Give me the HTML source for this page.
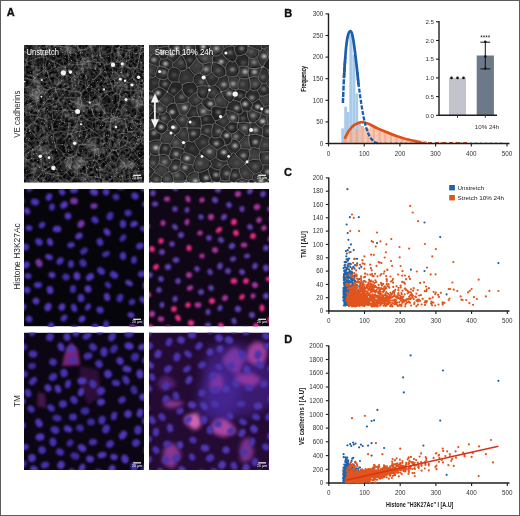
<!DOCTYPE html><html><head><meta charset="utf-8"><style>html,body{margin:0;padding:0;background:#fff;width:520px;height:516px;overflow:hidden}svg{display:block}text{font-family:"Liberation Sans",sans-serif}</style></head><body><svg width="520" height="516" viewBox="0 0 520 516"><defs><filter id="bl1" color-interpolation-filters="sRGB" x="-20%" y="-20%" width="140%" height="140%"><feGaussianBlur stdDeviation="0.6"/></filter><filter id="bl05" color-interpolation-filters="sRGB" x="-50%" y="-50%" width="200%" height="200%"><feGaussianBlur stdDeviation="0.45"/></filter><filter id="bl07" color-interpolation-filters="sRGB" x="-20%" y="-20%" width="140%" height="140%"><feGaussianBlur stdDeviation="0.7"/></filter><filter id="bl08" color-interpolation-filters="sRGB" x="-50%" y="-50%" width="200%" height="200%"><feGaussianBlur stdDeviation="0.8"/></filter><filter id="bl10" color-interpolation-filters="sRGB" x="-50%" y="-50%" width="200%" height="200%"><feGaussianBlur stdDeviation="1.0"/></filter><filter id="bl12" color-interpolation-filters="sRGB" x="-50%" y="-50%" width="200%" height="200%"><feGaussianBlur stdDeviation="1.2"/></filter><filter id="bl15" color-interpolation-filters="sRGB" x="-50%" y="-50%" width="200%" height="200%"><feGaussianBlur stdDeviation="2"/></filter><filter id="nzA" color-interpolation-filters="sRGB" x="0" y="0" width="100%" height="100%"><feTurbulence type="fractalNoise" baseFrequency="0.35" numOctaves="2" seed="4"/><feColorMatrix type="matrix" values="0.6 0 0 0 -0.16  0.6 0 0 0 -0.16  0.6 0 0 0 -0.16  0 0 0 0 1"/></filter><filter id="mW" color-interpolation-filters="sRGB" x="0" y="0" width="100%" height="100%"><feTurbulence type="fractalNoise" baseFrequency="0.07" numOctaves="2" seed="21"/><feColorMatrix type="matrix" values="0 0 0 0 1  0 0 0 0 1  0 0 0 0 1  2.2 0 0 0 -1.12"/></filter><filter id="mK" color-interpolation-filters="sRGB" x="0" y="0" width="100%" height="100%"><feTurbulence type="fractalNoise" baseFrequency="0.06" numOctaves="2" seed="33"/><feColorMatrix type="matrix" values="0 0 0 0 0  0 0 0 0 0  0 0 0 0 0  2.6 0 0 0 -1.25"/></filter><filter id="nzB" color-interpolation-filters="sRGB" x="0" y="0" width="100%" height="100%"><feTurbulence type="fractalNoise" baseFrequency="0.2" numOctaves="2" seed="9"/><feColorMatrix type="matrix" values="1 0 0 0 -0.35  1 0 0 0 -0.35  1 0 0 0 -0.35  0 0 0 0 1"/></filter><filter id="bl2" color-interpolation-filters="sRGB" x="-50%" y="-50%" width="200%" height="200%"><feGaussianBlur stdDeviation="1.8"/></filter><filter id="bl3" color-interpolation-filters="sRGB" x="-50%" y="-50%" width="200%" height="200%"><feGaussianBlur stdDeviation="5"/></filter><clipPath id="c0"><rect x="24" y="45" width="120" height="137.4"/></clipPath><clipPath id="c1"><rect x="149" y="45" width="120" height="137.4"/></clipPath><clipPath id="c2"><rect x="24" y="189" width="120" height="137.4"/></clipPath><clipPath id="c3"><rect x="149" y="189" width="120" height="137.4"/></clipPath><clipPath id="c4"><rect x="24" y="332.6" width="120" height="137.4"/></clipPath><clipPath id="c5"><rect x="149" y="332.6" width="120" height="137.4"/></clipPath></defs><rect x="0" y="0" width="520" height="516" fill="#fff"/><g clip-path="url(#c0)"><rect x="24" y="45" width="120" height="137.4" fill="#303030" filter="url(#nzA)"/><rect x="24" y="45" width="120" height="137.4" filter="url(#mW)" opacity="0.45"/><rect x="24" y="45" width="120" height="137.4" filter="url(#mK)" opacity="0.7"/><path d="M-6557 -5Q-3284 28 -6 62M-6557 -5Q-3272 35 12 81M-6 62Q2 68 13 69M12 81Q10 78 13 80M13 69Q15 75 13 80M157 37Q154 41 152 45M156 48Q155 46 152 45M147 201Q145 195 147 186M147 201Q156 194 163 187M163 187Q158 186 149 184M147 186Q150 183 149 184M142 221Q145 211 147 201M163 187Q187 182 212 177M-2997 141Q-2834 142 -2668 140M12 81Q16 81 15 86M6 96Q-1331 117 -2668 140M6 96Q6 97 10 94M15 86Q12 88 10 94M13 69Q15 67 16 69M13 80Q19 77 22 76M22 76Q17 71 16 69M-2997 141Q-1561 159 -123 176M-2 280Q8 236 14 191M14 191Q11 187 11 188M11 188Q-58 184 -123 176M18 152Q13 154 8 154M18 152Q17 151 21 154M21 157Q23 156 21 154M21 157Q18 159 16 164M16 164Q10 158 8 154M15 86Q17 88 23 88M10 94Q15 94 20 97M23 88Q23 91 21 97M20 97Q18 97 21 97M22 182Q26 176 26 175M22 182Q21 180 16 180M16 180Q14 177 15 178M15 178Q15 174 17 168M26 175Q23 174 20 169M17 168Q17 168 20 169M11 188Q12 187 16 180M-123 176Q-82 174 -46 174M-46 174Q-16 175 15 178M16 167Q-14 168 -46 174M16 167Q14 167 17 168M18 144Q2 148 -10 149M18 144Q19 144 18 143M18 143Q18 141 17 136M17 136Q-4 144 -27 147M-27 147Q-21 149 -10 149M18 152Q16 148 18 144M8 154Q0 154 -10 149M-225 140Q-125 141 -27 147M-225 140Q-107 133 12 130M12 130Q17 131 17 135M17 135Q16 135 17 136M-225 140Q-393 139 -556 135M16 167Q16 164 16 164M-2668 140Q-1612 135 -556 135M194 66Q174 64 153 65M194 66Q172 59 154 57M153 65Q152 63 151 59M154 57Q152 58 151 59M156 48Q154 50 154 57M194 66Q197 66 201 66M201 66Q1647 86 3088 109M153 65Q150 68 150 71M151 59Q153 61 150 59M141 63Q147 58 150 59M141 63Q146 68 147 71M147 71Q147 71 150 71M201 66Q175 72 153 74M150 71Q153 74 153 74M160 84Q158 80 153 78M160 84Q603 98 1043 115M3088 109Q2064 111 1043 115M153 74Q153 75 153 78M149 85Q152 87 154 88M149 85Q146 88 145 90M145 90Q146 93 150 95M150 95Q151 95 155 92M154 88Q154 90 155 92M160 84Q158 86 154 88M149 83Q150 83 153 78M149 83Q147 83 149 85M149 99Q150 95 150 95M149 99Q150 103 154 103M172 103Q165 104 154 103M172 103Q165 99 155 92M444 120Q743 118 1043 115M444 120Q318 115 193 108M193 108Q182 104 172 103M141 101Q143 102 142 101M141 101Q142 96 141 91M142 101Q147 100 149 99M145 90Q143 88 141 90M141 91Q141 92 141 90M71 1982Q87 1139 101 292M142 221Q138 212 134 200M101 292Q107 246 117 197M117 197Q120 192 124 192M124 192Q130 196 134 200M147 186Q144 187 142 184M142 184Q137 187 135 188M134 200Q134 194 135 188M146 149Q148 150 150 154M146 149Q142 152 138 151M138 157Q137 151 138 151M138 157Q139 159 145 161M145 161Q150 155 150 154M32 106Q37 104 37 103M32 106Q29 104 29 104M31 96Q28 99 28 100M31 96Q34 95 37 96M29 104Q27 104 28 100M37 103Q39 99 37 96M46 110Q49 112 53 111M46 110Q48 112 45 118M52 121Q47 120 47 120M52 121Q53 118 53 119M53 111Q51 114 53 119M45 118Q45 120 47 120M6 96Q10 98 14 104M20 97Q17 100 18 103M14 104Q18 106 18 103M106 122Q103 122 102 117M106 122Q113 121 116 120M102 117Q105 114 105 113M105 113Q106 113 111 113M116 120Q111 117 111 113M147 133Q153 139 156 141M147 133Q146 132 144 134M144 134Q145 138 142 138M142 138Q147 143 147 146M147 146Q152 143 156 141M175 141Q164 140 156 141M175 141Q165 147 153 155M146 149Q148 148 147 146M153 155Q151 157 150 154M138 151Q134 149 134 148M142 138Q139 141 139 139M139 139Q136 142 134 148M83 165Q82 161 85 156M83 165Q85 165 88 168M96 161Q89 158 87 155M96 161Q96 164 94 166M85 156Q88 157 87 155M94 166Q93 168 88 168M21 154Q25 151 29 148M18 143Q22 143 28 144M29 148Q26 148 28 144M17 135Q19 132 22 133M22 133Q26 138 30 141M28 144Q28 142 30 141M83 165Q82 164 79 166M85 156Q79 154 78 152M78 152Q76 156 73 156M79 166Q76 163 73 156M21 157Q21 156 26 160M20 169Q24 166 26 165M26 165Q24 161 26 160M14 191Q17 190 21 190M22 182Q22 184 22 183M22 183Q21 185 21 190M-2 280Q11 233 22 192M22 192Q21 190 21 190M106 122Q105 123 105 128M105 128Q105 130 103 130M103 130Q101 131 96 128M102 117Q98 118 96 118M96 128Q95 122 96 118M104 136Q106 134 103 130M104 136Q105 139 101 138M101 138Q98 136 91 138M91 138Q90 133 92 131M96 128Q94 130 92 131M76 144Q77 145 78 146M76 144Q77 138 76 136M78 146Q83 143 86 144M76 136Q76 136 79 134M79 134Q85 136 90 139M86 144Q87 143 90 139M89 152Q87 151 87 155M89 152Q86 145 86 144M78 152Q79 147 78 146M98 149Q96 149 89 152M98 149Q93 144 90 139M90 139Q89 138 90 139M152 45Q148 45 148 45M150 59Q145 54 145 51M145 51Q149 47 148 45M157 37Q152 36 149 33M149 33Q148 35 144 40M148 45Q145 44 144 40M149 33Q144 -12 137 -58M193 -12244Q163 -6170 136 -94M137 -58Q138 -75 136 -94M13 36Q17 39 16 40M13 36Q17 25 22 18M16 40Q22 39 24 36M24 36Q23 28 22 18M-445 7Q-217 21 13 36M22 18Q24 5 25 -8M-6 62Q3 62 10 57M10 57Q16 59 17 61M16 69Q16 69 18 66M17 61Q17 65 18 66M21 53Q20 51 23 50M21 53Q17 55 14 53M14 53Q15 48 13 46M23 48Q20 46 16 44M23 48Q22 51 23 50M13 46Q15 47 16 44M10 57Q10 55 14 53M21 58Q19 60 17 61M21 58Q22 56 21 53M-445 7Q-217 27 13 46M16 40Q15 44 16 44M30 41Q27 39 24 36M30 41Q25 43 23 48M126 168Q132 164 133 162M126 168Q126 165 121 160M121 160Q124 157 122 158M122 158Q128 159 129 157M129 157Q131 160 133 161M133 162Q134 161 133 161M126 169Q127 167 126 168M126 169Q126 171 130 172M137 166Q135 166 133 162M137 166Q135 170 136 171M136 171Q135 174 130 172M120 173Q125 169 126 169M120 173Q116 171 117 172M117 172Q115 166 116 163M116 163Q117 159 121 160M138 157Q138 158 133 161M134 148Q133 147 132 148M132 148Q132 154 129 157M137 166Q140 166 145 165M145 165Q143 162 145 161M128 77Q123 77 121 79M128 77Q127 73 128 69M121 79Q118 76 117 73M128 69Q128 64 125 65M117 73Q118 67 125 65M143 79Q146 77 144 73M143 79Q142 83 139 81M139 81Q135 82 134 79M137 72Q134 75 134 79M137 72Q142 74 144 73M134 79Q133 79 134 79M149 83Q144 80 143 79M147 71Q148 74 144 73M141 90Q141 87 139 81M141 91Q138 90 131 91M131 91Q133 90 130 90M130 90Q130 85 134 79M128 77Q131 79 134 79M136 69Q133 66 128 69M136 69Q137 72 137 72M121 79Q122 82 121 80M121 80Q124 86 127 89M127 89Q127 92 130 90M444 120Q317 131 191 138M191 138Q170 133 151 128M193 108Q176 113 155 116M155 116Q154 124 151 128M191 138Q181 137 175 141M147 133Q149 133 150 128M151 128Q151 127 150 128M142 101Q142 105 146 109M154 103Q151 106 149 109M146 109Q148 108 149 109M155 116Q155 115 151 115M149 109Q148 111 151 115M141 63Q143 61 141 63M145 51Q141 54 139 53M141 63Q139 59 139 53M136 69Q135 68 138 64M141 63Q138 62 138 64M131 97Q129 102 125 102M131 97Q136 101 137 102M137 102Q138 107 135 107M125 105Q129 105 132 108M125 105Q127 103 125 102M135 107Q132 108 132 108M141 101Q137 99 137 102M131 91Q130 94 131 97M146 109Q144 113 140 113M140 113Q139 112 135 107M114 86Q118 84 121 80M114 86Q116 87 117 93M127 89Q121 93 119 94M117 93Q117 95 119 94M125 102Q123 98 121 100M119 94Q120 96 121 100M121 111Q116 108 114 107M121 111Q122 107 125 105M114 107Q115 104 114 105M121 100Q117 103 114 105M102 99Q106 95 106 95M102 99Q100 100 103 105M103 105Q106 103 113 104M106 95Q106 94 111 97M111 97Q110 100 113 104M105 113Q105 109 103 106M103 106Q101 104 103 105M111 113Q111 108 114 107M114 105Q113 106 113 104M117 93Q115 93 111 97M132 186Q126 185 125 188M132 186Q132 182 131 180M130 178Q131 177 131 180M130 178Q125 180 123 180M123 180Q123 182 122 184M122 184Q125 184 125 188M124 192Q123 190 125 188M135 188Q134 189 132 186M142 184Q143 181 139 177M139 177Q136 179 131 180M139 175Q137 177 139 177M139 175Q137 172 136 171M130 172Q128 173 130 178M120 173Q123 177 123 180M165 170Q163 167 158 166M165 170Q157 172 150 177M158 166Q153 168 146 166M150 177Q149 177 145 172M145 172Q145 170 146 166M212 177Q187 174 165 170M153 155Q154 161 158 166M149 184Q150 180 150 177M145 165Q145 166 146 166M139 175Q142 173 145 172M46 110Q43 108 45 108M45 108Q43 113 37 112M45 118Q41 119 39 117M39 117Q40 113 37 112M45 108Q43 108 44 105M32 106Q32 110 34 111M44 105Q40 105 37 103M37 112Q37 110 34 111M50 145Q48 145 41 147M50 145Q46 138 46 136M41 147Q40 145 39 141M39 141Q41 140 46 136M30 128Q29 129 30 126M30 128Q30 131 35 135M30 126Q30 124 34 123M35 135Q38 132 42 129M34 123Q36 123 34 123M34 123Q39 125 42 128M42 128Q44 128 42 129M22 133Q24 135 22 133M22 133Q27 130 30 128M30 141Q31 142 34 139M34 139Q36 138 35 135M39 141Q35 140 34 139M46 136Q48 133 47 133M47 133Q46 131 42 129M39 117Q35 120 34 123M30 115Q30 120 34 123M30 115Q33 111 34 111M47 120Q43 125 42 128M30 115Q27 115 27 115M30 126Q27 123 21 120M21 120Q22 120 27 115M29 104Q28 107 23 108M27 115Q24 112 23 108M21 97Q24 96 28 100M18 103Q19 103 22 108M23 108Q21 107 22 108M104 136Q108 138 111 139M105 128Q111 131 115 130M111 139Q110 138 113 138M113 138Q112 133 115 130M116 120Q114 118 116 120M116 120Q114 124 116 129M115 130Q117 128 116 129M116 120Q120 118 120 118M121 111Q121 113 122 115M120 118Q119 116 122 115M132 108Q131 113 129 115M122 115Q124 117 129 115M132 148Q132 148 131 147M122 158Q119 156 120 150M131 147Q124 149 120 150M100 159Q99 156 98 149M100 159Q101 161 101 159M101 159Q104 158 110 155M101 147Q100 148 98 149M101 147Q106 148 110 148M110 155Q110 153 112 150M110 148Q109 149 112 150M96 161Q98 159 100 159M98 149Q98 150 98 149M113 162Q108 162 107 165M113 162Q110 159 110 155M107 165Q102 161 101 159M101 138Q101 143 101 147M90 139Q89 140 91 138M111 139Q109 144 110 148M116 163Q113 163 113 162M120 150Q119 149 119 150M119 150Q115 150 112 150M113 138Q118 140 121 140M119 150Q119 143 121 140M40 150Q35 149 32 151M40 150Q42 152 42 155M42 155Q41 154 41 158M41 158Q38 157 33 159M32 151Q32 155 32 158M32 158Q33 157 33 159M41 147Q40 151 40 150M29 148Q28 150 32 151M50 145Q51 146 53 146M53 146Q51 148 49 154M49 154Q46 152 42 155M26 160Q31 160 32 158M59 155Q63 154 67 153M59 155Q58 153 55 146M67 153Q65 149 66 146M55 146Q55 147 56 145M56 145Q62 144 65 145M66 146Q63 146 65 145M67 163Q69 158 72 157M67 163Q65 162 61 162M72 157Q69 154 67 153M61 162Q60 158 59 157M59 157Q59 158 59 155M53 146Q54 145 55 146M59 157Q56 160 52 159M49 154Q53 158 52 159M73 156Q74 158 72 157M76 144Q72 145 66 146M68 134Q66 135 68 134M68 134Q72 137 76 136M68 134Q65 141 65 145M67 163Q67 167 69 167M79 166Q81 165 77 169M77 169Q72 170 69 167M52 159Q54 161 51 162M41 158Q41 159 44 165M51 162Q46 166 44 165M61 162Q61 165 57 169M51 162Q55 167 57 169M69 223Q66 209 65 192M69 223Q72 206 77 191M77 191Q71 188 69 188M65 192Q67 188 69 188M88 168Q88 171 87 178M78 178Q83 177 86 179M78 178Q76 177 77 177M77 177Q78 174 77 169M87 178Q88 180 86 179M57 139Q61 136 63 133M57 139Q53 134 50 132M63 133Q62 131 58 129M58 129Q57 127 53 129M53 129Q51 129 50 132M68 134Q64 135 63 133M56 145Q56 143 57 139M47 133Q47 132 50 132M68 134Q68 129 69 123M62 121Q59 126 58 129M62 121Q67 124 69 123M52 121Q50 125 53 129M62 121Q61 121 62 120M62 120Q56 121 53 119M103 106Q97 110 92 109M96 118Q92 117 94 117M94 117Q93 115 92 109M90 103Q96 99 99 98M90 103Q89 107 90 108M99 98Q100 97 102 99M92 109Q93 110 90 108M109 34Q107 33 106 31M109 34Q112 38 111 45M106 31Q105 38 99 42M111 45Q108 46 102 46M99 42Q102 44 102 46M193 -12244Q139 -6382 83 -518M83 -518Q88 -314 93 -113M121 35Q121 36 121 35M121 35Q115 36 109 34M121 35Q130 -31 136 -94M106 31Q105 23 102 18M93 -113Q95 -50 102 18M121 35Q124 37 129 39M137 -58Q135 -18 135 26M129 39Q133 32 135 26M144 40Q144 39 140 40M140 40Q139 32 135 26M113 183Q110 183 104 181M113 183Q115 182 115 186M115 186Q115 187 113 189M113 189Q111 192 106 191M106 191Q102 187 102 187M102 187Q104 187 104 181M117 172Q118 173 114 174M114 174Q115 176 113 183M122 184Q116 185 115 186M117 197Q115 194 113 189M106 169Q106 171 108 172M106 169Q104 169 98 170M108 172Q105 177 103 180M103 180Q103 177 97 177M98 170Q98 173 97 177M107 165Q106 166 106 169M114 174Q111 173 108 172M94 166Q96 168 98 170M104 181Q104 182 103 180M94 179Q95 183 95 189M94 179Q98 176 97 177M95 189Q97 190 102 187M87 178Q89 177 94 179M22 76Q22 75 23 76M23 88Q23 89 25 87M23 76Q23 80 25 87M31 96Q29 94 29 88M29 88Q28 87 28 87M25 87Q28 89 28 87M21 58Q24 61 26 61M23 50Q26 52 30 55M26 61Q29 56 30 55M53 111Q52 109 54 111M62 120Q61 118 63 112M54 111Q60 109 63 112M90 103Q88 104 89 102M99 98Q98 95 94 91M94 91Q93 90 89 92M89 92Q91 98 89 102M125 65Q124 63 124 63M138 64Q133 63 132 60M132 60Q130 58 126 62M126 62Q125 65 124 63M140 115Q140 115 144 119M140 115Q134 117 133 120M136 127Q134 126 133 122M136 127Q138 123 145 123M145 123Q147 118 144 119M133 120Q132 120 133 122M151 115Q145 116 144 119M140 113Q141 115 140 115M129 115Q132 118 133 120M136 127Q141 128 144 134M136 127Q137 127 136 127M150 128Q146 125 145 123M120 118Q122 123 126 124M126 124Q129 122 133 122M132 60Q135 58 134 54M139 53Q141 54 139 53M134 54Q136 53 139 53M140 40Q138 42 135 43M139 53Q139 47 135 43M16 114Q19 115 19 121M16 114Q12 115 11 111M-12 116Q-2 114 11 111M-12 116Q4 120 15 123M15 123Q17 123 18 122M18 122Q21 123 19 121M21 120Q19 119 19 121M22 108Q18 109 16 114M14 104Q14 109 11 111M-556 135Q-286 123 -12 116M12 130Q13 127 15 123M22 133Q22 127 18 122M128 141Q126 142 123 139M128 141Q132 136 133 135M123 139Q124 136 123 131M132 132Q134 133 133 135M132 132Q126 131 124 131M124 131Q123 130 123 131M131 147Q131 145 128 141M121 140Q123 141 123 139M139 139Q134 135 133 135M116 129Q119 132 123 131M136 127Q135 131 132 132M126 124Q126 129 124 131M62 1104Q65 1092 62 1078M62 1104Q49 652 31 195M62 1078Q56 646 48 211M48 211Q42 199 39 191M39 191Q37 192 31 195M22 183Q25 181 31 184M22 192Q26 190 29 193M31 184Q33 183 32 185M32 185Q32 191 29 193M71 1982Q68 1542 62 1104M31 195Q31 196 29 193M57 169Q58 169 57 172M57 172Q50 175 48 173M44 165Q44 163 43 167M48 173Q46 170 43 167M33 159Q33 166 34 169M43 167Q37 166 34 169M26 165Q29 167 34 170M34 169Q36 170 34 170M26 175Q28 173 33 173M34 170Q32 172 33 173M31 184Q34 177 34 174M33 173Q34 172 34 174M58 174Q57 177 59 178M58 174Q64 172 66 172M66 172Q69 174 72 178M59 178Q57 179 60 180M60 180Q63 182 69 182M72 178Q72 178 69 182M69 167Q68 168 66 172M57 172Q59 172 58 174M77 177Q76 178 72 178M65 192Q63 189 60 190M69 188Q71 184 69 182M60 190Q62 185 60 180M77 191Q77 191 78 190M78 178Q77 185 78 190M94 190Q90 190 87 188M94 190Q97 213 98 231M98 235Q97 232 98 231M98 235Q93 213 83 191M83 191Q84 190 87 188M86 179Q85 186 87 188M95 189Q96 190 94 190M106 191Q101 213 98 231M101 292Q101 265 98 235M62 1078Q68 648 69 223M78 190Q81 192 83 191M92 131Q88 126 85 126M94 117Q90 117 87 120M87 120Q83 125 85 126M79 134Q81 131 81 127M81 127Q84 127 85 126M69 123Q71 120 74 121M81 127Q76 124 74 121M91 47Q89 46 86 48M91 47Q90 43 94 42M86 48Q83 46 82 40M94 42Q92 39 92 38M92 38Q88 36 83 36M82 40Q83 38 83 36M83 36Q81 38 83 36M88 59Q92 56 96 56M88 59Q90 57 87 58M97 56Q98 56 96 56M97 56Q93 51 91 47M87 58Q85 54 84 51M84 51Q84 49 86 48M100 55Q101 51 102 46M100 55Q97 53 97 56M99 42Q98 40 94 42M75 46Q79 43 82 40M75 46Q79 47 78 51M78 51Q83 49 84 51M102 18Q95 29 92 38M93 -113Q86 -38 83 36M18 66Q23 64 26 66M26 61Q28 62 27 65M26 66Q29 63 27 65M23 76Q22 76 25 75M26 66Q24 70 25 75M28 87Q33 82 35 78M35 78Q32 76 34 76M34 76Q34 77 34 76M25 75Q31 75 34 76M47 82Q42 81 40 83M47 82Q47 83 50 88M50 88Q49 90 44 94M40 83Q37 87 38 89M38 89Q39 89 40 93M40 93Q44 96 44 94M29 88Q32 90 38 89M35 78Q37 82 40 83M37 96Q39 96 40 93M44 105Q45 101 47 100M47 100Q47 97 44 94M80 80Q82 82 85 81M80 80Q78 87 74 88M85 81Q85 86 87 90M74 88Q75 89 80 93M80 93Q82 91 87 90M76 103Q74 101 73 102M76 103Q80 101 80 100M73 102Q71 103 70 99M80 100Q82 98 80 93M70 99Q73 95 72 89M72 89Q72 91 74 88M89 92Q86 93 87 90M89 102Q84 100 80 100M117 73Q115 72 113 72M124 63Q122 63 115 59M115 59Q114 60 111 63M113 72Q112 65 111 63M88 59Q89 61 88 68M96 56Q96 60 97 67M97 67Q94 69 88 68M100 55Q99 57 100 55M100 55Q102 60 107 63M107 63Q102 66 100 70M97 67Q99 67 100 70M80 80Q77 79 78 78M85 81Q89 82 90 78M78 78Q79 72 81 69M81 69Q82 67 88 69M88 69Q87 72 90 78M94 91Q97 87 97 86M97 86Q96 81 94 79M90 78Q91 78 94 79M114 86Q113 85 113 85M106 95Q104 93 105 91M113 85Q111 86 105 91M97 86Q97 87 100 87M105 91Q102 88 100 87M78 51Q80 50 77 52M87 58Q84 61 77 63M77 52Q75 56 77 63M77 64Q77 67 81 69M77 64Q79 61 77 63M88 68Q86 66 88 69M77 63Q76 61 77 63M46 34Q47 40 43 42M46 34Q43 34 35 34M43 42Q41 44 35 44M35 34Q33 38 32 41M35 44Q33 42 32 41M30 41Q33 40 32 41M25 -8Q29 14 35 34M30 55Q31 53 31 55M36 48Q33 50 31 55M36 48Q38 46 35 44M83 -518Q75 -280 62 -43M46 34Q49 36 46 34M46 34Q54 -3 62 -43M70 41Q66 39 63 41M70 41Q72 36 72 36M63 41Q62 37 61 31M72 36Q70 29 64 19M64 19Q61 27 61 31M75 46Q73 45 71 43M71 43Q71 44 70 41M83 36Q77 33 72 36M62 -43Q65 -11 64 19M46 34Q51 34 53 38M53 38Q55 35 61 31M71 43Q69 49 65 52M63 41Q61 44 58 46M65 52Q60 49 58 46M53 38Q53 43 55 46M55 46Q57 47 58 46M126 62Q127 60 126 53M134 54Q134 51 130 51M126 53Q129 52 130 51M135 43Q131 43 131 43M130 51Q132 49 131 43M129 39Q128 39 130 42M130 42Q132 45 131 43M112 46Q111 47 113 52M112 46Q116 45 118 44M118 44Q122 43 123 46M113 52Q114 55 114 54M114 54Q118 52 123 51M123 46Q121 50 123 51M111 45Q112 45 112 46M100 55Q107 55 113 52M121 35Q121 39 118 44M130 42Q127 44 123 46M115 59Q116 58 114 54M107 63Q110 64 111 63M126 53Q124 53 123 51M51 183Q50 188 52 192M51 183Q47 182 44 179M52 192Q44 189 40 187M52 192Q53 192 52 192M44 179Q44 179 43 180M43 180Q42 184 40 187M40 187Q41 186 40 187M60 190Q54 191 52 192M59 178Q53 182 51 183M48 173Q45 175 44 179M48 211Q50 199 52 192M39 191Q42 191 40 187M34 174Q40 177 43 180M32 185Q38 185 40 187M73 114Q75 109 77 107M73 114Q73 118 74 118M74 118Q79 117 82 115M82 115Q82 114 83 111M77 107Q80 108 83 111M65 110Q69 104 73 102M65 110Q69 113 73 114M76 103Q75 104 77 107M65 110Q66 109 64 111M63 112Q62 113 64 111M74 121Q72 119 74 118M87 120Q86 117 82 115M90 108Q88 110 83 111M35 59Q37 57 44 57M35 59Q36 61 33 66M34 66Q33 68 33 66M34 66Q36 68 43 66M43 66Q44 62 44 57M27 65Q28 66 33 66M31 55Q35 56 35 59M34 76Q32 69 34 66M46 71Q38 73 34 76M46 71Q46 66 43 66M61 103Q58 102 56 102M61 103Q62 101 65 99M65 99Q64 94 62 93M56 102Q56 101 53 99M53 99Q54 98 56 92M56 92Q60 91 62 93M54 111Q57 107 56 102M64 111Q62 105 61 103M70 99Q66 98 65 99M72 89Q69 87 68 87M68 87Q68 90 62 93M47 100Q49 99 53 99M55 89Q55 89 56 92M55 89Q52 89 50 88M113 72Q109 72 101 72M113 72Q112 77 108 81M108 81Q106 81 106 81M106 81Q103 75 100 74M100 74Q98 75 101 72M113 72Q111 74 113 72M100 70Q100 69 101 72M113 85Q113 84 108 81M100 87Q103 85 106 81M94 79Q98 76 100 74M72 62Q71 59 68 55M72 62Q67 65 65 66M65 66Q67 67 64 66M64 66Q64 64 62 58M62 58Q65 55 65 54M68 55Q67 55 65 54M77 52Q73 51 68 55M77 63Q72 61 72 62M65 52Q67 51 65 54M77 64Q74 69 72 71M65 66Q64 67 67 70M67 70Q68 68 72 71M78 78Q78 76 75 77M75 77Q73 73 72 71M46 71Q44 73 47 71M47 82Q46 79 49 77M47 71Q49 74 49 77M54 62Q56 59 57 58M54 62Q49 58 44 57M57 58Q54 51 51 49M44 57Q42 56 45 55M45 55Q49 54 50 49M50 49Q52 49 51 49M64 66Q61 68 57 68M62 58Q61 60 57 58M54 67Q55 67 57 68M54 67Q55 63 54 62M44 57Q42 59 44 57M54 67Q48 71 47 71M55 46Q55 46 51 49M36 48Q42 51 45 55M43 42Q46 48 50 49M65 75Q68 78 68 79M65 75Q62 77 59 75M59 83Q63 86 66 84M59 83Q59 78 57 78M66 84Q68 83 68 79M57 78Q60 77 59 75M67 70Q64 74 65 75M75 77Q71 76 68 79M57 68Q57 70 59 75M55 89Q59 84 59 83M68 87Q69 83 66 84M49 77Q54 76 57 78" stroke="#a8a8a8" stroke-width="0.6" fill="none" opacity="0.45"/><path d="M152 177Q147 179 141 184M152 177Q158 170 160 167M160 167Q148 170 136 172M136 172Q137 175 139 181M141 184Q139 185 139 181M175 274Q156 226 141 184M44965 494Q22584 324 199 150M199 150Q188 152 176 154M176 154Q171 160 160 167M44965 494Q22738 288 517 83M145 47Q331 65 517 83M19 109Q23 98 22 93M19 109Q10 113 -3 116M-24 113Q-0 101 21 91M-24 113Q-15 113 -3 116M21 91Q20 92 22 93M1 154Q10 150 18 143M8 123Q11 133 18 143M8 123Q3 121 -3 116M38 117Q39 117 37 116M38 117Q34 122 28 127M37 116Q32 115 23 111M23 111Q21 116 19 125M28 127Q27 126 27 128M19 125Q21 125 27 128M8 123Q15 123 19 125M19 109Q21 109 23 111M18 143Q18 143 23 142M23 142Q24 138 27 128M1 154Q13 158 24 157M17 200Q23 178 24 157M23 142Q25 144 33 149M24 157Q26 154 33 149M78 188Q78 187 82 185M78 188Q85 194 94 201M82 185Q91 188 97 193M94 201Q94 195 97 193M63 213Q71 202 75 189M75 189Q75 187 78 188M152 129Q145 127 143 128M152 129Q155 119 156 109M143 128Q143 127 140 120M156 109Q148 114 140 120M199 150Q177 137 152 129M517 83Q412 87 304 86M156 109Q159 104 159 104M159 104Q232 97 304 86M98 120Q103 121 109 118M98 120Q92 114 91 107M109 118Q104 113 99 104M91 107Q94 104 99 104M-3188 -368Q-1585 -162 15 48M44 -14Q42 6 41 26M41 26Q30 37 15 48M17 200Q24 195 30 187M63 213Q63 203 61 187M30 187Q45 187 61 187M54 133Q52 138 56 147M54 133Q46 136 41 142M56 147Q49 152 41 160M41 142Q39 148 35 150M35 150Q35 153 41 160M38 117Q45 118 52 125M28 127Q33 135 41 142M52 125Q53 131 55 132M55 132Q55 134 54 133M43 171Q41 165 41 160M43 171Q55 164 64 156M64 156Q62 150 56 147M33 149Q31 150 35 150M43 171Q41 169 43 171M30 187Q36 180 43 171M98 120Q95 123 93 122M91 107Q86 105 81 106M79 116Q87 120 93 122M79 116Q77 114 78 111M78 111Q77 111 81 106M71 183Q67 180 64 179M71 183Q71 177 78 174M78 174Q73 171 70 168M70 168Q67 173 62 176M62 176Q62 179 64 179M75 189Q73 185 71 183M61 187Q61 183 64 179M86 175Q88 173 87 176M86 175Q83 172 78 174M87 176Q82 181 82 185M72 157Q76 158 76 155M72 157Q72 161 70 168M86 175Q88 169 85 162M76 155Q83 161 85 162M72 157Q66 159 64 156M43 171Q50 175 62 176M150 153Q144 145 141 142M150 153Q145 154 139 159M141 142Q138 145 132 149M139 159Q134 151 132 149M176 154Q164 154 150 153M143 128Q144 129 141 131M141 131Q143 132 140 138M140 138Q143 142 141 142M132 168Q132 173 136 172M132 168Q133 165 139 159M142 97Q141 95 143 90M142 97Q141 96 137 100M137 100Q127 100 120 96M143 89Q143 87 143 90M143 89Q132 83 127 82M127 82Q121 87 119 95M119 95Q121 95 120 96M159 104Q148 100 142 97M304 86Q265 82 227 79M227 79Q196 82 164 83M164 83Q155 87 143 90M140 120Q135 120 136 117M136 117Q138 110 137 100M127 82Q127 84 127 82M127 82Q127 81 133 77M143 89Q143 88 143 85M133 77Q135 84 143 85M164 83Q152 78 146 78M143 85Q144 82 146 78M77 46Q73 44 74 45M77 46Q92 35 102 26M74 45Q73 38 73 36M73 36Q88 31 103 24M102 26Q104 23 103 24M44 -14Q57 12 73 36M67 48Q73 48 74 45M67 48Q55 44 47 46M41 26Q43 36 47 46M109 9Q106 17 105 21M105 21Q102 20 103 24M67 48Q69 58 69 65M80 50Q80 55 84 62M80 50Q77 45 77 46M84 62Q85 60 83 64M83 64Q77 65 69 65M46 68Q40 72 33 80M46 68Q44 64 47 59M47 59Q46 54 45 55M45 55Q33 60 27 62M27 62Q22 70 20 76M33 80Q25 78 22 79M22 79Q23 76 20 76M47 46Q46 50 45 55M65 68Q68 66 69 65M65 68Q57 62 47 59M15 48Q22 52 27 62M-3188 -368Q-1586 -148 20 76M21 91Q19 86 22 79M46 68Q49 79 53 87M33 80Q41 83 44 89M53 87Q50 91 44 89M22 93Q28 94 36 100M44 89Q40 94 36 100M37 116Q39 114 38 111M36 100Q36 103 38 111M86 130Q81 123 79 118M86 130Q77 131 71 134M79 118Q77 125 71 134M71 134Q69 135 71 134M79 116Q78 117 79 118M93 122Q92 124 92 130M91 130Q93 130 92 130M91 130Q91 127 86 130M79 145Q81 145 82 145M79 145Q75 141 71 134M82 145Q85 137 91 130M52 125Q55 118 63 110M55 132Q62 130 71 134M78 111Q69 110 63 110M79 145Q77 148 76 155M175 274Q151 233 126 188M116 194Q120 189 126 188M139 181Q131 185 127 186M126 188Q127 185 127 186M101 178Q99 174 100 165M101 178Q103 181 104 182M104 182Q103 185 107 182M100 165Q102 162 106 160M106 160Q110 169 118 173M107 182Q112 179 115 176M118 173Q116 176 115 176M87 176Q93 177 101 178M97 193Q98 189 104 182M116 194Q109 190 107 182M127 186Q124 181 115 176M132 168Q127 165 125 166M125 166Q119 171 118 173M125 166Q120 161 116 150M106 160Q108 154 113 149M116 150Q116 152 113 149M132 149Q128 145 124 146M116 150Q118 150 124 146M140 138Q135 143 127 142M124 146Q126 146 127 142M91 47Q93 54 93 61M91 47Q97 40 100 36M100 36Q98 48 101 62M93 61Q96 64 101 62M80 50Q87 50 91 47M84 62Q91 61 93 61M102 26Q104 33 100 36M105 68Q106 74 110 81M105 68Q104 65 105 65M110 81Q118 78 120 76M105 65Q110 65 109 64M109 64Q112 70 120 76M127 82Q127 78 123 76M135 68Q133 70 133 77M135 68Q129 69 123 65M123 65Q120 73 123 76M113 91Q112 84 110 81M113 91Q118 95 119 95M120 76Q125 76 123 76M105 21Q108 35 113 46M105 65Q105 63 101 62M109 64Q110 63 112 63M113 46Q109 56 112 63M145 71Q141 69 137 68M145 71Q151 71 155 66M137 68Q140 56 141 47M155 66Q148 56 144 47M141 47Q142 49 143 47M143 47Q140 48 144 47M135 68Q138 68 137 68M146 78Q145 75 145 71M227 79Q191 74 155 66M145 47Q142 49 144 47M99 104Q100 97 101 94M80 98Q83 101 81 106M80 98Q83 94 81 94M101 94Q95 88 88 87M88 87Q83 89 81 94M59 98Q57 101 59 101M59 98Q57 94 56 91M56 91Q48 99 38 111M59 101Q48 106 38 111M80 98Q70 97 59 98M63 110Q62 108 59 101M38 111Q41 111 38 111M104 143Q102 147 95 146M104 143Q101 151 97 162M95 146Q95 153 94 160M97 162Q97 160 94 160M82 145Q92 144 95 146M92 130Q101 135 105 143M105 143Q104 144 104 143M105 143Q105 142 107 143M100 165Q100 165 97 162M107 143Q113 146 113 149M85 162Q92 160 94 160M111 131Q120 134 127 134M111 131Q109 127 111 119M111 119Q115 118 114 117M114 117Q122 119 125 119M125 119Q126 128 128 132M128 132Q127 134 127 134M107 143Q112 138 111 131M127 142Q128 140 127 134M109 118Q108 116 111 119M113 91Q104 92 101 94M120 96Q120 106 114 117M136 117Q133 117 125 119M141 131Q132 131 128 132M113 46Q118 50 119 48M112 63Q115 62 117 62M119 48Q120 55 117 62M123 65Q120 65 119 62M119 62Q116 64 117 62M83 72Q80 73 72 78M83 72Q87 76 88 86M72 78Q78 81 88 87M88 86Q91 84 88 87M105 68Q96 77 88 86M83 64Q81 71 83 72M88 87Q86 89 88 87M119 48Q124 50 129 50M119 48Q124 41 125 32M129 50Q134 50 136 45M125 32Q128 36 136 45M119 48Q119 45 119 48M119 62Q125 59 129 50M109 9Q117 18 125 32M141 47Q136 46 136 45M71 78Q73 83 72 84M71 78Q69 76 65 75M72 84Q69 87 62 89M65 75Q61 78 55 88M55 88Q55 86 56 90M56 90Q57 88 62 89M81 94Q80 90 78 92M72 78Q73 78 71 78M78 92Q73 91 72 84M65 68Q66 71 65 75M78 92Q68 91 62 89M53 87Q55 87 55 88M56 91Q55 88 56 90" stroke="#c0c0c0" stroke-width="0.7" fill="none" opacity="0.45"/><path d="M51 154h1v1h-1zM43 180h1v1h-1zM112 100h1v1h-1zM47 109h1v1h-1zM138 61h1v1h-1zM53 56h1v1h-1zM111 176h1v1h-1zM91 86h1v1h-1zM140 126h1v1h-1zM139 96h1v1h-1zM41 55h1v1h-1zM56 105h1v1h-1zM116 109h1v1h-1zM56 169h1v1h-1zM93 128h1v1h-1zM122 137h1v1h-1zM53 176h1v1h-1zM43 67h1v1h-1zM102 125h1v1h-1zM52 142h1v1h-1zM36 110h1v1h-1zM138 168h1v1h-1zM96 154h1v1h-1zM104 77h1v1h-1zM127 129h1v1h-1zM95 176h1v1h-1zM91 90h1v1h-1zM75 121h1v1h-1zM129 161h1v1h-1zM72 112h1v1h-1zM30 133h1v1h-1zM120 72h1v1h-1zM100 64h1v1h-1zM125 145h1v1h-1zM136 84h1v1h-1zM44 123h1v1h-1zM31 158h1v1h-1zM49 63h1v1h-1zM42 142h1v1h-1zM30 103h1v1h-1zM46 152h1v1h-1zM30 72h1v1h-1zM117 116h1v1h-1zM38 181h1v1h-1zM69 103h1v1h-1zM113 113h1v1h-1zM124 119h1v1h-1zM53 119h1v1h-1zM125 84h1v1h-1zM100 125h1v1h-1zM107 94h1v1h-1zM51 136h1v1h-1zM126 110h1v1h-1zM40 155h1v1h-1zM87 139h1v1h-1zM36 153h1v1h-1zM69 167h1v1h-1zM54 46h1v1h-1zM62 144h1v1h-1zM110 161h1v1h-1zM49 127h1v1h-1zM33 76h1v1h-1zM29 131h1v1h-1zM131 128h1v1h-1zM96 169h1v1h-1zM64 122h1v1h-1zM121 72h1v1h-1zM108 56h1v1h-1zM68 70h1v1h-1zM76 73h1v1h-1zM31 106h1v1h-1zM71 146h1v1h-1zM26 132h1v1h-1zM29 112h1v1h-1zM26 170h1v1h-1zM83 111h1v1h-1zM33 153h1v1h-1zM56 110h1v1h-1zM111 154h1v1h-1zM70 53h1v1h-1zM142 80h1v1h-1zM29 130h1v1h-1zM129 57h1v1h-1zM29 138h1v1h-1zM93 81h1v1h-1zM56 150h1v1h-1zM27 78h1v1h-1zM68 151h1v1h-1zM62 52h1v1h-1zM113 140h1v1h-1zM39 145h1v1h-1zM99 96h1v1h-1zM93 114h1v1h-1zM119 176h1v1h-1zM65 57h1v1h-1zM68 127h1v1h-1zM55 66h1v1h-1zM49 162h1v1h-1zM110 62h1v1h-1zM60 82h1v1h-1zM37 160h1v1h-1zM59 123h1v1h-1zM70 55h1v1h-1zM28 140h1v1h-1zM99 113h1v1h-1zM45 92h1v1h-1zM85 75h1v1h-1zM93 160h1v1h-1zM45 173h1v1h-1zM85 179h1v1h-1zM140 54h1v1h-1zM106 78h1v1h-1zM99 167h1v1h-1zM79 135h1v1h-1zM104 71h1v1h-1zM75 85h1v1h-1zM82 150h1v1h-1zM41 121h1v1h-1zM84 98h1v1h-1zM125 93h1v1h-1zM120 55h1v1h-1zM77 60h1v1h-1zM126 136h1v1h-1zM49 96h1v1h-1zM39 167h1v1h-1zM131 168h1v1h-1zM97 81h1v1h-1zM79 136h1v1h-1zM75 53h1v1h-1zM87 57h1v1h-1zM52 157h1v1h-1zM98 155h1v1h-1zM106 135h1v1h-1zM54 142h1v1h-1zM39 47h1v1h-1zM65 67h1v1h-1zM107 84h1v1h-1zM28 152h1v1h-1zM136 143h1v1h-1zM139 153h1v1h-1zM136 137h1v1h-1zM118 154h1v1h-1zM38 89h1v1h-1zM98 89h1v1h-1zM129 52h1v1h-1zM39 90h1v1h-1zM65 159h1v1h-1zM26 159h1v1h-1zM141 52h1v1h-1zM138 136h1v1h-1zM40 159h1v1h-1zM38 98h1v1h-1zM53 98h1v1h-1zM41 97h1v1h-1zM92 109h1v1h-1zM87 168h1v1h-1zM126 61h1v1h-1zM112 154h1v1h-1zM133 99h1v1h-1zM135 122h1v1h-1zM80 115h1v1h-1zM73 140h1v1h-1zM88 166h1v1h-1zM80 52h1v1h-1zM43 102h1v1h-1zM81 157h1v1h-1zM95 68h1v1h-1zM60 119h1v1h-1zM119 142h1v1h-1zM101 80h1v1h-1zM92 79h1v1h-1zM32 149h1v1h-1zM102 181h1v1h-1zM114 80h1v1h-1zM27 104h1v1h-1zM65 116h1v1h-1zM69 52h1v1h-1zM32 94h1v1h-1zM95 69h1v1h-1zM46 77h1v1h-1zM113 150h1v1h-1zM82 52h1v1h-1zM137 164h1v1h-1zM60 46h1v1h-1zM83 68h1v1h-1zM70 100h1v1h-1zM61 170h1v1h-1zM71 60h1v1h-1zM93 167h1v1h-1zM52 115h1v1h-1zM69 138h1v1h-1zM61 80h1v1h-1zM139 158h1v1h-1zM108 135h1v1h-1zM136 53h1v1h-1zM77 131h1v1h-1zM39 182h1v1h-1zM106 149h1v1h-1zM140 124h1v1h-1zM134 96h1v1h-1zM135 115h1v1h-1zM117 82h1v1h-1zM81 121h1v1h-1zM86 172h1v1h-1zM79 165h1v1h-1zM37 74h1v1h-1zM45 70h1v1h-1zM94 59h1v1h-1zM105 165h1v1h-1zM135 53h1v1h-1zM54 106h1v1h-1zM26 138h1v1h-1zM79 104h1v1h-1zM43 54h1v1h-1zM130 127h1v1h-1zM66 166h1v1h-1zM38 100h1v1h-1zM33 154h1v1h-1zM130 84h1v1h-1zM122 176h1v1h-1z" fill="#9a9a9a" opacity="0.7"/><g fill="#f2f2f2" filter="url(#bl05)"><circle cx="63.3" cy="72.8" r="2.6"/><circle cx="70.4" cy="72.1" r="1.8"/><circle cx="41.9" cy="80" r="1.0"/><circle cx="77.6" cy="111.5" r="2.5"/><circle cx="41.4" cy="96.6" r="0.9"/><circle cx="24.8" cy="81.6" r="0.8"/><circle cx="113" cy="64.7" r="2.2"/><circle cx="122.3" cy="63.8" r="1.6"/><circle cx="138.6" cy="77.2" r="1.8"/><circle cx="132" cy="85" r="1.6"/><circle cx="120.3" cy="79.2" r="1.4"/><circle cx="125" cy="80.7" r="1.2"/><circle cx="104" cy="89.4" r="1.1"/><circle cx="126" cy="99.6" r="1.6"/><circle cx="116" cy="127" r="1.2"/><circle cx="74.7" cy="143.2" r="1.8"/><circle cx="40.3" cy="156.3" r="1.8"/><circle cx="49" cy="157.7" r="1.4"/><circle cx="53.4" cy="168" r="2.3"/><circle cx="81" cy="124.3" r="1.1"/><circle cx="89.8" cy="102.5" r="1.0"/></g></g><g clip-path="url(#c1)"><rect x="149" y="45" width="120" height="137.4" fill="#1e1e1e"/><g filter="url(#bl1)"><path d="M249 162L259 161L262 165L259 171L254 173L247 164L247 164Z" fill="rgb(55,55,55)"/><path d="M210 85L209 84L206 76L212 73L218 78L215 84Z" fill="rgb(45,45,45)"/><path d="M144 87L148 91L143 101L142 101L136 94L143 87Z" fill="rgb(52,52,52)"/><path d="M201 40L195 44L190 40L192 28L201 37Z" fill="rgb(39,39,39)"/><path d="M236 75L238 67L234 62L231 62L226 68L226 75L228 76Z" fill="rgb(46,46,46)"/><path d="M201 252L191 201L196 188L201 186L201 186L207 198Z" fill="rgb(46,46,46)"/><path d="M275 169L271 165L264 166L262 172L269 179L269 179L275 172Z" fill="rgb(47,47,47)"/><path d="M191 106L187 114L190 117L198 116L197 107Z" fill="rgb(41,41,41)"/><path d="M240 37L232 33L230 36L232 45L234 46L240 42Z" fill="rgb(50,50,50)"/><path d="M263 47L261 38L261 37L269 35L271 44L264 48Z" fill="rgb(52,52,52)"/><path d="M234 183L230 179L233 170L239 170L241 178Z" fill="rgb(42,42,42)"/><path d="M173 181L170 174L169 173L163 177L163 186L169 188Z" fill="rgb(58,58,58)"/><path d="M240 35L232 32L222 -93L199 -1830L211 -9433L250 12L246 32Z" fill="rgb(44,44,44)"/><path d="M211 109L203 103L204 100L207 98L213 100L215 106Z" fill="rgb(45,45,45)"/><path d="M168 79L171 82L166 91L160 87L160 80Z" fill="rgb(37,37,37)"/><path d="M250 79L249 79L251 88L256 89L261 83L257 78Z" fill="rgb(57,57,57)"/><path d="M148 148L150 143L159 141L162 143L159 154L158 154L152 153Z" fill="rgb(57,57,57)"/><path d="M197 158L200 155L209 161L209 166L207 168L198 171L196 170L194 164Z" fill="rgb(59,59,59)"/><path d="M260 113L260 114L255 121L251 121L248 112L252 109Z" fill="rgb(56,56,56)"/><path d="M146 165L153 170L153 172L148 178L144 178L142 168L143 166Z" fill="rgb(43,43,43)"/><path d="M186 182L195 187L190 201L183 191Z" fill="rgb(53,53,53)"/><path d="M213 64L213 72L219 77L224 75L223 68L214 63Z" fill="rgb(50,50,50)"/><path d="M248 136L245 137L240 142L241 147L249 148L250 147L249 137Z" fill="rgb(60,60,60)"/><path d="M239 103L234 101L230 103L228 107L229 109L238 113L242 110Z" fill="rgb(43,43,43)"/><path d="M169 143L174 136L174 136L167 131L162 134L161 139L163 142Z" fill="rgb(60,60,60)"/><path d="M235 91L229 88L222 93L229 101L232 99Z" fill="rgb(49,49,49)"/><path d="M250 67L249 66L250 59L256 58L261 66L261 66Z" fill="rgb(55,55,55)"/><path d="M193 143L189 142L186 144L184 149L185 151L195 156L199 153L199 151Z" fill="rgb(41,41,41)"/><path d="M234 189L225 192L219 188L219 184L222 181L229 181L233 185Z" fill="rgb(50,50,50)"/><path d="M1009 118L288 159L276 153L275 150L276 148L298 138L449 130L746 121Z" fill="rgb(42,42,42)"/><path d="M198 118L199 118L200 125L199 127L188 127L188 127L190 119Z" fill="rgb(42,42,42)"/><path d="M187 101L188 98L182 90L175 97L176 102L177 103Z" fill="rgb(45,45,45)"/><path d="M267 83L271 79L275 80L278 85L275 90L271 91Z" fill="rgb(55,55,55)"/><path d="M149 118L149 118L155 124L159 121L159 115L154 112Z" fill="rgb(34,34,34)"/><path d="M179 114L174 119L172 119L167 112L168 108L174 105L176 105Z" fill="rgb(38,38,38)"/><path d="M211 51L211 46L217 40L223 49L221 52L214 55Z" fill="rgb(60,60,60)"/><path d="M258 77L262 82L266 82L269 78L267 71L263 68L263 68L262 69Z" fill="rgb(49,49,49)"/><path d="M137 57L142 65L141 67L131 73L-664 68L-359 62Z" fill="rgb(36,36,36)"/><path d="M262 112L262 113L267 115L273 112L274 107L272 105L264 106Z" fill="rgb(40,40,40)"/><path d="M208 144L201 150L195 142L201 135L209 139Z" fill="rgb(48,48,48)"/><path d="M258 99L259 96L256 91L251 90L248 93L247 97L252 102Z" fill="rgb(43,43,43)"/><path d="M231 154L227 160L217 157L218 150L225 146L225 146Z" fill="rgb(41,41,41)"/><path d="M172 63L167 59L162 60L160 66L169 69L172 66Z" fill="rgb(42,42,42)"/><path d="M247 189L253 195L259 189L259 188L252 180L250 181Z" fill="rgb(34,34,34)"/><path d="M192 165L193 170L186 175L181 170L182 163Z" fill="rgb(47,47,47)"/><path d="M209 145L216 150L215 156L210 159L202 153L202 151Z" fill="rgb(59,59,59)"/><path d="M210 45L203 40L203 37L211 31L216 39L216 39Z" fill="rgb(49,49,49)"/><path d="M140 113L129 122L141 124L147 119L147 118Z" fill="rgb(37,37,37)"/><path d="M209 137L211 136L213 125L202 126L201 128L202 134Z" fill="rgb(44,44,44)"/><path d="M247 112L249 122L249 122L239 122L239 114L243 112Z" fill="rgb(35,35,35)"/><path d="M212 111L212 113L216 119L225 113L226 110L226 108L216 107Z" fill="rgb(35,35,35)"/><path d="M211 144L217 149L224 145L219 138L213 138L211 139Z" fill="rgb(42,42,42)"/><path d="M168 190L162 188L158 189L158 267L160 284L169 192Z" fill="rgb(38,38,38)"/><path d="M168 38L177 26L179 40L170 44Z" fill="rgb(54,54,54)"/><path d="M262 50L260 51L258 57L262 66L263 66L268 58L264 50Z" fill="rgb(56,56,56)"/><path d="M278 67L268 69L265 67L270 59L276 59Z" fill="rgb(34,34,34)"/><path d="M248 77L248 77L240 77L238 75L240 68L248 67L248 68Z" fill="rgb(58,58,58)"/><path d="M144 180L148 180L155 188L147 192L143 190L143 181Z" fill="rgb(41,41,41)"/><path d="M187 67L183 56L184 55L194 54L195 55L196 58L189 67Z" fill="rgb(37,37,37)"/><path d="M173 103L167 106L160 101L167 93L173 98Z" fill="rgb(53,53,53)"/><path d="M187 129L186 129L181 129L176 135L176 135L185 142L188 140Z" fill="rgb(55,55,55)"/><path d="M264 105L272 104L269 95L261 96L260 100Z" fill="rgb(58,58,58)"/><path d="M196 92L189 97L183 89L184 86L192 83L196 88Z" fill="rgb(38,38,38)"/><path d="M144 84L149 77L142 69L132 75L143 84Z" fill="rgb(47,47,47)"/><path d="M278 54L274 47L272 46L265 49L270 57L276 57Z" fill="rgb(59,59,59)"/><path d="M145 102L152 105L157 100L152 92L150 92Z" fill="rgb(36,36,36)"/><path d="M259 37L252 38L248 32L252 13L260 36Z" fill="rgb(41,41,41)"/><path d="M269 195L275 189L275 188L269 182L269 182L261 188L261 189Z" fill="rgb(43,43,43)"/><path d="M244 163L244 164L239 168L233 168L229 164L229 161L233 155L236 155Z" fill="rgb(59,59,59)"/><path d="M216 124L223 129L223 130L220 136L213 136L214 126Z" fill="rgb(49,49,49)"/><path d="M211 166L212 161L216 158L226 162L227 164L220 169Z" fill="rgb(48,48,48)"/><path d="M202 184L202 184L211 180L208 171L199 173Z" fill="rgb(38,38,38)"/><path d="M139 57L143 64L148 62L150 55L143 50Z" fill="rgb(43,43,43)"/><path d="M160 165L167 168L168 172L162 176L155 172L155 170Z" fill="rgb(61,61,61)"/><path d="M175 121L180 128L175 134L168 130L168 125L172 121Z" fill="rgb(45,45,45)"/><path d="M238 192L246 337L252 196L245 191Z" fill="rgb(60,60,60)"/><path d="M250 136L261 136L262 137L259 148L252 147Z" fill="rgb(43,43,43)"/><path d="M215 57L215 62L224 67L229 61L222 54Z" fill="rgb(45,45,45)"/><path d="M1435 82L279 84L277 80L284 72Z" fill="rgb(46,46,46)"/><path d="M179 55L170 49L168 58L173 62Z" fill="rgb(42,42,42)"/><path d="M214 98L219 92L215 87L210 87L208 96Z" fill="rgb(53,53,53)"/><path d="M249 150L247 160L245 162L237 154L241 149Z" fill="rgb(47,47,47)"/><path d="M237 124L230 123L225 128L226 129L231 133L237 129Z" fill="rgb(38,38,38)"/><path d="M190 68L197 59L203 64L200 72L195 74Z" fill="rgb(59,59,59)"/><path d="M209 51L197 54L196 52L196 46L202 42L209 46Z" fill="rgb(34,34,34)"/><path d="M146 148L147 142L144 137L122 140L142 149Z" fill="rgb(49,49,49)"/><path d="M179 159L173 159L170 155L173 149L182 149L182 152Z" fill="rgb(47,47,47)"/><path d="M217 122L224 127L229 122L226 114L217 121Z" fill="rgb(51,51,51)"/><path d="M204 252L210 199L218 189L224 194L207 323Z" fill="rgb(54,54,54)"/><path d="M298 137L278 132L271 138L275 146Z" fill="rgb(48,48,48)"/><path d="M142 45L150 40L144 30L139 36L141 44Z" fill="rgb(45,45,45)"/><path d="M262 84L258 90L261 95L268 93L270 91L266 84Z" fill="rgb(42,42,42)"/><path d="M271 93L276 92L286 101L275 105L273 103L270 94Z" fill="rgb(37,37,37)"/><path d="M184 182L181 191L172 190L171 189L175 181L184 181Z" fill="rgb(38,38,38)"/><path d="M186 67L181 56L180 56L174 63L174 66L181 69Z" fill="rgb(52,52,52)"/><path d="M179 161L173 161L169 168L170 171L172 172L179 170L180 163Z" fill="rgb(47,47,47)"/><path d="M189 42L183 43L184 53L194 52L194 46Z" fill="rgb(50,50,50)"/><path d="M142 86L131 76L-664 71L-1698 77L135 92Z" fill="rgb(40,40,40)"/><path d="M449 126L279 119L276 125L278 130L298 134Z" fill="rgb(58,58,58)"/><path d="M146 163L150 155L146 150L143 151L139 158L143 164Z" fill="rgb(61,61,61)"/><path d="M190 28L183 7L179 26L180 40L183 42L189 40Z" fill="rgb(61,61,61)"/><path d="M153 39L152 39L146 29L155 -58L158 35Z" fill="rgb(42,42,42)"/><path d="M209 198L203 186L212 182L216 184L217 188Z" fill="rgb(34,34,34)"/><path d="M161 177L154 173L150 179L156 187L158 187L161 185Z" fill="rgb(47,47,47)"/><path d="M154 129L160 134L159 139L150 141L147 136L147 133Z" fill="rgb(37,37,37)"/><path d="M263 128L263 135L264 135L270 137L276 131L274 126L268 125Z" fill="rgb(48,48,48)"/><path d="M156 67L149 64L144 66L143 68L150 76L155 75Z" fill="rgb(57,57,57)"/><path d="M214 122L214 121L210 115L201 118L202 125L212 124Z" fill="rgb(37,37,37)"/><path d="M248 134L249 123L239 124L239 124L239 129L244 134Z" fill="rgb(59,59,59)"/><path d="M261 114L266 117L267 123L262 127L256 122Z" fill="rgb(48,48,48)"/><path d="M178 81L172 81L169 77L170 71L173 68L180 71Z" fill="rgb(40,40,40)"/><path d="M153 42L151 41L143 47L144 48L151 54L155 52L157 48Z" fill="rgb(60,60,60)"/><path d="M218 38L228 34L230 32L220 -93L213 30Z" fill="rgb(39,39,39)"/><path d="M208 85L205 76L200 75L196 76L194 82L198 86Z" fill="rgb(48,48,48)"/><path d="M288 160L276 167L273 164L275 154Z" fill="rgb(44,44,44)"/><path d="M192 104L189 101L190 98L196 93L202 99L201 103L197 105Z" fill="rgb(52,52,52)"/><path d="M223 53L230 60L234 59L236 55L233 48L231 47L225 49Z" fill="rgb(41,41,41)"/><path d="M289 180L276 186L271 180L277 173Z" fill="rgb(51,51,51)"/><path d="M155 41L158 47L168 46L168 45L166 38L160 36Z" fill="rgb(37,37,37)"/><path d="M209 53L198 55L198 58L204 63L212 62L212 62L213 57Z" fill="rgb(59,59,59)"/><path d="M258 51L249 47L249 47L246 54L249 58L256 56Z" fill="rgb(58,58,58)"/><path d="M198 107L202 104L210 111L210 113L200 116L200 116Z" fill="rgb(60,60,60)"/><path d="M248 59L248 66L240 66L236 61L238 57L245 56Z" fill="rgb(40,40,40)"/><path d="M160 164L168 167L171 160L169 156L160 156L160 156Z" fill="rgb(58,58,58)"/><path d="M746 115L449 124L279 117L275 112L276 107L286 103Z" fill="rgb(52,52,52)"/><path d="M273 147L269 139L263 138L260 149L262 151L273 149Z" fill="rgb(56,56,56)"/><path d="M168 71L159 67L158 68L157 76L160 78L167 77Z" fill="rgb(47,47,47)"/><path d="M220 179L220 171L211 167L209 170L213 180L217 182Z" fill="rgb(36,36,36)"/><path d="M186 116L180 115L176 120L181 126L186 127L188 118Z" fill="rgb(54,54,54)"/><path d="M200 134L199 129L188 129L190 140L194 140Z" fill="rgb(41,41,41)"/><path d="M249 179L251 178L253 174L245 165L240 170L242 177Z" fill="rgb(56,56,56)"/><path d="M231 139L231 134L225 130L221 137L225 144L226 144Z" fill="rgb(37,37,37)"/><path d="M216 105L226 106L227 102L221 94L221 93L215 99Z" fill="rgb(60,60,60)"/><path d="M240 101L234 100L236 91L238 90L246 93L245 97Z" fill="rgb(34,34,34)"/><path d="M187 181L196 186L200 184L197 173L195 172L188 177L187 181Z" fill="rgb(61,61,61)"/><path d="M275 45L273 44L271 35L273 32L284 39Z" fill="rgb(53,53,53)"/><path d="M239 88L240 79L248 79L249 89L246 91Z" fill="rgb(53,53,53)"/><path d="M260 187L268 180L260 173L255 175L253 179Z" fill="rgb(53,53,53)"/><path d="M154 125L148 120L143 125L146 132L153 128Z" fill="rgb(53,53,53)"/><path d="M146 85L151 78L155 77L159 80L158 86L152 90L150 89Z" fill="rgb(44,44,44)"/><path d="M217 85L220 79L225 77L227 78L229 87L222 91L221 91Z" fill="rgb(50,50,50)"/><path d="M190 105L188 103L177 105L180 113L186 114Z" fill="rgb(59,59,59)"/><path d="M171 148L169 155L160 154L163 144L169 145Z" fill="rgb(40,40,40)"/><path d="M274 154L271 163L264 164L261 159L262 152L273 151Z" fill="rgb(55,55,55)"/><path d="M248 337L254 196L260 190L268 197L249 1295Z" fill="rgb(47,47,47)"/><path d="M187 69L182 71L180 81L183 84L192 81L193 75L188 70Z" fill="rgb(52,52,52)"/><path d="M222 179L221 171L228 165L231 169L229 179Z" fill="rgb(47,47,47)"/><path d="M174 96L181 89L181 86L178 83L172 83L168 91L168 92Z" fill="rgb(36,36,36)"/><path d="M224 48L230 45L229 36L218 39L218 39Z" fill="rgb(49,49,49)"/><path d="M166 107L165 111L160 113L155 111L154 106L159 102L159 102Z" fill="rgb(56,56,56)"/><path d="M158 65L160 59L156 53L151 55L149 62L157 66Z" fill="rgb(46,46,46)"/><path d="M238 142L232 140L227 145L232 153L235 152L240 148Z" fill="rgb(46,46,46)"/><path d="M237 190L245 189L248 181L242 179L235 184L236 189Z" fill="rgb(61,61,61)"/><path d="M145 133L144 135L122 138L83 133L129 124L141 126Z" fill="rgb(43,43,43)"/><path d="M244 54L238 55L235 48L241 43L247 46Z" fill="rgb(37,37,37)"/><path d="M143 104L141 106L141 112L147 116L152 111L152 107L144 104Z" fill="rgb(48,48,48)"/><path d="M96 176L141 180L143 178L140 169Z" fill="rgb(54,54,54)"/><path d="M141 47L141 49L137 56L-359 60L139 46Z" fill="rgb(51,51,51)"/><path d="M235 192L243 337L244 1295L233 3640L208 323L225 194L234 191Z" fill="rgb(43,43,43)"/><path d="M173 147L182 148L184 143L175 137L171 144Z" fill="rgb(61,61,61)"/><path d="M166 125L160 122L155 125L155 128L161 133L166 130Z" fill="rgb(34,34,34)"/><path d="M237 88L239 79L236 77L229 78L230 87L236 89Z" fill="rgb(60,60,60)"/><path d="M250 150L249 160L259 159L260 152L258 150L251 149Z" fill="rgb(60,60,60)"/><path d="M250 134L251 124L251 124L255 123L261 128L261 135L250 134Z" fill="rgb(47,47,47)"/><path d="M147 164L154 169L159 164L158 157L152 155Z" fill="rgb(50,50,50)"/><path d="M160 35L157 -58L173 -397L180 6L176 25L166 37Z" fill="rgb(38,38,38)"/><path d="M1653 -1L285 40L276 46L280 53Z" fill="rgb(60,60,60)"/><path d="M195 157L184 153L181 160L182 162L192 164Z" fill="rgb(53,53,53)"/><path d="M204 65L201 73L205 75L211 72L212 64Z" fill="rgb(55,55,55)"/><path d="M278 68L269 70L271 78L276 78L283 71Z" fill="rgb(50,50,50)"/><path d="M261 48L259 49L249 46L252 39L259 38Z" fill="rgb(47,47,47)"/><path d="M137 157L-12416 354L-6777 254L82 136L121 141L142 150Z" fill="rgb(55,55,55)"/><path d="M2118 87L1009 109L746 112L287 100L277 90L279 86L1435 84Z" fill="rgb(34,34,34)"/><path d="M251 108L247 110L244 110L241 103L246 98L251 103Z" fill="rgb(41,41,41)"/><path d="M268 123L274 125L277 118L274 113L267 117Z" fill="rgb(49,49,49)"/><path d="M184 180L185 176L180 171L172 173L175 180Z" fill="rgb(54,54,54)"/><path d="M250 77L257 77L261 68L250 68Z" fill="rgb(51,51,51)"/><path d="M148 194L157 267L157 189L156 189Z" fill="rgb(51,51,51)"/><path d="M260 112L252 108L253 104L259 100L263 106Z" fill="rgb(35,35,35)"/><path d="M228 111L227 114L230 121L237 122L237 122L238 114Z" fill="rgb(53,53,53)"/><path d="M248 45L251 39L247 33L241 37L242 42L248 45Z" fill="rgb(61,61,61)"/><path d="M171 46L179 42L182 44L182 53L181 54L180 54L171 48L170 47Z" fill="rgb(39,39,39)"/><path d="M206 96L208 87L208 86L198 88L198 92L203 98Z" fill="rgb(49,49,49)"/><path d="M202 36L193 27L186 6L178 -397L193 -1830L217 -93L210 29Z" fill="rgb(39,39,39)"/><path d="M243 136L238 130L232 134L233 139L239 141Z" fill="rgb(49,49,49)"/><path d="M159 49L157 53L162 59L166 57L168 49L168 48Z" fill="rgb(38,38,38)"/><path d="M139 106L-6777 247L82 130L129 121L140 112Z" fill="rgb(60,60,60)"/><path d="M166 92L166 92L159 88L153 91L158 100L159 100Z" fill="rgb(38,38,38)"/><path d="M171 120L166 112L160 115L161 121L167 124Z" fill="rgb(45,45,45)"/></g><g filter="url(#bl08)"><ellipse cx="255.1" cy="166.4" rx="2.5" ry="2.0" fill="rgb(100,100,100)"/><ellipse cx="211.7" cy="77.1" rx="2.5" ry="2.0" fill="rgb(75,75,75)"/><ellipse cx="142.6" cy="93.5" rx="2.5" ry="2.0" fill="rgb(138,138,138)"/><ellipse cx="195.1" cy="38.0" rx="2.5" ry="2.0" fill="rgb(150,150,150)"/><ellipse cx="232.5" cy="69.5" rx="2.5" ry="2.0" fill="rgb(143,143,143)"/><ellipse cx="198.5" cy="193.6" rx="2.5" ry="2.0" fill="rgb(79,79,79)"/><ellipse cx="267.9" cy="171.7" rx="2.5" ry="2.0" fill="rgb(154,154,154)"/><ellipse cx="193.9" cy="113.0" rx="2.5" ry="2.0" fill="rgb(70,70,70)"/><ellipse cx="235.8" cy="39.0" rx="2.5" ry="2.0" fill="rgb(193,193,193)"/><ellipse cx="264.9" cy="41.0" rx="2.5" ry="2.0" fill="rgb(118,118,118)"/><ellipse cx="234.9" cy="175.3" rx="2.5" ry="2.0" fill="rgb(115,115,115)"/><ellipse cx="167.0" cy="179.1" rx="2.5" ry="2.0" fill="rgb(98,98,98)"/><ellipse cx="239.6" cy="29.4" rx="2.5" ry="2.0" fill="rgb(101,101,101)"/><ellipse cx="210.4" cy="103.8" rx="2.5" ry="2.0" fill="rgb(188,188,188)"/><ellipse cx="165.0" cy="84.0" rx="2.5" ry="2.0" fill="rgb(121,121,121)"/><ellipse cx="255.2" cy="84.0" rx="2.5" ry="2.0" fill="rgb(104,104,104)"/><ellipse cx="155.9" cy="147.8" rx="2.5" ry="2.0" fill="rgb(208,208,208)"/><ellipse cx="200.1" cy="163.2" rx="2.5" ry="2.0" fill="rgb(108,108,108)"/><ellipse cx="253.1" cy="115.5" rx="2.5" ry="2.0" fill="rgb(145,145,145)"/><ellipse cx="147.0" cy="171.4" rx="2.5" ry="2.0" fill="rgb(135,135,135)"/><ellipse cx="189.8" cy="188.0" rx="2.5" ry="2.0" fill="rgb(87,87,87)"/><ellipse cx="218.1" cy="70.5" rx="2.5" ry="2.0" fill="rgb(99,99,99)"/><ellipse cx="246.3" cy="143.3" rx="2.5" ry="2.0" fill="rgb(79,79,79)"/><ellipse cx="236.7" cy="108.1" rx="2.5" ry="2.0" fill="rgb(160,160,160)"/><ellipse cx="167.0" cy="136.7" rx="2.5" ry="2.0" fill="rgb(70,70,70)"/><ellipse cx="229.3" cy="93.4" rx="2.5" ry="2.0" fill="rgb(192,192,192)"/><ellipse cx="254.0" cy="62.2" rx="2.5" ry="2.0" fill="rgb(137,137,137)"/><ellipse cx="192.1" cy="148.3" rx="2.5" ry="2.0" fill="rgb(71,71,71)"/><ellipse cx="225.2" cy="188.7" rx="2.5" ry="2.0" fill="rgb(80,80,80)"/><ellipse cx="282.3" cy="150.1" rx="2.5" ry="2.0" fill="rgb(143,143,143)"/><ellipse cx="193.0" cy="123.5" rx="2.5" ry="2.0" fill="rgb(90,90,90)"/><ellipse cx="181.7" cy="97.0" rx="2.5" ry="2.0" fill="rgb(115,115,115)"/><ellipse cx="271.7" cy="84.6" rx="2.5" ry="2.0" fill="rgb(87,87,87)"/><ellipse cx="155.5" cy="119.4" rx="2.5" ry="2.0" fill="rgb(89,89,89)"/><ellipse cx="172.1" cy="112.1" rx="2.5" ry="2.0" fill="rgb(195,195,195)"/><ellipse cx="216.5" cy="48.5" rx="2.5" ry="2.0" fill="rgb(180,180,180)"/><ellipse cx="262.9" cy="76.9" rx="2.5" ry="2.0" fill="rgb(109,109,109)"/><ellipse cx="133.9" cy="62.1" rx="2.5" ry="2.0" fill="rgb(87,87,87)"/><ellipse cx="267.5" cy="111.6" rx="2.5" ry="2.0" fill="rgb(188,188,188)"/><ellipse cx="203.2" cy="142.2" rx="2.5" ry="2.0" fill="rgb(83,83,83)"/><ellipse cx="251.9" cy="97.7" rx="2.5" ry="2.0" fill="rgb(148,148,148)"/><ellipse cx="223.8" cy="152.3" rx="2.5" ry="2.0" fill="rgb(195,195,195)"/><ellipse cx="165.5" cy="63.7" rx="2.5" ry="2.0" fill="rgb(187,187,187)"/><ellipse cx="252.3" cy="186.8" rx="2.5" ry="2.0" fill="rgb(125,125,125)"/><ellipse cx="184.9" cy="167.4" rx="2.5" ry="2.0" fill="rgb(166,166,166)"/><ellipse cx="209.5" cy="151.5" rx="2.5" ry="2.0" fill="rgb(162,162,162)"/><ellipse cx="209.2" cy="38.8" rx="2.5" ry="2.0" fill="rgb(117,117,117)"/><ellipse cx="140.6" cy="118.1" rx="2.5" ry="2.0" fill="rgb(97,97,97)"/><ellipse cx="207.2" cy="130.7" rx="2.5" ry="2.0" fill="rgb(106,106,106)"/><ellipse cx="243.0" cy="118.3" rx="2.5" ry="2.0" fill="rgb(90,90,90)"/><ellipse cx="218.5" cy="112.2" rx="2.5" ry="2.0" fill="rgb(116,116,116)"/><ellipse cx="216.4" cy="143.4" rx="2.5" ry="2.0" fill="rgb(166,166,166)"/><ellipse cx="162.5" cy="196.7" rx="2.5" ry="2.0" fill="rgb(190,190,190)"/><ellipse cx="173.2" cy="38.1" rx="2.5" ry="2.0" fill="rgb(173,173,173)"/><ellipse cx="264.2" cy="56.3" rx="2.5" ry="2.0" fill="rgb(200,200,200)"/><ellipse cx="272.5" cy="63.0" rx="2.5" ry="2.0" fill="rgb(120,120,120)"/><ellipse cx="245.0" cy="71.7" rx="2.5" ry="2.0" fill="rgb(189,189,189)"/><ellipse cx="148.8" cy="187.0" rx="2.5" ry="2.0" fill="rgb(86,86,86)"/><ellipse cx="189.8" cy="59.9" rx="2.5" ry="2.0" fill="rgb(88,88,88)"/><ellipse cx="165.6" cy="99.5" rx="2.5" ry="2.0" fill="rgb(82,82,82)"/><ellipse cx="183.1" cy="133.9" rx="2.5" ry="2.0" fill="rgb(82,82,82)"/><ellipse cx="266.3" cy="99.7" rx="2.5" ry="2.0" fill="rgb(72,72,72)"/><ellipse cx="191.0" cy="91.1" rx="2.5" ry="2.0" fill="rgb(77,77,77)"/><ellipse cx="142.8" cy="77.2" rx="2.5" ry="2.0" fill="rgb(102,102,102)"/><ellipse cx="271.3" cy="52.0" rx="2.5" ry="2.0" fill="rgb(148,148,148)"/><ellipse cx="151.4" cy="97.6" rx="2.5" ry="2.0" fill="rgb(129,129,129)"/><ellipse cx="253.5" cy="34.0" rx="2.5" ry="2.0" fill="rgb(130,130,130)"/><ellipse cx="266.9" cy="188.7" rx="2.5" ry="2.0" fill="rgb(193,193,193)"/><ellipse cx="236.8" cy="163.0" rx="2.5" ry="2.0" fill="rgb(83,83,83)"/><ellipse cx="218.6" cy="131.3" rx="2.5" ry="2.0" fill="rgb(125,125,125)"/><ellipse cx="219.5" cy="164.7" rx="2.5" ry="2.0" fill="rgb(96,96,96)"/><ellipse cx="206.2" cy="177.7" rx="2.5" ry="2.0" fill="rgb(177,177,177)"/><ellipse cx="144.7" cy="56.8" rx="2.5" ry="2.0" fill="rgb(101,101,101)"/><ellipse cx="161.1" cy="169.2" rx="2.5" ry="2.0" fill="rgb(71,71,71)"/><ellipse cx="174.4" cy="127.6" rx="2.5" ry="2.0" fill="rgb(153,153,153)"/><ellipse cx="244.1" cy="196.7" rx="2.5" ry="2.0" fill="rgb(82,82,82)"/><ellipse cx="255.4" cy="141.9" rx="2.5" ry="2.0" fill="rgb(170,170,170)"/><ellipse cx="221.2" cy="61.7" rx="2.5" ry="2.0" fill="rgb(188,188,188)"/><ellipse cx="282.1" cy="80.4" rx="2.5" ry="2.0" fill="rgb(164,164,164)"/><ellipse cx="171.5" cy="54.7" rx="2.5" ry="2.0" fill="rgb(166,166,166)"/><ellipse cx="213.5" cy="92.7" rx="2.5" ry="2.0" fill="rgb(77,77,77)"/><ellipse cx="243.4" cy="155.5" rx="2.5" ry="2.0" fill="rgb(151,151,151)"/><ellipse cx="231.2" cy="127.5" rx="2.5" ry="2.0" fill="rgb(112,112,112)"/><ellipse cx="196.5" cy="65.6" rx="2.5" ry="2.0" fill="rgb(70,70,70)"/><ellipse cx="203.2" cy="46.7" rx="2.5" ry="2.0" fill="rgb(206,206,206)"/><ellipse cx="139.1" cy="142.6" rx="2.5" ry="2.0" fill="rgb(87,87,87)"/><ellipse cx="176.1" cy="154.0" rx="2.5" ry="2.0" fill="rgb(164,164,164)"/><ellipse cx="223.4" cy="121.2" rx="2.5" ry="2.0" fill="rgb(76,76,76)"/><ellipse cx="220.5" cy="196.5" rx="2.5" ry="2.0" fill="rgb(191,191,191)"/><ellipse cx="277.8" cy="138.6" rx="2.5" ry="2.0" fill="rgb(85,85,85)"/><ellipse cx="142.5" cy="38.3" rx="2.5" ry="2.0" fill="rgb(75,75,75)"/><ellipse cx="263.7" cy="88.9" rx="2.5" ry="2.0" fill="rgb(117,117,117)"/><ellipse cx="275.7" cy="96.4" rx="2.5" ry="2.0" fill="rgb(169,169,169)"/><ellipse cx="178.2" cy="184.9" rx="2.5" ry="2.0" fill="rgb(77,77,77)"/><ellipse cx="180.9" cy="62.4" rx="2.5" ry="2.0" fill="rgb(94,94,94)"/><ellipse cx="175.1" cy="167.5" rx="2.5" ry="2.0" fill="rgb(151,151,151)"/><ellipse cx="188.0" cy="47.9" rx="2.5" ry="2.0" fill="rgb(151,151,151)"/><ellipse cx="135.2" cy="85.6" rx="2.5" ry="2.0" fill="rgb(192,192,192)"/><ellipse cx="280.4" cy="123.4" rx="2.5" ry="2.0" fill="rgb(93,93,93)"/><ellipse cx="143.0" cy="156.9" rx="2.5" ry="2.0" fill="rgb(89,89,89)"/><ellipse cx="184.9" cy="37.0" rx="2.5" ry="2.0" fill="rgb(114,114,114)"/><ellipse cx="153.2" cy="32.7" rx="2.5" ry="2.0" fill="rgb(72,72,72)"/><ellipse cx="209.6" cy="187.0" rx="2.5" ry="2.0" fill="rgb(105,105,105)"/><ellipse cx="156.3" cy="179.6" rx="2.5" ry="2.0" fill="rgb(108,108,108)"/><ellipse cx="154.0" cy="133.0" rx="2.5" ry="2.0" fill="rgb(146,146,146)"/><ellipse cx="268.1" cy="130.9" rx="2.5" ry="2.0" fill="rgb(106,106,106)"/><ellipse cx="149.7" cy="70.8" rx="2.5" ry="2.0" fill="rgb(86,86,86)"/><ellipse cx="206.0" cy="119.1" rx="2.5" ry="2.0" fill="rgb(87,87,87)"/><ellipse cx="244.6" cy="127.8" rx="2.5" ry="2.0" fill="rgb(143,143,143)"/><ellipse cx="262.6" cy="121.2" rx="2.5" ry="2.0" fill="rgb(207,207,207)"/><ellipse cx="174.2" cy="75.1" rx="2.5" ry="2.0" fill="rgb(81,81,81)"/><ellipse cx="151.7" cy="49.3" rx="2.5" ry="2.0" fill="rgb(75,75,75)"/><ellipse cx="220.6" cy="32.2" rx="2.5" ry="2.0" fill="rgb(99,99,99)"/><ellipse cx="201.2" cy="81.9" rx="2.5" ry="2.0" fill="rgb(103,103,103)"/><ellipse cx="277.5" cy="160.5" rx="2.5" ry="2.0" fill="rgb(189,189,189)"/><ellipse cx="196.5" cy="99.8" rx="2.5" ry="2.0" fill="rgb(86,86,86)"/><ellipse cx="230.0" cy="52.6" rx="2.5" ry="2.0" fill="rgb(106,106,106)"/><ellipse cx="278.4" cy="179.3" rx="2.5" ry="2.0" fill="rgb(83,83,83)"/><ellipse cx="162.4" cy="42.7" rx="2.5" ry="2.0" fill="rgb(89,89,89)"/><ellipse cx="204.9" cy="58.2" rx="2.5" ry="2.0" fill="rgb(96,96,96)"/><ellipse cx="251.1" cy="51.5" rx="2.5" ry="2.0" fill="rgb(97,97,97)"/><ellipse cx="203.4" cy="111.2" rx="2.5" ry="2.0" fill="rgb(164,164,164)"/><ellipse cx="243.5" cy="62.5" rx="2.5" ry="2.0" fill="rgb(82,82,82)"/><ellipse cx="164.6" cy="162.0" rx="2.5" ry="2.0" fill="rgb(138,138,138)"/><ellipse cx="282.7" cy="111.7" rx="2.5" ry="2.0" fill="rgb(85,85,85)"/><ellipse cx="265.4" cy="144.7" rx="2.5" ry="2.0" fill="rgb(92,92,92)"/><ellipse cx="163.6" cy="72.3" rx="2.5" ry="2.0" fill="rgb(132,132,132)"/><ellipse cx="215.9" cy="174.8" rx="2.5" ry="2.0" fill="rgb(159,159,159)"/><ellipse cx="182.2" cy="119.5" rx="2.5" ry="2.0" fill="rgb(106,106,106)"/><ellipse cx="193.4" cy="133.6" rx="2.5" ry="2.0" fill="rgb(141,141,141)"/><ellipse cx="245.2" cy="173.3" rx="2.5" ry="2.0" fill="rgb(84,84,84)"/><ellipse cx="226.7" cy="135.5" rx="2.5" ry="2.0" fill="rgb(202,202,202)"/><ellipse cx="219.2" cy="99.9" rx="2.5" ry="2.0" fill="rgb(87,87,87)"/><ellipse cx="240.3" cy="95.7" rx="2.5" ry="2.0" fill="rgb(97,97,97)"/><ellipse cx="195.4" cy="181.0" rx="2.5" ry="2.0" fill="rgb(187,187,187)"/><ellipse cx="275.0" cy="37.7" rx="2.5" ry="2.0" fill="rgb(72,72,72)"/><ellipse cx="242.7" cy="84.0" rx="2.5" ry="2.0" fill="rgb(89,89,89)"/><ellipse cx="261.0" cy="180.7" rx="2.5" ry="2.0" fill="rgb(198,198,198)"/><ellipse cx="148.8" cy="124.7" rx="2.5" ry="2.0" fill="rgb(82,82,82)"/><ellipse cx="154.3" cy="82.7" rx="2.5" ry="2.0" fill="rgb(70,70,70)"/><ellipse cx="223.8" cy="84.6" rx="2.5" ry="2.0" fill="rgb(166,166,166)"/><ellipse cx="184.7" cy="107.8" rx="2.5" ry="2.0" fill="rgb(191,191,191)"/><ellipse cx="165.3" cy="148.6" rx="2.5" ry="2.0" fill="rgb(108,108,108)"/><ellipse cx="266.9" cy="157.8" rx="2.5" ry="2.0" fill="rgb(105,105,105)"/><ellipse cx="261.5" cy="196.9" rx="2.5" ry="2.0" fill="rgb(99,99,99)"/><ellipse cx="185.6" cy="77.4" rx="2.5" ry="2.0" fill="rgb(71,71,71)"/><ellipse cx="226.8" cy="173.6" rx="2.5" ry="2.0" fill="rgb(137,137,137)"/><ellipse cx="173.6" cy="90.5" rx="2.5" ry="2.0" fill="rgb(93,93,93)"/><ellipse cx="225.2" cy="42.8" rx="2.5" ry="2.0" fill="rgb(92,92,92)"/><ellipse cx="159.9" cy="108.9" rx="2.5" ry="2.0" fill="rgb(126,126,126)"/><ellipse cx="153.9" cy="59.8" rx="2.5" ry="2.0" fill="rgb(159,159,159)"/><ellipse cx="235.0" cy="145.8" rx="2.5" ry="2.0" fill="rgb(186,186,186)"/><ellipse cx="241.5" cy="184.1" rx="2.5" ry="2.0" fill="rgb(185,185,185)"/><ellipse cx="137.9" cy="131.4" rx="2.5" ry="2.0" fill="rgb(138,138,138)"/><ellipse cx="241.6" cy="48.4" rx="2.5" ry="2.0" fill="rgb(132,132,132)"/><ellipse cx="147.4" cy="111.0" rx="2.5" ry="2.0" fill="rgb(83,83,83)"/><ellipse cx="138.1" cy="173.7" rx="2.5" ry="2.0" fill="rgb(196,196,196)"/><ellipse cx="134.5" cy="50.4" rx="2.5" ry="2.0" fill="rgb(76,76,76)"/><ellipse cx="230.2" cy="196.9" rx="2.5" ry="2.0" fill="rgb(184,184,184)"/><ellipse cx="175.9" cy="142.8" rx="2.5" ry="2.0" fill="rgb(102,102,102)"/><ellipse cx="161.1" cy="126.9" rx="2.5" ry="2.0" fill="rgb(193,193,193)"/><ellipse cx="233.1" cy="83.7" rx="2.5" ry="2.0" fill="rgb(167,167,167)"/><ellipse cx="253.9" cy="155.9" rx="2.5" ry="2.0" fill="rgb(74,74,74)"/><ellipse cx="255.5" cy="130.1" rx="2.5" ry="2.0" fill="rgb(176,176,176)"/><ellipse cx="153.0" cy="163.1" rx="2.5" ry="2.0" fill="rgb(100,100,100)"/><ellipse cx="164.8" cy="31.0" rx="2.5" ry="2.0" fill="rgb(112,112,112)"/><ellipse cx="282.9" cy="46.4" rx="2.5" ry="2.0" fill="rgb(182,182,182)"/><ellipse cx="187.1" cy="158.3" rx="2.5" ry="2.0" fill="rgb(205,205,205)"/><ellipse cx="206.2" cy="69.3" rx="2.5" ry="2.0" fill="rgb(162,162,162)"/><ellipse cx="273.9" cy="72.2" rx="2.5" ry="2.0" fill="rgb(202,202,202)"/><ellipse cx="255.9" cy="42.3" rx="2.5" ry="2.0" fill="rgb(88,88,88)"/><ellipse cx="135.2" cy="152.0" rx="2.5" ry="2.0" fill="rgb(104,104,104)"/><ellipse cx="282.7" cy="89.1" rx="2.5" ry="2.0" fill="rgb(204,204,204)"/><ellipse cx="245.1" cy="104.0" rx="2.5" ry="2.0" fill="rgb(200,200,200)"/><ellipse cx="272.9" cy="119.1" rx="2.5" ry="2.0" fill="rgb(199,199,199)"/><ellipse cx="177.1" cy="175.2" rx="2.5" ry="2.0" fill="rgb(110,110,110)"/><ellipse cx="254.5" cy="72.1" rx="2.5" ry="2.0" fill="rgb(184,184,184)"/><ellipse cx="152.9" cy="194.9" rx="2.5" ry="2.0" fill="rgb(103,103,103)"/><ellipse cx="257.7" cy="106.7" rx="2.5" ry="2.0" fill="rgb(194,194,194)"/><ellipse cx="232.9" cy="117.5" rx="2.5" ry="2.0" fill="rgb(181,181,181)"/><ellipse cx="245.6" cy="39.8" rx="2.5" ry="2.0" fill="rgb(206,206,206)"/><ellipse cx="176.9" cy="48.3" rx="2.5" ry="2.0" fill="rgb(198,198,198)"/><ellipse cx="202.7" cy="92.1" rx="2.5" ry="2.0" fill="rgb(85,85,85)"/><ellipse cx="201.8" cy="30.9" rx="2.5" ry="2.0" fill="rgb(86,86,86)"/><ellipse cx="236.0" cy="136.4" rx="2.5" ry="2.0" fill="rgb(139,139,139)"/><ellipse cx="162.5" cy="52.5" rx="2.5" ry="2.0" fill="rgb(193,193,193)"/><ellipse cx="135.1" cy="112.1" rx="2.5" ry="2.0" fill="rgb(86,86,86)"/><ellipse cx="158.0" cy="92.9" rx="2.5" ry="2.0" fill="rgb(206,206,206)"/><ellipse cx="163.9" cy="118.3" rx="2.5" ry="2.0" fill="rgb(114,114,114)"/></g><path d="M231 46Q234 45 234 47M231 46Q232 42 229 35M234 47Q236 46 241 42M229 35Q232 35 231 32M231 32Q233 32 240 36M241 42Q239 38 240 36M191 -2158Q205 -1134 219 -115M191 -2158Q200 -6628 206 -11103M219 -115Q226 -40 231 32M252 9Q227 -5548 206 -11103M252 9Q252 19 247 32M247 32Q246 36 240 36M155 -74Q151 -21 144 29M155 -74Q165 -273 174 -472M174 -472Q183 -1314 191 -2158M138 36Q140 32 144 29M228 164Q223 165 220 170M228 164Q228 163 227 161M210 161Q213 165 210 166M210 161Q214 158 216 157M216 157Q219 162 227 161M220 170Q214 170 210 166M228 164Q229 168 232 169M232 169Q230 173 229 180M220 170Q219 177 221 180M229 180Q226 182 221 180M212 181Q209 175 208 169M212 181Q213 181 218 183M210 166Q211 167 208 169M218 183Q219 181 221 180M158 280Q160 232 158 188M158 280Q152 237 147 193M158 188Q159 190 157 188M157 188Q149 189 147 193M159 300Q159 287 158 280M142 190Q142 194 147 193M158 188Q160 189 162 187M157 188Q154 183 148 179M148 179Q151 178 154 172M154 172Q156 173 162 177M162 187Q160 180 162 177M142 125Q145 119 148 118M142 125Q145 131 146 133M146 133Q150 129 154 128M148 118Q150 121 154 124M154 128Q155 125 154 124M73 133Q103 127 128 123M73 133Q94 134 119 139M119 139Q134 138 145 136M128 123Q133 126 142 125M145 136Q143 137 146 133M145 136Q150 141 149 142M161 134Q157 133 154 128M161 134Q162 135 160 140M149 142Q155 139 160 140M212 181Q205 186 202 185M208 169Q201 173 198 172M202 185Q204 187 201 185M198 172Q198 178 201 185M225 193Q222 192 218 188M225 193Q214 270 204 345M218 188Q211 195 209 199M209 199Q204 231 201 262M204 345Q204 306 201 262M218 183Q219 187 218 188M202 185Q204 190 209 199M190 203Q195 196 196 187M190 203Q197 235 201 262M201 185Q200 187 196 187M230 122Q233 121 238 123M230 122Q225 127 224 128M231 134Q237 133 238 129M231 134Q228 131 225 129M224 128Q223 128 225 129M238 129Q236 127 238 123M216 157Q217 153 217 150M217 150Q221 148 225 145M227 161Q230 157 232 154M225 145Q224 147 226 145M226 145Q227 149 232 154M225 145Q225 139 220 137M231 134Q232 137 232 139M225 129Q222 131 220 137M226 145Q231 145 232 139M269 180Q271 184 276 187M269 180Q272 174 276 172M276 187Q283 185 291 180M276 172Q283 178 291 180M260 172Q266 178 269 180M260 172Q264 169 263 165M263 165Q270 165 271 164M269 180Q267 179 269 180M271 164Q273 168 276 168M276 172Q277 170 276 168M263 136Q265 139 270 138M263 136Q260 144 259 149M259 149Q260 151 261 152M261 152Q270 152 274 150M270 138Q274 143 275 148M274 150Q273 147 275 148M263 165Q260 161 260 160M260 160Q258 154 261 152M271 164Q273 160 275 153M274 150Q274 154 275 153M276 168Q282 166 289 160M275 153Q284 158 289 160M278 131Q274 133 270 138M278 131Q289 134 301 136M275 148Q288 144 301 136M275 126Q276 126 278 131M275 126Q274 122 278 118M278 118Q381 122 479 126M301 136Q389 132 479 126M142 190Q144 185 142 181M148 179Q148 177 144 179M142 181Q142 179 144 179M142 181Q116 179 89 176M144 179Q141 172 141 168M141 168Q117 173 89 176M170 191Q168 191 169 189M170 191Q174 191 182 192M169 189Q170 187 174 181M174 181Q179 181 185 181M182 192Q185 184 186 181M185 181Q188 179 186 181M159 300Q162 245 170 191M162 187Q165 190 169 189M233 4247Q219 2298 204 345M190 203Q185 197 182 192M162 177Q166 173 169 172M169 172Q170 170 171 173M171 173Q173 174 174 181M180 170Q174 174 171 173M180 170Q185 172 187 177M187 177Q187 178 185 181M196 187Q189 183 186 181M187 177Q188 173 195 171M195 171Q194 172 198 172M248 46Q249 47 248 46M248 46Q249 51 245 54M248 46Q255 49 259 50M245 54Q249 57 249 58M249 58Q254 60 257 57M257 57Q259 55 259 50M241 42Q246 42 248 46M247 32Q251 37 252 38M252 38Q250 43 248 46M234 47Q235 54 237 56M237 56Q241 56 245 54M248 67Q249 63 249 58M248 67Q242 65 239 67M239 67Q236 63 235 61M237 56Q237 58 235 61M261 36Q267 35 270 35M261 36Q261 37 260 38M260 38Q260 41 262 49M270 35Q271 39 272 45M272 45Q266 48 264 49M264 49Q261 48 262 49M252 9Q255 24 261 36M273 31Q271 30 270 35M252 38Q256 37 260 38M259 50Q259 52 262 49M262 67Q261 66 263 67M262 67Q257 60 257 57M269 58Q264 63 263 67M269 58Q268 53 264 49M155 76Q158 79 160 79M155 76Q157 69 158 67M160 79Q165 81 168 78M158 67Q161 65 159 66M159 66Q166 67 169 70M168 78Q167 74 169 70M142 68Q147 72 150 77M142 68Q141 65 143 65M143 65Q143 65 148 63M148 63Q154 65 158 67M150 77Q155 78 155 76M167 92Q169 87 172 82M167 92Q163 88 159 87M172 82Q169 81 168 78M159 87Q158 81 160 79M148 63Q149 57 151 55M161 59Q159 61 159 66M161 59Q159 56 156 52M156 52Q152 54 151 55M167 58Q172 60 173 63M167 58Q163 60 161 59M169 70Q172 67 173 67M173 67Q172 63 173 63M167 58Q170 53 169 48M169 48Q177 51 181 55M173 63Q176 61 181 55M142 48Q140 47 142 46M142 48Q140 52 138 57M-447 62Q-153 61 138 57M-447 62Q-152 53 140 45M140 45Q141 44 142 46M143 65Q138 59 138 57M151 55Q148 52 142 48M-804 69Q-337 73 131 75M-804 69Q-624 66 -447 62M131 75Q136 72 142 68M-804 69Q-1415 73 -2022 75M138 36Q138 38 140 45M144 29Q149 36 151 40M151 40Q145 41 142 46M183 43Q183 48 183 54M183 43Q184 41 190 41M183 54Q189 51 195 53M195 53Q196 47 195 45M195 45Q193 44 190 41M183 2Q188 16 191 27M183 2Q183 15 177 24M183 43Q181 43 179 41M177 24Q179 34 179 41M190 41Q191 34 191 27M212 72Q210 69 213 63M212 72Q214 76 219 78M225 68Q227 72 225 76M225 68Q220 62 213 62M219 78Q224 76 225 76M213 62Q211 62 213 63M205 76Q201 74 200 73M205 76Q207 76 212 72M200 73Q204 69 203 64M213 63Q209 62 203 64M219 -115Q216 -41 212 29M229 35Q221 37 217 39M212 29Q212 32 217 39M174 -472Q177 -237 183 2M191 27Q199 33 202 37M212 29Q205 34 202 37M195 45Q201 42 202 41M202 37Q201 40 202 41M167 130Q169 128 167 125M167 130Q170 131 175 135M167 125Q168 121 172 120M175 135Q180 133 181 128M181 128Q175 121 175 120M172 120Q171 119 175 120M161 134Q164 134 167 130M160 121Q157 121 154 124M160 121Q166 123 167 125M160 114Q157 116 160 121M160 114Q165 115 166 111M166 111Q170 113 172 120M160 114Q158 112 154 111M148 118Q150 116 148 118M154 111Q150 114 148 118M128 123Q135 117 140 112M148 118Q144 117 140 112M73 133Q-3963 201 -7996 271M-7996 271Q-3928 188 140 106M140 112Q140 108 140 106M195 75Q193 76 193 82M195 75Q192 73 189 68M193 82Q186 82 182 85M181 71Q185 71 187 68M181 71Q178 78 179 82M179 82Q183 85 182 85M189 68Q190 67 187 68M200 73Q198 73 195 75M203 64Q198 63 197 58M197 58Q192 65 189 68M173 67Q177 67 181 71M181 55Q183 56 182 55M182 55Q187 62 187 68M172 82Q178 82 179 82M183 54Q180 57 182 55M195 53Q194 54 197 55M197 58Q194 55 197 55M205 76Q205 78 209 86M193 82Q197 85 197 87M197 87Q201 85 209 86M189 98Q194 93 197 92M189 98Q183 95 182 89M182 89Q183 87 182 85M197 87Q198 88 197 92M159 101Q164 96 167 92M159 101Q163 105 167 107M167 92Q172 95 174 97M167 107Q169 103 175 103M174 97Q175 101 175 103M158 101Q157 95 152 91M158 101Q160 101 159 101M167 92Q169 91 167 92M159 87Q153 90 152 91M158 101Q154 104 153 106M166 111Q167 112 167 107M153 106Q154 110 154 111M182 89Q175 95 174 97M135 94Q137 96 142 103M135 94Q141 90 143 85M149 90Q147 86 145 85M149 90Q148 97 144 102M144 102Q145 105 142 103M143 85Q143 87 145 85M-2022 75Q-945 87 135 94M-7996 271Q-11312 331 -14631 390M140 106Q140 102 142 103M131 75Q137 82 143 85M150 77Q148 84 145 85M152 91Q149 93 149 90M153 106Q147 103 144 102M169 156Q164 153 159 155M169 156Q170 151 172 148M159 155Q158 147 162 143M162 143Q166 143 170 144M170 144Q169 147 172 148M160 140Q160 140 162 143M175 135Q174 138 170 144M175 135Q174 136 175 135M175 135Q178 139 185 143M185 143Q186 148 183 149M183 149Q175 146 172 148M168 168Q172 163 172 160M168 168Q164 165 159 164M172 160Q168 159 169 156M159 155Q160 154 159 155M159 155Q160 159 159 164M154 172Q155 172 154 170M169 172Q169 169 168 168M154 170Q157 165 159 164M275 126Q273 127 268 124M278 118Q277 113 274 112M274 112Q270 115 267 116M267 116Q266 118 268 124M262 136Q263 129 262 128M262 136Q261 136 263 136M268 124Q263 124 262 128M185 143Q185 142 189 141M181 128Q187 127 187 128M187 128Q187 129 187 128M189 141Q189 135 187 128M184 152Q188 153 196 157M184 152Q180 155 180 160M181 162Q182 163 180 160M181 162Q189 165 193 165M193 165Q194 161 196 157M172 160Q176 157 180 160M183 149Q185 151 184 152M180 170Q179 167 181 162M195 171Q192 167 193 165M210 161Q207 159 200 154M200 154Q199 153 196 157M260 172Q256 174 254 174M254 174Q252 176 252 179M269 180Q264 183 260 188M252 179Q256 181 260 188M232 169Q235 168 239 169M245 164Q243 166 239 169M245 164Q246 161 246 164M232 154Q234 151 235 154M235 154Q240 159 246 164M245 164Q251 171 254 174M260 160Q254 158 248 161M246 164Q246 161 248 161M274 112Q277 107 275 106M479 126Q652 123 828 115M275 106Q282 102 287 101M287 101Q556 109 828 115M289 160Q713 137 1137 113M828 115Q984 113 1137 113M230 61Q227 62 225 68M230 61Q233 63 235 61M239 67Q240 72 237 76M225 76Q226 74 228 77M228 77Q231 77 237 76M230 122Q228 118 226 113M226 113Q225 110 227 110M238 123Q237 121 238 123M238 123Q240 117 238 114M238 114Q233 111 227 110M269 94Q272 94 271 92M269 94Q263 97 260 96M271 92Q270 89 266 83M260 96Q260 95 257 90M257 90Q261 88 262 83M266 83Q264 84 262 83M273 104Q276 104 275 106M273 104Q273 100 269 94M276 91Q281 96 287 101M276 91Q275 89 271 92M276 79Q276 80 279 85M276 79Q273 80 270 78M270 78Q268 81 266 83M279 85Q277 90 276 91M262 67Q261 71 258 77M262 67Q256 70 249 68M258 77Q253 76 249 78M249 68Q247 72 249 78M262 67Q265 67 262 67M270 78Q268 72 268 70M268 70Q265 67 263 67M262 83Q258 81 258 77M248 67Q250 69 249 68M249 78Q251 86 250 89M249 78Q249 78 249 78M250 89Q253 92 257 90M249 78Q246 80 240 78M237 76Q236 75 240 78M273 31Q280 35 285 39M272 45Q275 44 275 46M285 39Q278 40 275 46M169 47Q167 44 169 45M169 47Q166 46 158 48M169 45Q170 42 167 38M167 38Q161 39 159 35M158 48Q157 43 153 40M159 35Q157 38 153 40M169 48Q169 47 169 47M179 41Q174 43 169 45M156 52Q158 49 158 48M177 24Q174 33 167 38M155 -74Q155 -19 159 35M151 40Q152 40 153 40M217 39Q213 40 210 46M217 39Q221 42 224 49M210 46Q212 49 210 52M224 49Q222 51 222 53M222 53Q218 57 214 56M214 56Q210 52 210 52M202 41Q206 45 210 46M217 39Q216 41 217 39M231 46Q225 47 224 49M197 55Q205 55 210 52M230 61Q224 58 222 53M213 62Q211 57 214 56M175 120Q175 119 180 114M175 103Q174 102 176 104M176 104Q178 109 180 114M189 98Q188 98 188 102M176 104Q183 104 188 102M201 126Q202 123 200 117M201 126Q210 123 213 125M200 117Q205 114 211 114M211 114Q212 116 215 121M215 121Q216 121 215 123M213 125Q212 124 215 123M226 113Q223 119 215 121M224 128Q222 127 215 123M212 137Q214 139 220 137M212 137Q211 129 213 125M221 92Q227 91 230 87M221 92Q223 91 221 92M219 78Q218 82 215 85M228 77Q229 84 230 87M221 92Q220 87 215 85M209 86Q211 85 209 86M215 85Q210 87 209 86M202 103Q201 103 203 99M202 103Q204 109 211 111M203 99Q205 100 207 97M207 97Q211 100 214 99M214 99Q216 105 216 106M216 106Q211 106 211 111M197 92Q197 98 203 99M209 86Q210 90 207 97M221 92Q215 95 214 99M221 92Q224 100 229 102M229 102Q228 103 227 107M227 107Q222 108 216 106M227 107Q226 110 227 110M211 114Q213 111 211 111M151 154Q149 158 146 164M151 154Q151 153 147 149M143 150Q143 147 147 149M143 150Q138 152 138 158M138 158Q141 159 142 165M142 165Q142 166 146 164M159 155Q154 157 151 154M154 170Q152 167 146 164M149 142Q147 145 147 149M119 139Q132 142 143 150M-14631 390Q-7245 275 138 158M141 168Q142 168 142 165M267 116Q264 115 261 113M262 128Q257 126 255 122M255 122Q261 119 261 113M200 151Q196 146 194 141M200 151Q207 146 209 144M194 141Q200 138 201 134M201 134Q207 135 210 138M210 138Q208 140 209 144M200 154Q199 154 200 151M189 141Q193 143 194 141M217 150Q213 147 209 144M200 128Q195 128 187 128M200 128Q201 130 201 134M212 137Q212 136 210 138M200 128Q203 129 201 126M260 189Q256 192 253 196M260 189Q263 192 269 196M253 196Q251 279 246 362M269 196Q257 840 247 1489M247 1489Q245 927 246 362M276 189Q275 193 269 196M276 189Q275 187 276 187M260 188Q259 187 260 189M233 4247Q239 2869 247 1489M242 178Q247 180 249 180M242 178Q237 179 234 184M249 180Q248 186 246 190M246 190Q243 189 236 191M234 184Q233 185 235 189M235 189Q234 192 236 191M239 169Q239 172 242 178M252 179Q253 179 249 180M229 180Q229 180 234 184M253 196Q249 195 246 190M246 362Q243 278 236 191M225 193Q229 193 235 189M241 148Q244 149 249 149M241 148Q241 145 239 142M239 142Q242 140 245 135M251 148Q251 151 249 149M251 148Q248 144 249 135M245 135Q248 136 249 135M249 135Q250 137 249 135M235 154Q237 152 241 148M248 161Q251 155 249 149M232 139Q236 138 239 142M238 129Q240 131 245 135M259 149Q255 147 251 148M262 136Q256 133 249 135M250 123Q243 121 238 123M250 123Q251 131 249 135M250 123Q252 120 250 123M250 123Q255 123 255 122M250 89Q248 92 247 92M240 78Q237 85 238 89M247 92Q242 89 238 89M230 87Q231 89 236 90M229 102Q229 104 233 100M233 100Q236 97 236 90M236 90Q236 90 238 89M276 58Q278 60 278 67M276 58Q280 59 279 54M279 54Q1085 24 1895 -10M284 71Q961 75 1639 83M284 71Q282 68 278 67M1639 83Q2041 86 2442 87M269 58Q272 59 276 58M268 70Q272 71 278 67M275 46Q278 48 279 54M285 39Q1091 14 1895 -10M276 79Q278 74 284 71M279 85Q957 85 1639 83M1137 113Q1790 99 2442 87M189 118Q194 115 199 117M189 118Q187 119 186 115M186 115Q191 108 191 105M199 117Q196 110 197 106M197 106Q194 107 191 105M187 128Q186 124 189 118M200 117Q200 115 199 117M180 114Q185 116 186 115M188 102Q191 103 191 105M202 103Q201 103 197 106M238 114Q242 115 243 111M233 100Q234 100 240 102M243 111Q242 109 240 102M250 123Q247 117 247 111M243 111Q247 111 247 111M247 92Q244 96 246 97M246 97Q241 98 240 102M252 103Q254 105 251 108M252 103Q255 102 259 99M251 108Q255 112 261 113M259 99Q262 103 264 106M264 106Q263 107 261 113M247 111Q251 112 251 108M246 97Q247 98 252 103M260 96Q260 99 259 99M261 113Q261 113 261 113M273 104Q266 107 264 106" stroke="#b4b4b4" stroke-width="0.7" fill="none" opacity="0.65"/><g fill="#f6f6f6" filter="url(#bl05)"><circle cx="235.2" cy="94.1" r="2.7"/><circle cx="203.6" cy="77.6" r="2"/><circle cx="209.5" cy="90.1" r="1.3"/><circle cx="251.1" cy="129.9" r="2"/><circle cx="172.9" cy="127.2" r="1.8"/><circle cx="171" cy="133" r="1.5"/><circle cx="183.5" cy="142.6" r="1.6"/><circle cx="220.6" cy="116.6" r="1.7"/><circle cx="190.1" cy="122" r="1.5"/><circle cx="159.6" cy="71.5" r="1.6"/><circle cx="225.9" cy="53" r="1.5"/><circle cx="247.1" cy="161.7" r="1.5"/><circle cx="228.6" cy="156.4" r="1.4"/><circle cx="202" cy="156.4" r="1.4"/><circle cx="261.7" cy="108.7" r="1.5"/></g></g><g clip-path="url(#c2)"><rect x="24" y="189" width="120" height="137.4" fill="#07050c"/><g filter="url(#bl08)"><g fill="#4a34b8"><ellipse cx="135" cy="196" rx="3.9" ry="3.3" transform="rotate(40 135 196)"/><ellipse cx="106" cy="192" rx="3.4" ry="3.2" transform="rotate(26 106 192)"/><ellipse cx="95" cy="327" rx="3.5" ry="3.1" transform="rotate(117 95 327)"/><ellipse cx="23" cy="307" rx="3.5" ry="3.2" transform="rotate(116 23 307)"/><ellipse cx="134" cy="260" rx="3.7" ry="2.8" transform="rotate(99 134 260)"/><ellipse cx="101" cy="271" rx="4.3" ry="3.3" transform="rotate(44 101 271)"/><ellipse cx="62" cy="192" rx="3.6" ry="3.0" transform="rotate(59 62 192)"/><ellipse cx="143" cy="300" rx="4.0" ry="2.8" transform="rotate(44 143 300)"/><ellipse cx="100" cy="310" rx="3.7" ry="3.3" transform="rotate(18 100 310)"/><ellipse cx="100" cy="242" rx="3.9" ry="3.2" transform="rotate(66 100 242)"/><ellipse cx="74" cy="308" rx="4.2" ry="2.9" transform="rotate(70 74 308)"/><ellipse cx="60" cy="261" rx="4.0" ry="3.1" transform="rotate(133 60 261)"/><ellipse cx="28" cy="276" rx="3.5" ry="2.9" transform="rotate(16 28 276)"/><ellipse cx="140" cy="246" rx="4.1" ry="3.2" transform="rotate(162 140 246)"/><ellipse cx="29" cy="319" rx="3.5" ry="3.1" transform="rotate(32 29 319)"/><ellipse cx="95" cy="220" rx="3.9" ry="3.1" transform="rotate(41 95 220)"/><ellipse cx="39" cy="242" rx="4.1" ry="3.2" transform="rotate(42 39 242)"/><ellipse cx="51" cy="326" rx="3.7" ry="3.0" transform="rotate(105 51 326)"/><ellipse cx="49" cy="197" rx="3.9" ry="3.1" transform="rotate(116 49 197)"/><ellipse cx="142" cy="274" rx="4.2" ry="3.1" transform="rotate(164 142 274)"/><ellipse cx="71" cy="245" rx="3.8" ry="2.9" transform="rotate(169 71 245)"/><ellipse cx="71" cy="264" rx="3.8" ry="2.9" transform="rotate(91 71 264)"/><ellipse cx="52" cy="207" rx="3.5" ry="2.8" transform="rotate(99 52 207)"/><ellipse cx="114" cy="275" rx="4.4" ry="3.3" transform="rotate(34 114 275)"/><ellipse cx="27" cy="290" rx="3.6" ry="3.2" transform="rotate(34 27 290)"/><ellipse cx="42" cy="225" rx="3.5" ry="2.8" transform="rotate(135 42 225)"/><ellipse cx="88" cy="307" rx="3.7" ry="2.7" transform="rotate(120 88 307)"/><ellipse cx="81" cy="298" rx="4.1" ry="3.3" transform="rotate(86 81 298)"/><ellipse cx="26" cy="265" rx="4.1" ry="3.3" transform="rotate(141 26 265)"/><ellipse cx="123" cy="224" rx="3.9" ry="3.1" transform="rotate(87 123 224)"/><ellipse cx="144" cy="188" rx="3.8" ry="2.9" transform="rotate(111 144 188)"/><ellipse cx="29" cy="228" rx="3.5" ry="2.9" transform="rotate(8 29 228)"/><ellipse cx="64" cy="318" rx="3.8" ry="2.9" transform="rotate(134 64 318)"/><ellipse cx="38" cy="285" rx="4.2" ry="3.0" transform="rotate(176 38 285)"/><ellipse cx="35" cy="202" rx="4.1" ry="3.4" transform="rotate(9 35 202)"/><ellipse cx="74" cy="190" rx="4.2" ry="3.1" transform="rotate(169 74 190)"/><ellipse cx="123" cy="256" rx="4.1" ry="3.1" transform="rotate(90 123 256)"/><ellipse cx="75" cy="329" rx="4.3" ry="3.0" transform="rotate(36 75 329)"/><ellipse cx="21" cy="200" rx="4.2" ry="3.0" transform="rotate(58 21 200)"/><ellipse cx="146" cy="204" rx="4.0" ry="3.0" transform="rotate(178 146 204)"/></g><g fill="#4230a8"><ellipse cx="106" cy="254" rx="4.0" ry="2.8" transform="rotate(155 106 254)"/><ellipse cx="144" cy="229" rx="4.2" ry="2.8" transform="rotate(26 144 229)"/><ellipse cx="110" cy="216" rx="4.4" ry="3.3" transform="rotate(112 110 216)"/><ellipse cx="108" cy="285" rx="3.6" ry="2.7" transform="rotate(47 108 285)"/><ellipse cx="25" cy="247" rx="4.2" ry="3.4" transform="rotate(2 25 247)"/><ellipse cx="121" cy="187" rx="4.3" ry="2.9" transform="rotate(175 121 187)"/><ellipse cx="83" cy="263" rx="4.0" ry="3.4" transform="rotate(59 83 263)"/><ellipse cx="73" cy="289" rx="4.0" ry="3.0" transform="rotate(95 73 289)"/><ellipse cx="106" cy="325" rx="4.4" ry="2.9" transform="rotate(96 106 325)"/><ellipse cx="123" cy="238" rx="4.0" ry="2.7" transform="rotate(127 123 238)"/><ellipse cx="30" cy="188" rx="4.1" ry="2.8" transform="rotate(115 30 188)"/><ellipse cx="116" cy="197" rx="3.4" ry="3.2" transform="rotate(170 116 197)"/><ellipse cx="128" cy="213" rx="3.6" ry="3.2" transform="rotate(179 128 213)"/><ellipse cx="84" cy="251" rx="4.2" ry="2.9" transform="rotate(141 84 251)"/><ellipse cx="66" cy="277" rx="3.7" ry="3.3" transform="rotate(27 66 277)"/><ellipse cx="120" cy="298" rx="4.3" ry="3.2" transform="rotate(113 120 298)"/><ellipse cx="132" cy="302" rx="3.4" ry="2.7" transform="rotate(143 132 302)"/></g><g fill="#5638bc"><ellipse cx="27" cy="211" rx="3.6" ry="2.9" transform="rotate(54 27 211)"/><ellipse cx="57" cy="229" rx="4.3" ry="3.3" transform="rotate(179 57 229)"/><ellipse cx="129" cy="283" rx="4.1" ry="2.7" transform="rotate(30 129 283)"/><ellipse cx="77" cy="276" rx="4.1" ry="3.3" transform="rotate(79 77 276)"/><ellipse cx="50" cy="242" rx="3.9" ry="2.9" transform="rotate(70 50 242)"/><ellipse cx="52" cy="275" rx="3.5" ry="3.0" transform="rotate(21 52 275)"/><ellipse cx="107" cy="232" rx="4.0" ry="2.9" transform="rotate(53 107 232)"/><ellipse cx="50" cy="290" rx="4.1" ry="3.3" transform="rotate(80 50 290)"/><ellipse cx="131" cy="315" rx="3.6" ry="2.7" transform="rotate(25 131 315)"/><ellipse cx="49" cy="257" rx="4.0" ry="2.7" transform="rotate(21 49 257)"/><ellipse cx="107" cy="297" rx="4.1" ry="3.0" transform="rotate(78 107 297)"/><ellipse cx="36" cy="301" rx="3.5" ry="3.2" transform="rotate(34 36 301)"/><ellipse cx="134" cy="224" rx="3.9" ry="2.9" transform="rotate(153 134 224)"/><ellipse cx="62" cy="307" rx="3.8" ry="3.2" transform="rotate(112 62 307)"/><ellipse cx="90" cy="277" rx="4.4" ry="3.2" transform="rotate(142 90 277)"/><ellipse cx="146" cy="322" rx="3.7" ry="3.1" transform="rotate(142 146 322)"/><ellipse cx="82" cy="319" rx="3.7" ry="3.0" transform="rotate(140 82 319)"/><ellipse cx="94" cy="192" rx="4.3" ry="3.4" transform="rotate(27 94 192)"/><ellipse cx="68" cy="216" rx="3.5" ry="3.3" transform="rotate(70 68 216)"/><ellipse cx="48" cy="307" rx="4.2" ry="3.4" transform="rotate(119 48 307)"/><ellipse cx="88" cy="289" rx="3.7" ry="3.4" transform="rotate(68 88 289)"/><ellipse cx="79" cy="236" rx="4.0" ry="3.0" transform="rotate(146 79 236)"/><ellipse cx="64" cy="205" rx="4.1" ry="3.1" transform="rotate(141 64 205)"/><ellipse cx="146" cy="285" rx="4.3" ry="3.2" transform="rotate(105 146 285)"/></g><g fill="#7636a8"><ellipse cx="74" cy="201" rx="3.9" ry="3.3" transform="rotate(2 74 201)"/><ellipse cx="94" cy="206" rx="3.6" ry="2.8" transform="rotate(174 94 206)"/><ellipse cx="81" cy="224" rx="4.0" ry="3.2" transform="rotate(128 81 224)"/><ellipse cx="39" cy="263" rx="4.3" ry="3.2" transform="rotate(62 39 263)"/><ellipse cx="133" cy="327" rx="3.7" ry="2.7" transform="rotate(27 133 327)"/></g></g></g><g clip-path="url(#c3)"><rect x="149" y="189" width="120" height="137.4" fill="#0f0716"/><g filter="url(#bl08)"><g fill="#6240b4"><ellipse cx="266" cy="296" rx="2.9" ry="3.0" transform="rotate(139 266 296)"/><ellipse cx="162" cy="305" rx="2.9" ry="2.4" transform="rotate(94 162 305)"/><ellipse cx="210" cy="272" rx="3.2" ry="2.4" transform="rotate(63 210 272)"/><ellipse cx="238" cy="309" rx="3.3" ry="2.9" transform="rotate(40 238 309)"/><ellipse cx="263" cy="194" rx="3.1" ry="2.7" transform="rotate(124 263 194)"/><ellipse cx="242" cy="209" rx="2.9" ry="2.5" transform="rotate(91 242 209)"/><ellipse cx="252" cy="315" rx="3.0" ry="2.9" transform="rotate(40 252 315)"/><ellipse cx="175" cy="209" rx="2.7" ry="2.7" transform="rotate(142 175 209)"/><ellipse cx="245" cy="329" rx="3.0" ry="2.4" transform="rotate(164 245 329)"/><ellipse cx="255" cy="266" rx="3.2" ry="2.6" transform="rotate(113 255 266)"/><ellipse cx="159" cy="290" rx="2.7" ry="2.8" transform="rotate(42 159 290)"/><ellipse cx="150" cy="275" rx="2.8" ry="2.7" transform="rotate(117 150 275)"/><ellipse cx="215" cy="200" rx="3.2" ry="2.9" transform="rotate(58 215 200)"/><ellipse cx="229" cy="205" rx="2.9" ry="2.7" transform="rotate(55 229 205)"/><ellipse cx="197" cy="269" rx="2.8" ry="2.7" transform="rotate(39 197 269)"/><ellipse cx="155" cy="204" rx="3.2" ry="2.5" transform="rotate(175 155 204)"/><ellipse cx="228" cy="271" rx="2.8" ry="2.9" transform="rotate(115 228 271)"/><ellipse cx="211" cy="288" rx="2.7" ry="2.9" transform="rotate(125 211 288)"/><ellipse cx="209" cy="238" rx="2.8" ry="2.7" transform="rotate(35 209 238)"/><ellipse cx="175" cy="299" rx="3.0" ry="2.6" transform="rotate(99 175 299)"/><ellipse cx="266" cy="248" rx="2.9" ry="2.9" transform="rotate(121 266 248)"/><ellipse cx="270" cy="209" rx="3.0" ry="2.5" transform="rotate(5 270 209)"/><ellipse cx="168" cy="267" rx="3.2" ry="3.0" transform="rotate(6 168 267)"/><ellipse cx="250" cy="227" rx="3.1" ry="2.6" transform="rotate(36 250 227)"/><ellipse cx="220" cy="308" rx="3.1" ry="2.5" transform="rotate(102 220 308)"/><ellipse cx="250" cy="191" rx="3.3" ry="2.5" transform="rotate(131 250 191)"/><ellipse cx="221" cy="240" rx="3.2" ry="2.6" transform="rotate(41 221 240)"/><ellipse cx="224" cy="217" rx="3.4" ry="2.7" transform="rotate(127 224 217)"/><ellipse cx="208" cy="325" rx="3.0" ry="2.6" transform="rotate(5 208 325)"/><ellipse cx="175" cy="188" rx="3.4" ry="2.6" transform="rotate(52 175 188)"/><ellipse cx="201" cy="292" rx="3.0" ry="2.8" transform="rotate(158 201 292)"/><ellipse cx="178" cy="281" rx="2.8" ry="2.7" transform="rotate(121 178 281)"/><ellipse cx="199" cy="186" rx="2.7" ry="2.5" transform="rotate(42 199 186)"/><ellipse cx="176" cy="260" rx="3.3" ry="2.7" transform="rotate(6 176 260)"/><ellipse cx="233" cy="259" rx="3.1" ry="2.4" transform="rotate(155 233 259)"/><ellipse cx="234" cy="321" rx="3.2" ry="2.4" transform="rotate(72 234 321)"/><ellipse cx="218" cy="190" rx="3.0" ry="2.6" transform="rotate(3 218 190)"/><ellipse cx="232" cy="246" rx="3.4" ry="2.8" transform="rotate(131 232 246)"/><ellipse cx="201" cy="217" rx="2.7" ry="2.5" transform="rotate(26 201 217)"/><ellipse cx="172" cy="244" rx="2.8" ry="2.6" transform="rotate(22 172 244)"/><ellipse cx="153" cy="193" rx="3.1" ry="2.7" transform="rotate(101 153 193)"/><ellipse cx="266" cy="268" rx="3.4" ry="2.9" transform="rotate(75 266 268)"/><ellipse cx="220" cy="266" rx="3.4" ry="2.7" transform="rotate(103 220 266)"/><ellipse cx="187" cy="210" rx="2.8" ry="2.4" transform="rotate(101 187 210)"/><ellipse cx="247" cy="256" rx="3.0" ry="2.4" transform="rotate(167 247 256)"/><ellipse cx="181" cy="235" rx="2.9" ry="2.9" transform="rotate(139 181 235)"/><ellipse cx="175" cy="227" rx="3.3" ry="2.4" transform="rotate(47 175 227)"/><ellipse cx="208" cy="312" rx="2.9" ry="2.5" transform="rotate(90 208 312)"/><ellipse cx="161" cy="279" rx="2.9" ry="2.6" transform="rotate(40 161 279)"/><ellipse cx="242" cy="272" rx="3.0" ry="2.7" transform="rotate(42 242 272)"/><ellipse cx="162" cy="252" rx="2.8" ry="3.0" transform="rotate(38 162 252)"/></g><g fill="#ec2c86"><ellipse cx="253" cy="236" rx="3.0" ry="2.8" transform="rotate(113 253 236)"/><ellipse cx="189" cy="248" rx="3.1" ry="2.5" transform="rotate(84 189 248)"/><ellipse cx="221" cy="326" rx="3.2" ry="2.8" transform="rotate(78 221 326)"/><ellipse cx="156" cy="267" rx="3.2" ry="2.4" transform="rotate(133 156 267)"/><ellipse cx="178" cy="318" rx="3.3" ry="2.6" transform="rotate(61 178 318)"/><ellipse cx="269" cy="279" rx="3.4" ry="2.3" transform="rotate(176 269 279)"/><ellipse cx="191" cy="323" rx="3.1" ry="2.8" transform="rotate(17 191 323)"/><ellipse cx="246" cy="281" rx="2.9" ry="2.8" transform="rotate(118 246 281)"/><ellipse cx="234" cy="222" rx="3.1" ry="2.9" transform="rotate(107 234 222)"/><ellipse cx="152" cy="249" rx="2.7" ry="3.0" transform="rotate(148 152 249)"/><ellipse cx="174" cy="309" rx="2.8" ry="2.9" transform="rotate(92 174 309)"/><ellipse cx="148" cy="295" rx="3.1" ry="2.8" transform="rotate(147 148 295)"/><ellipse cx="270" cy="320" rx="3.4" ry="2.5" transform="rotate(99 270 320)"/><ellipse cx="212" cy="301" rx="3.0" ry="2.9" transform="rotate(42 212 301)"/><ellipse cx="150" cy="327" rx="3.2" ry="2.6" transform="rotate(171 150 327)"/><ellipse cx="188" cy="305" rx="2.8" ry="2.5" transform="rotate(126 188 305)"/><ellipse cx="236" cy="233" rx="3.1" ry="2.7" transform="rotate(59 236 233)"/><ellipse cx="242" cy="297" rx="3.1" ry="2.3" transform="rotate(131 242 297)"/><ellipse cx="234" cy="281" rx="3.3" ry="2.8" transform="rotate(177 234 281)"/><ellipse cx="256" cy="326" rx="2.7" ry="2.8" transform="rotate(127 256 326)"/><ellipse cx="262" cy="308" rx="3.4" ry="2.4" transform="rotate(89 262 308)"/><ellipse cx="161" cy="241" rx="2.8" ry="2.6" transform="rotate(101 161 241)"/><ellipse cx="219" cy="230" rx="3.4" ry="2.4" transform="rotate(141 219 230)"/></g><g fill="#a8369e"><ellipse cx="189" cy="275" rx="3.1" ry="2.9" transform="rotate(164 189 275)"/><ellipse cx="257" cy="207" rx="3.3" ry="2.9" transform="rotate(155 257 207)"/><ellipse cx="190" cy="288" rx="3.3" ry="2.5" transform="rotate(155 190 288)"/><ellipse cx="187" cy="222" rx="3.2" ry="2.3" transform="rotate(106 187 222)"/><ellipse cx="253" cy="296" rx="2.7" ry="2.4" transform="rotate(113 253 296)"/><ellipse cx="198" cy="305" rx="3.4" ry="2.7" transform="rotate(176 198 305)"/><ellipse cx="238" cy="194" rx="3.2" ry="2.8" transform="rotate(162 238 194)"/><ellipse cx="152" cy="314" rx="3.3" ry="2.9" transform="rotate(120 152 314)"/><ellipse cx="211" cy="217" rx="3.1" ry="3.0" transform="rotate(109 211 217)"/><ellipse cx="163" cy="223" rx="2.9" ry="2.5" transform="rotate(99 163 223)"/><ellipse cx="225" cy="298" rx="3.0" ry="2.9" transform="rotate(118 225 298)"/><ellipse cx="244" cy="245" rx="3.3" ry="2.5" transform="rotate(174 244 245)"/><ellipse cx="188" cy="199" rx="3.4" ry="2.4" transform="rotate(72 188 199)"/><ellipse cx="215" cy="250" rx="3.1" ry="2.8" transform="rotate(28 215 250)"/><ellipse cx="255" cy="285" rx="3.1" ry="2.8" transform="rotate(40 255 285)"/><ellipse cx="202" cy="200" rx="2.7" ry="2.4" transform="rotate(148 202 200)"/><ellipse cx="200" cy="233" rx="2.8" ry="2.4" transform="rotate(156 200 233)"/><ellipse cx="202" cy="256" rx="2.7" ry="2.4" transform="rotate(2 202 256)"/><ellipse cx="264" cy="228" rx="2.8" ry="2.6" transform="rotate(115 264 228)"/><ellipse cx="271" cy="239" rx="3.3" ry="2.8" transform="rotate(5 271 239)"/><ellipse cx="168" cy="328" rx="2.8" ry="2.4" transform="rotate(179 168 328)"/><ellipse cx="167" cy="199" rx="3.1" ry="2.5" transform="rotate(169 167 199)"/><ellipse cx="147" cy="226" rx="2.9" ry="2.5" transform="rotate(41 147 226)"/><ellipse cx="259" cy="220" rx="2.9" ry="2.6" transform="rotate(123 259 220)"/><ellipse cx="161" cy="319" rx="3.3" ry="2.6" transform="rotate(9 161 319)"/><ellipse cx="272" cy="219" rx="2.9" ry="2.9" transform="rotate(170 272 219)"/></g></g></g><g clip-path="url(#c4)"><rect x="24" y="332.6" width="120" height="137.4" fill="#0c0614"/><g filter="url(#bl2)"><path d="M71 342L78 350L80 365L62 366L65 352Z" fill="#8c2c8c" opacity="0.85"/><path d="M80 366L98 370L102 395L88 405L80 385Z" fill="#4a1656" opacity="0.55"/><path d="M38 392L45 394L46 408L37 406Z" fill="#6a2270" opacity="0.6"/></g><g filter="url(#bl12)"><g fill="#4e38b8"><ellipse cx="140" cy="374" rx="4.7" ry="3.6" transform="rotate(78 140 374)"/><ellipse cx="120" cy="361" rx="4.0" ry="3.4" transform="rotate(50 120 361)"/><ellipse cx="123" cy="435" rx="4.7" ry="3.4" transform="rotate(129 123 435)"/><ellipse cx="40" cy="437" rx="4.5" ry="3.7" transform="rotate(166 40 437)"/><ellipse cx="72" cy="472" rx="3.8" ry="3.3" transform="rotate(43 72 472)"/><ellipse cx="48" cy="388" rx="3.9" ry="3.3" transform="rotate(52 48 388)"/><ellipse cx="140" cy="413" rx="4.5" ry="3.2" transform="rotate(106 140 413)"/><ellipse cx="82" cy="381" rx="4.7" ry="3.4" transform="rotate(178 82 381)"/><ellipse cx="143" cy="397" rx="3.9" ry="3.6" transform="rotate(164 143 397)"/><ellipse cx="112" cy="469" rx="4.2" ry="3.4" transform="rotate(109 112 469)"/><ellipse cx="128" cy="414" rx="3.9" ry="3.6" transform="rotate(138 128 414)"/><ellipse cx="71" cy="349" rx="4.6" ry="3.3" transform="rotate(166 71 349)"/><ellipse cx="125" cy="459" rx="4.6" ry="3.6" transform="rotate(74 125 459)"/><ellipse cx="67" cy="337" rx="3.9" ry="3.4" transform="rotate(76 67 337)"/><ellipse cx="127" cy="369" rx="4.6" ry="3.2" transform="rotate(17 127 369)"/><ellipse cx="142" cy="347" rx="3.9" ry="3.1" transform="rotate(152 142 347)"/><ellipse cx="32" cy="458" rx="4.0" ry="3.8" transform="rotate(84 32 458)"/><ellipse cx="82" cy="448" rx="4.5" ry="3.3" transform="rotate(37 82 448)"/><ellipse cx="101" cy="402" rx="4.0" ry="3.5" transform="rotate(171 101 402)"/><ellipse cx="61" cy="347" rx="4.4" ry="3.2" transform="rotate(70 61 347)"/><ellipse cx="102" cy="455" rx="4.6" ry="3.0" transform="rotate(164 102 455)"/><ellipse cx="68" cy="429" rx="4.4" ry="3.2" transform="rotate(27 68 429)"/><ellipse cx="90" cy="459" rx="4.0" ry="3.4" transform="rotate(18 90 459)"/><ellipse cx="61" cy="465" rx="4.1" ry="3.6" transform="rotate(120 61 465)"/><ellipse cx="34" cy="469" rx="4.1" ry="3.2" transform="rotate(28 34 469)"/><ellipse cx="81" cy="392" rx="4.4" ry="3.0" transform="rotate(109 81 392)"/><ellipse cx="129" cy="346" rx="4.8" ry="3.6" transform="rotate(15 129 346)"/><ellipse cx="21" cy="401" rx="4.7" ry="3.7" transform="rotate(15 21 401)"/><ellipse cx="39" cy="423" rx="4.6" ry="3.3" transform="rotate(60 39 423)"/><ellipse cx="114" cy="457" rx="3.8" ry="3.1" transform="rotate(17 114 457)"/><ellipse cx="82" cy="468" rx="4.5" ry="3.0" transform="rotate(114 82 468)"/><ellipse cx="146" cy="421" rx="4.0" ry="3.5" transform="rotate(5 146 421)"/><ellipse cx="58" cy="389" rx="4.2" ry="3.1" transform="rotate(68 58 389)"/><ellipse cx="108" cy="374" rx="4.1" ry="3.8" transform="rotate(68 108 374)"/></g><g fill="#4632ae"><ellipse cx="53" cy="362" rx="3.9" ry="3.5" transform="rotate(34 53 362)"/><ellipse cx="74" cy="400" rx="4.2" ry="3.4" transform="rotate(54 74 400)"/><ellipse cx="136" cy="443" rx="4.1" ry="3.7" transform="rotate(138 136 443)"/><ellipse cx="114" cy="416" rx="4.3" ry="3.0" transform="rotate(105 114 416)"/><ellipse cx="50" cy="337" rx="4.3" ry="3.7" transform="rotate(118 50 337)"/><ellipse cx="33" cy="381" rx="4.8" ry="3.1" transform="rotate(132 33 381)"/><ellipse cx="33" cy="354" rx="4.3" ry="3.6" transform="rotate(3 33 354)"/><ellipse cx="116" cy="383" rx="4.3" ry="3.1" transform="rotate(13 116 383)"/><ellipse cx="28" cy="393" rx="4.4" ry="3.2" transform="rotate(69 28 393)"/><ellipse cx="24" cy="374" rx="3.8" ry="3.3" transform="rotate(14 24 374)"/><ellipse cx="25" cy="447" rx="3.9" ry="3.1" transform="rotate(169 25 447)"/><ellipse cx="31" cy="409" rx="3.9" ry="3.2" transform="rotate(44 31 409)"/><ellipse cx="60" cy="452" rx="4.1" ry="3.4" transform="rotate(28 60 452)"/><ellipse cx="122" cy="400" rx="4.0" ry="3.2" transform="rotate(145 122 400)"/><ellipse cx="101" cy="391" rx="4.3" ry="3.8" transform="rotate(147 101 391)"/><ellipse cx="99" cy="473" rx="4.8" ry="3.8" transform="rotate(27 99 473)"/><ellipse cx="51" cy="408" rx="4.1" ry="3.1" transform="rotate(36 51 408)"/><ellipse cx="87" cy="336" rx="4.8" ry="3.1" transform="rotate(151 87 336)"/><ellipse cx="68" cy="384" rx="4.2" ry="3.0" transform="rotate(106 68 384)"/><ellipse cx="88" cy="356" rx="4.5" ry="3.3" transform="rotate(162 88 356)"/><ellipse cx="93" cy="442" rx="4.1" ry="3.3" transform="rotate(174 93 442)"/><ellipse cx="99" cy="364" rx="4.1" ry="3.6" transform="rotate(54 99 364)"/><ellipse cx="32" cy="332" rx="4.1" ry="3.2" transform="rotate(80 32 332)"/><ellipse cx="42" cy="450" rx="3.9" ry="3.7" transform="rotate(53 42 450)"/><ellipse cx="93" cy="384" rx="4.2" ry="3.5" transform="rotate(62 93 384)"/><ellipse cx="138" cy="430" rx="4.5" ry="3.7" transform="rotate(97 138 430)"/><ellipse cx="93" cy="347" rx="4.3" ry="3.4" transform="rotate(45 93 347)"/><ellipse cx="64" cy="373" rx="4.3" ry="3.7" transform="rotate(82 64 373)"/><ellipse cx="53" cy="377" rx="4.6" ry="3.6" transform="rotate(142 53 377)"/><ellipse cx="73" cy="417" rx="4.0" ry="3.5" transform="rotate(3 73 417)"/><ellipse cx="73" cy="360" rx="3.9" ry="3.2" transform="rotate(2 73 360)"/><ellipse cx="53" cy="442" rx="4.2" ry="3.4" transform="rotate(82 53 442)"/><ellipse cx="22" cy="426" rx="4.2" ry="3.4" transform="rotate(128 22 426)"/><ellipse cx="112" cy="337" rx="4.7" ry="3.5" transform="rotate(123 112 337)"/><ellipse cx="76" cy="332" rx="4.7" ry="3.4" transform="rotate(98 76 332)"/><ellipse cx="134" cy="467" rx="4.7" ry="3.2" transform="rotate(74 134 467)"/><ellipse cx="22" cy="464" rx="4.7" ry="3.8" transform="rotate(166 22 464)"/><ellipse cx="100" cy="331" rx="3.9" ry="3.3" transform="rotate(168 100 331)"/><ellipse cx="55" cy="430" rx="4.6" ry="3.7" transform="rotate(28 55 430)"/><ellipse cx="126" cy="380" rx="4.7" ry="3.2" transform="rotate(64 126 380)"/><ellipse cx="102" cy="420" rx="4.3" ry="3.5" transform="rotate(106 102 420)"/><ellipse cx="45" cy="465" rx="4.2" ry="3.3" transform="rotate(160 45 465)"/><ellipse cx="104" cy="352" rx="4.8" ry="3.7" transform="rotate(90 104 352)"/><ellipse cx="147" cy="450" rx="4.4" ry="3.1" transform="rotate(105 147 450)"/><ellipse cx="106" cy="429" rx="4.5" ry="3.6" transform="rotate(113 106 429)"/><ellipse cx="110" cy="444" rx="4.2" ry="3.5" transform="rotate(135 110 444)"/><ellipse cx="63" cy="404" rx="4.1" ry="3.7" transform="rotate(178 63 404)"/></g><g fill="#3e2c9e"><ellipse cx="91" cy="422" rx="3.9" ry="3.4" transform="rotate(175 91 422)"/><ellipse cx="129" cy="334" rx="4.5" ry="3.7" transform="rotate(165 129 334)"/><ellipse cx="114" cy="349" rx="4.6" ry="3.4" transform="rotate(123 114 349)"/><ellipse cx="70" cy="443" rx="3.8" ry="3.1" transform="rotate(132 70 443)"/><ellipse cx="134" cy="390" rx="4.6" ry="3.3" transform="rotate(71 134 390)"/><ellipse cx="145" cy="469" rx="4.5" ry="3.3" transform="rotate(97 145 469)"/><ellipse cx="75" cy="456" rx="4.7" ry="3.5" transform="rotate(20 75 456)"/><ellipse cx="21" cy="336" rx="4.0" ry="3.2" transform="rotate(70 21 336)"/><ellipse cx="80" cy="428" rx="3.9" ry="3.6" transform="rotate(21 80 428)"/><ellipse cx="146" cy="360" rx="4.3" ry="3.3" transform="rotate(156 146 360)"/><ellipse cx="135" cy="357" rx="4.5" ry="3.8" transform="rotate(129 135 357)"/><ellipse cx="23" cy="347" rx="4.3" ry="3.3" transform="rotate(177 23 347)"/><ellipse cx="57" cy="418" rx="4.6" ry="3.4" transform="rotate(12 57 418)"/><ellipse cx="85" cy="411" rx="4.4" ry="3.6" transform="rotate(172 85 411)"/><ellipse cx="32" cy="366" rx="4.0" ry="3.1" transform="rotate(170 32 366)"/></g></g></g><g clip-path="url(#c5)"><rect x="149" y="332.6" width="120" height="137.4" fill="#240b34"/><g filter="url(#bl3)"><path d="M277.8 381.2L271.5 404.9L244.7 417.7L214.8 410.9L207.7 391.5L203.1 363.8L213.8 345.3L239.4 342.8L259.1 352.9Z" fill="#46228a" opacity="0.7"/><path d="M240.2 394.3L232.3 416.4L222.3 430.2L211.5 421.0L197.0 410.9L200.3 387.1L206.2 369.0L222.5 364.8L240.4 380.8Z" fill="#48289c" opacity="0.7"/><path d="M263.5 336.4L252.1 340.0L229.0 340.7L183.3 340.1L159.1 337.9L151.5 335.8L176.8 333.5L228.3 332.5L254.6 334.0Z" fill="#1a0626" opacity="0.6"/></g><g filter="url(#bl15)"><path d="M245.5 358.9L241.2 368.0L238.2 374.9L230.7 371.3L222.3 363.1L223.1 357.1L229.4 350.3L234.5 346.7L243.4 353.2Z" fill="#7e3aa8" opacity="0.9"/><path d="M267.8 350.0L265.9 358.8L262.1 365.4L254.9 365.1L247.0 360.2L246.8 355.1L249.0 346.7L254.9 341.4L262.8 342.4Z" fill="#a844a6" opacity="0.9"/><path d="M262.0 380.7L255.9 384.5L253.1 387.7L242.9 384.7L234.1 381.1L235.1 377.3L240.6 373.8L251.8 372.6L256.5 375.4Z" fill="#9a3ca8" opacity="0.85"/><path d="M223.6 383.6L222.5 389.2L217.4 391.1L211.7 389.9L209.3 385.6L210.8 379.4L212.9 374.3L217.5 374.1L222.0 376.0Z" fill="#8a3aa6" opacity="0.8"/><path d="M237.0 432.1L231.1 434.8L224.0 436.9L216.2 434.7L210.1 430.4L212.6 422.4L218.8 418.8L225.4 418.9L232.8 425.0Z" fill="#b04aa8" opacity="0.95"/><path d="M253.8 451.3L252.7 457.3L247.7 461.7L242.1 462.5L240.3 458.3L239.7 447.9L242.4 440.0L249.9 436.7L252.0 444.2Z" fill="#8a3a9a" opacity="0.85"/><path d="M200.5 418.4L201.7 423.0L199.9 427.0L194.4 430.2L189.1 425.9L185.5 423.1L184.4 417.0L192.0 413.8L196.7 412.6Z" fill="#d264b2" opacity="1"/><path d="M183.8 403.8L179.9 405.9L172.7 408.1L167.0 407.4L164.5 405.2L162.1 402.8L168.7 399.7L175.7 400.9L181.7 401.6Z" fill="#a040a2" opacity="0.85"/><path d="M181.3 455.0L177.3 461.5L173.6 468.6L166.1 465.7L162.2 461.4L163.9 449.4L166.5 444.5L173.6 442.9L177.7 447.4Z" fill="#9a40a0" opacity="0.85"/><path d="M175.8 382.4L174.7 386.7L168.2 388.8L162.5 390.7L157.5 384.8L158.5 380.5L161.9 378.1L166.5 375.2L173.1 379.9Z" fill="#6e2a8a" opacity="0.7"/></g><g filter="url(#bl12)"><g fill="#4a34ae"><ellipse cx="193" cy="440" rx="3.8" ry="3.2" transform="rotate(28 193 440)"/><ellipse cx="231" cy="431" rx="3.6" ry="3.3" transform="rotate(138 231 431)"/><ellipse cx="201" cy="473" rx="4.2" ry="3.5" transform="rotate(160 201 473)"/><ellipse cx="272" cy="466" rx="4.4" ry="3.2" transform="rotate(53 272 466)"/><ellipse cx="230" cy="416" rx="3.8" ry="3.2" transform="rotate(71 230 416)"/><ellipse cx="218" cy="424" rx="3.9" ry="3.4" transform="rotate(14 218 424)"/><ellipse cx="176" cy="396" rx="4.2" ry="3.2" transform="rotate(71 176 396)"/><ellipse cx="156" cy="450" rx="4.0" ry="3.1" transform="rotate(52 156 450)"/><ellipse cx="166" cy="460" rx="3.8" ry="3.4" transform="rotate(31 166 460)"/><ellipse cx="210" cy="430" rx="4.2" ry="3.4" transform="rotate(110 210 430)"/><ellipse cx="149" cy="346" rx="4.0" ry="3.6" transform="rotate(147 149 346)"/><ellipse cx="234" cy="466" rx="4.2" ry="3.2" transform="rotate(65 234 466)"/><ellipse cx="177" cy="357" rx="4.5" ry="3.5" transform="rotate(104 177 357)"/><ellipse cx="180" cy="411" rx="3.9" ry="3.0" transform="rotate(152 180 411)"/><ellipse cx="169" cy="342" rx="4.4" ry="3.1" transform="rotate(114 169 342)"/><ellipse cx="210" cy="458" rx="4.3" ry="3.5" transform="rotate(144 210 458)"/><ellipse cx="269" cy="417" rx="3.8" ry="3.5" transform="rotate(135 269 417)"/><ellipse cx="243" cy="422" rx="4.2" ry="2.9" transform="rotate(28 243 422)"/><ellipse cx="162" cy="417" rx="4.1" ry="3.1" transform="rotate(50 162 417)"/><ellipse cx="192" cy="457" rx="3.9" ry="2.9" transform="rotate(64 192 457)"/><ellipse cx="271" cy="369" rx="3.9" ry="3.4" transform="rotate(55 271 369)"/><ellipse cx="236" cy="384" rx="3.7" ry="3.4" transform="rotate(51 236 384)"/><ellipse cx="156" cy="432" rx="4.3" ry="3.1" transform="rotate(95 156 432)"/><ellipse cx="148" cy="388" rx="4.5" ry="3.1" transform="rotate(29 148 388)"/><ellipse cx="187" cy="369" rx="4.3" ry="2.9" transform="rotate(139 187 369)"/><ellipse cx="241" cy="404" rx="4.3" ry="3.0" transform="rotate(1 241 404)"/><ellipse cx="266" cy="447" rx="4.0" ry="3.4" transform="rotate(33 266 447)"/><ellipse cx="242" cy="355" rx="3.9" ry="3.4" transform="rotate(93 242 355)"/><ellipse cx="166" cy="399" rx="4.0" ry="3.4" transform="rotate(107 166 399)"/><ellipse cx="204" cy="420" rx="4.1" ry="3.5" transform="rotate(104 204 420)"/><ellipse cx="188" cy="354" rx="4.4" ry="2.9" transform="rotate(41 188 354)"/><ellipse cx="213" cy="376" rx="3.8" ry="3.6" transform="rotate(112 213 376)"/><ellipse cx="258" cy="355" rx="4.5" ry="3.4" transform="rotate(108 258 355)"/><ellipse cx="192" cy="335" rx="4.1" ry="3.5" transform="rotate(8 192 335)"/><ellipse cx="199" cy="346" rx="4.3" ry="3.2" transform="rotate(130 199 346)"/><ellipse cx="259" cy="473" rx="3.8" ry="3.2" transform="rotate(122 259 473)"/><ellipse cx="255" cy="462" rx="4.1" ry="3.4" transform="rotate(92 255 462)"/><ellipse cx="168" cy="369" rx="4.4" ry="3.3" transform="rotate(138 168 369)"/><ellipse cx="147" cy="472" rx="4.4" ry="3.3" transform="rotate(103 147 472)"/><ellipse cx="252" cy="442" rx="4.2" ry="3.0" transform="rotate(111 252 442)"/><ellipse cx="152" cy="377" rx="4.0" ry="2.9" transform="rotate(62 152 377)"/><ellipse cx="256" cy="417" rx="4.1" ry="3.0" transform="rotate(28 256 417)"/><ellipse cx="176" cy="458" rx="4.4" ry="3.5" transform="rotate(153 176 458)"/><ellipse cx="249" cy="388" rx="3.9" ry="3.2" transform="rotate(21 249 388)"/><ellipse cx="202" cy="365" rx="4.2" ry="3.1" transform="rotate(148 202 365)"/><ellipse cx="246" cy="331" rx="4.3" ry="3.3" transform="rotate(96 246 331)"/><ellipse cx="231" cy="366" rx="3.7" ry="3.2" transform="rotate(45 231 366)"/><ellipse cx="215" cy="404" rx="4.2" ry="3.3" transform="rotate(31 215 404)"/><ellipse cx="202" cy="393" rx="3.8" ry="3.6" transform="rotate(118 202 393)"/><ellipse cx="210" cy="330" rx="3.8" ry="3.1" transform="rotate(68 210 330)"/><ellipse cx="266" cy="336" rx="4.1" ry="3.4" transform="rotate(32 266 336)"/><ellipse cx="267" cy="346" rx="3.9" ry="3.0" transform="rotate(161 267 346)"/><ellipse cx="152" cy="420" rx="4.4" ry="3.1" transform="rotate(56 152 420)"/><ellipse cx="270" cy="436" rx="3.6" ry="3.0" transform="rotate(95 270 436)"/><ellipse cx="166" cy="386" rx="4.2" ry="3.3" transform="rotate(122 166 386)"/><ellipse cx="244" cy="452" rx="3.9" ry="2.9" transform="rotate(17 244 452)"/><ellipse cx="260" cy="365" rx="4.5" ry="3.2" transform="rotate(40 260 365)"/><ellipse cx="264" cy="384" rx="4.0" ry="3.5" transform="rotate(149 264 384)"/><ellipse cx="167" cy="444" rx="3.7" ry="3.3" transform="rotate(177 167 444)"/><ellipse cx="160" cy="472" rx="4.2" ry="3.4" transform="rotate(95 160 472)"/><ellipse cx="271" cy="399" rx="4.0" ry="3.2" transform="rotate(99 271 399)"/><ellipse cx="148" cy="439" rx="3.9" ry="3.1" transform="rotate(4 148 439)"/><ellipse cx="215" cy="390" rx="4.5" ry="3.5" transform="rotate(161 215 390)"/><ellipse cx="219" cy="367" rx="3.8" ry="3.0" transform="rotate(42 219 367)"/></g><g fill="#5038b4"><ellipse cx="170" cy="428" rx="4.2" ry="3.1" transform="rotate(79 170 428)"/><ellipse cx="148" cy="333" rx="4.4" ry="3.4" transform="rotate(118 148 333)"/><ellipse cx="254" cy="429" rx="4.2" ry="3.5" transform="rotate(51 254 429)"/><ellipse cx="226" cy="450" rx="3.7" ry="3.6" transform="rotate(15 226 450)"/><ellipse cx="246" cy="468" rx="4.3" ry="3.6" transform="rotate(98 246 468)"/><ellipse cx="182" cy="470" rx="4.1" ry="3.4" transform="rotate(44 182 470)"/><ellipse cx="150" cy="365" rx="4.4" ry="3.1" transform="rotate(40 150 365)"/><ellipse cx="247" cy="370" rx="4.3" ry="3.3" transform="rotate(74 247 370)"/><ellipse cx="234" cy="330" rx="3.7" ry="3.4" transform="rotate(135 234 330)"/><ellipse cx="210" cy="352" rx="3.7" ry="3.4" transform="rotate(108 210 352)"/><ellipse cx="146" cy="408" rx="3.9" ry="2.9" transform="rotate(4 146 408)"/><ellipse cx="158" cy="354" rx="4.2" ry="3.4" transform="rotate(116 158 354)"/><ellipse cx="229" cy="340" rx="4.4" ry="3.6" transform="rotate(34 229 340)"/><ellipse cx="188" cy="420" rx="4.4" ry="3.2" transform="rotate(137 188 420)"/><ellipse cx="214" cy="472" rx="4.2" ry="3.6" transform="rotate(29 214 472)"/><ellipse cx="205" cy="448" rx="4.3" ry="3.5" transform="rotate(10 205 448)"/><ellipse cx="189" cy="380" rx="4.4" ry="3.1" transform="rotate(116 189 380)"/><ellipse cx="226" cy="389" rx="3.8" ry="3.4" transform="rotate(126 226 389)"/><ellipse cx="220" cy="349" rx="3.7" ry="3.4" transform="rotate(106 220 349)"/><ellipse cx="180" cy="445" rx="3.9" ry="3.1" transform="rotate(82 180 445)"/><ellipse cx="192" cy="405" rx="4.3" ry="3.4" transform="rotate(20 192 405)"/><ellipse cx="258" cy="406" rx="4.2" ry="3.4" transform="rotate(177 258 406)"/><ellipse cx="242" cy="433" rx="4.3" ry="3.2" transform="rotate(119 242 433)"/><ellipse cx="204" cy="406" rx="4.3" ry="3.0" transform="rotate(53 204 406)"/><ellipse cx="222" cy="465" rx="4.2" ry="3.6" transform="rotate(127 222 465)"/><ellipse cx="148" cy="460" rx="4.3" ry="3.3" transform="rotate(126 148 460)"/><ellipse cx="219" cy="338" rx="4.1" ry="3.6" transform="rotate(37 219 338)"/><ellipse cx="181" cy="340" rx="3.8" ry="3.6" transform="rotate(10 181 340)"/></g></g></g><rect x="133.2" y="174.70000000000002" width="7.8" height="1.15" fill="#fff"/><text x="137.1" y="179.20000000000002" font-size="3.6" fill="#fff" text-anchor="middle">20 µm</text><rect x="258.2" y="174.70000000000002" width="7.8" height="1.15" fill="#fff"/><text x="262.1" y="179.20000000000002" font-size="3.6" fill="#fff" text-anchor="middle">20 µm</text><rect x="133.2" y="318.7" width="7.8" height="1.15" fill="#fff"/><text x="137.1" y="323.2" font-size="3.6" fill="#fff" text-anchor="middle">20 µm</text><rect x="258.2" y="318.7" width="7.8" height="1.15" fill="#fff"/><text x="262.1" y="323.2" font-size="3.6" fill="#fff" text-anchor="middle">20 µm</text><rect x="133.2" y="462.3" width="7.8" height="1.15" fill="#fff"/><text x="137.1" y="466.8" font-size="3.6" fill="#fff" text-anchor="middle">20 µm</text><rect x="258.2" y="462.3" width="7.8" height="1.15" fill="#fff"/><text x="262.1" y="466.8" font-size="3.6" fill="#fff" text-anchor="middle">20 µm</text><text x="26.6" y="54.7" font-size="8.8" fill="#fff" textLength="32.3" lengthAdjust="spacingAndGlyphs">Unstretch</text><text x="154.8" y="54.9" font-size="8.7" fill="#fff" textLength="58.3" lengthAdjust="spacingAndGlyphs">Stretch 10% 24h</text><path d="M154.9 101 V121" stroke="#f4f4f4" stroke-width="1.7"/><path d="M150.9 102.6 L154.9 93.5 L158.9 102.6 Z" fill="#f4f4f4"/><path d="M150.9 119.2 L154.9 128.2 L158.9 119.2 Z" fill="#f4f4f4"/><text transform="translate(19.5 114.1) rotate(-90)" font-size="8.5" fill="#2a2a2a" text-anchor="middle" textLength="47.2" lengthAdjust="spacingAndGlyphs">VE cadherins</text><text transform="translate(19.5 256.5) rotate(-90)" font-size="8.5" fill="#2a2a2a" text-anchor="middle" textLength="66.6" lengthAdjust="spacingAndGlyphs">Histone H3K27Ac</text><text transform="translate(19.5 401.1) rotate(-90)" font-size="8.5" fill="#2a2a2a" text-anchor="middle" textLength="11.8" lengthAdjust="spacingAndGlyphs">TM</text><text x="6.8" y="15.9" font-size="11" font-weight="bold" fill="#111" stroke="#111" stroke-width="0.35">A</text><text x="284.3" y="16.7" font-size="11" font-weight="bold" fill="#111" stroke="#111" stroke-width="0.35">B</text><text x="284.1" y="175.9" font-size="11" font-weight="bold" fill="#111" stroke="#111" stroke-width="0.35">C</text><text x="284.3" y="342.8" font-size="11" font-weight="bold" fill="#111" stroke="#111" stroke-width="0.35">D</text><rect x="341.3" y="128.4" width="2.9" height="15.1" fill="#a8cbea"/><rect x="344.2" y="106.8" width="2.8" height="36.7" fill="#a8cbea"/><rect x="347.0" y="112.0" width="2.3" height="31.5" fill="#a8cbea"/><rect x="349.3" y="34.6" width="3.3" height="108.9" fill="#a8cbea"/><rect x="352.6" y="54.9" width="2.8" height="88.6" fill="#a8cbea"/><rect x="355.4" y="93.4" width="2.8" height="50.1" fill="#a8cbea"/><rect x="358.2" y="124.1" width="2.8" height="19.4" fill="#a8cbea"/><rect x="344.0" y="136.7" width="2.9" height="6.8" fill="#f2a486" opacity="0.85"/><rect x="346.9" y="133.3" width="2.9" height="10.2" fill="#f6bea6" opacity="0.85"/><rect x="349.7" y="131.2" width="2.9" height="12.3" fill="#f2a486" opacity="0.85"/><rect x="352.6" y="129.8" width="2.9" height="13.7" fill="#f6bea6" opacity="0.85"/><rect x="355.4" y="129.3" width="2.9" height="14.2" fill="#f2a486" opacity="0.85"/><rect x="358.3" y="126.6" width="2.9" height="16.9" fill="#f6bea6" opacity="0.85"/><rect x="361.1" y="126.0" width="2.9" height="17.5" fill="#f2a486" opacity="0.85"/><rect x="364.0" y="128.1" width="2.9" height="15.4" fill="#f6bea6" opacity="0.85"/><rect x="366.8" y="128.5" width="2.9" height="15.0" fill="#f2a486" opacity="0.85"/><rect x="369.7" y="124.3" width="2.9" height="19.2" fill="#f6bea6" opacity="0.85"/><rect x="372.5" y="127.1" width="2.9" height="16.4" fill="#f2a486" opacity="0.85"/><rect x="375.4" y="130.1" width="2.9" height="13.4" fill="#f6bea6" opacity="0.85"/><rect x="378.2" y="130.3" width="2.9" height="13.2" fill="#f2a486" opacity="0.85"/><rect x="381.1" y="129.3" width="2.9" height="14.2" fill="#f6bea6" opacity="0.85"/><rect x="383.9" y="130.9" width="2.9" height="12.6" fill="#f2a486" opacity="0.85"/><rect x="386.8" y="132.2" width="2.9" height="11.3" fill="#f6bea6" opacity="0.85"/><rect x="389.6" y="134.6" width="2.9" height="8.9" fill="#f2a486" opacity="0.85"/><rect x="392.5" y="135.3" width="2.9" height="8.2" fill="#f6bea6" opacity="0.85"/><rect x="395.3" y="135.7" width="2.9" height="7.8" fill="#f2a486" opacity="0.85"/><rect x="398.2" y="137.8" width="2.9" height="5.7" fill="#f6bea6" opacity="0.85"/><rect x="401.0" y="137.5" width="2.9" height="6.0" fill="#f2a486" opacity="0.85"/><rect x="403.9" y="138.6" width="2.9" height="4.9" fill="#f6bea6" opacity="0.85"/><rect x="406.7" y="138.3" width="2.9" height="5.2" fill="#f2a486" opacity="0.85"/><rect x="409.6" y="139.9" width="2.9" height="3.6" fill="#f6bea6" opacity="0.85"/><rect x="412.4" y="139.6" width="2.9" height="3.9" fill="#f2a486" opacity="0.85"/><rect x="415.3" y="139.9" width="2.9" height="3.6" fill="#f6bea6" opacity="0.85"/><rect x="418.1" y="140.8" width="2.9" height="2.7" fill="#f2a486" opacity="0.85"/><rect x="421.0" y="140.6" width="2.9" height="2.9" fill="#f6bea6" opacity="0.85"/><rect x="423.8" y="141.0" width="2.9" height="2.5" fill="#f2a486" opacity="0.85"/><path d="M345.2 137.7C345.8 136.6 347.2 133.1 348.7 131.0C350.2 128.9 352.1 126.6 354.0 125.2C355.9 123.8 358.6 122.9 360.3 122.4C362.0 122.0 362.8 122.1 364.4 122.5C366.0 122.9 368.1 123.6 370.2 124.6C372.3 125.5 374.2 126.8 377.2 128.2C380.2 129.6 385.1 131.6 388.4 132.9C391.7 134.2 394.2 135.3 397.1 136.3C400.0 137.3 402.7 138.2 405.7 139.0C408.7 139.8 412.9 140.6 415.3 141.1C417.7 141.6 419.2 142.0 420.0 142.2" stroke="#e1521a" stroke-width="2.8" fill="none" stroke-linecap="round"/><path d="M421 142.8 H470" stroke="#e1521a" stroke-width="1.6" stroke-dasharray="4 3" fill="none"/><path d="M380 143 H505" stroke="#2a3a5a" stroke-width="1" stroke-dasharray="2 3" fill="none" opacity="0.6"/><path d="M344.0 77.0C344.2 73.7 344.9 62.7 345.3 57.0C345.7 51.3 346.1 46.8 346.6 43.0C347.1 39.2 347.6 36.5 348.2 34.5C348.8 32.5 349.4 31.4 350.0 31.2C350.6 30.9 351.2 31.4 351.8 33.0C352.4 34.6 352.9 37.2 353.5 41.0C354.1 44.8 354.9 50.8 355.5 56.0C356.1 61.2 356.8 67.3 357.3 72.0C357.8 76.7 358.3 82.0 358.5 84.0" stroke="#1c5fa8" stroke-width="2.7" fill="none" stroke-linecap="round"/><path d="M342.9 103.0C343.1 98.7 343.6 84.7 344.0 77.0C344.4 69.3 345.1 60.3 345.3 57.0" stroke="#1c5fa8" stroke-width="2.5" fill="none" stroke-dasharray="5 1.2"/><path d="M357.3 72.0C357.5 74.0 357.8 78.5 358.5 84.0C359.2 89.5 360.6 99.3 361.5 105.0C362.4 110.7 363.0 114.2 363.8 118.0C364.6 121.8 365.4 124.8 366.2 127.5C367.0 130.2 367.6 132.1 368.5 134.0C369.4 135.9 370.3 137.6 371.4 139.0C372.5 140.4 373.7 141.5 374.9 142.2C376.1 142.9 377.8 143.1 378.4 143.3" stroke="#1c5fa8" stroke-width="2.3" fill="none" stroke-dasharray="4 1.6"/><path d="M328.5 13.5 V144.2" stroke="#1e1e1e" stroke-width="1.4"/><path d="M325.5 143.5 H328.5" stroke="#1e1e1e" stroke-width="1.1"/><text x="323.3" y="145.7" font-size="6.3" fill="#333" text-anchor="end" font-family='"Liberation Sans", sans-serif'>0</text><path d="M325.5 121.9 H328.5" stroke="#1e1e1e" stroke-width="1.1"/><text x="323.3" y="124.1" font-size="6.3" fill="#333" text-anchor="end" font-family='"Liberation Sans", sans-serif'>50</text><path d="M325.5 100.3 H328.5" stroke="#1e1e1e" stroke-width="1.1"/><text x="323.3" y="102.5" font-size="6.3" fill="#333" text-anchor="end" font-family='"Liberation Sans", sans-serif'>100</text><path d="M325.5 78.7 H328.5" stroke="#1e1e1e" stroke-width="1.1"/><text x="323.3" y="80.9" font-size="6.3" fill="#333" text-anchor="end" font-family='"Liberation Sans", sans-serif'>150</text><path d="M325.5 57.1 H328.5" stroke="#1e1e1e" stroke-width="1.1"/><text x="323.3" y="59.3" font-size="6.3" fill="#333" text-anchor="end" font-family='"Liberation Sans", sans-serif'>200</text><path d="M325.5 35.5 H328.5" stroke="#1e1e1e" stroke-width="1.1"/><text x="323.3" y="37.7" font-size="6.3" fill="#333" text-anchor="end" font-family='"Liberation Sans", sans-serif'>250</text><path d="M325.5 13.9 H328.5" stroke="#1e1e1e" stroke-width="1.1"/><text x="323.3" y="16.1" font-size="6.3" fill="#333" text-anchor="end" font-family='"Liberation Sans", sans-serif'>300</text><path d="M327.8 143.5 H509.5" stroke="#1e1e1e" stroke-width="1.4"/><path d="M328.5 143.5 V146.5" stroke="#1e1e1e" stroke-width="1.1"/><text x="328.5" y="155.5" font-size="6.3" fill="#333" text-anchor="middle" font-family='"Liberation Sans", sans-serif'>0</text><path d="M364.2 143.5 V146.5" stroke="#1e1e1e" stroke-width="1.1"/><text x="364.2" y="155.5" font-size="6.3" fill="#333" text-anchor="middle" font-family='"Liberation Sans", sans-serif'>100</text><path d="M399.9 143.5 V146.5" stroke="#1e1e1e" stroke-width="1.1"/><text x="399.9" y="155.5" font-size="6.3" fill="#333" text-anchor="middle" font-family='"Liberation Sans", sans-serif'>200</text><path d="M435.6 143.5 V146.5" stroke="#1e1e1e" stroke-width="1.1"/><text x="435.6" y="155.5" font-size="6.3" fill="#333" text-anchor="middle" font-family='"Liberation Sans", sans-serif'>300</text><path d="M471.3 143.5 V146.5" stroke="#1e1e1e" stroke-width="1.1"/><text x="471.3" y="155.5" font-size="6.3" fill="#333" text-anchor="middle" font-family='"Liberation Sans", sans-serif'>400</text><path d="M507.0 143.5 V146.5" stroke="#1e1e1e" stroke-width="1.1"/><text x="507.0" y="155.5" font-size="6.3" fill="#333" text-anchor="middle" font-family='"Liberation Sans", sans-serif'>500</text><text stroke="#111" stroke-width="0.25" transform="translate(305.8 78.8) rotate(-90)" font-size="7.2" fill="#111" text-anchor="middle" textLength="25.8" lengthAdjust="spacingAndGlyphs">Frequency</text><rect x="449" y="77.9" width="17" height="37.4" fill="#c3c3cb"/><rect x="476.7" y="55.5" width="17.2" height="59.8" fill="#6c7988"/><circle cx="451.5" cy="77.9" r="1.3" fill="#111"/><circle cx="457.5" cy="77.9" r="1.3" fill="#111"/><circle cx="463.5" cy="77.9" r="1.3" fill="#111"/><path d="M485.3 42.2 V68.9 M480.40000000000003 42.2 H490.2 M480.40000000000003 68.9 H490.2" stroke="#111" stroke-width="1"/><circle cx="485.3" cy="41.8" r="1.3" fill="#111"/><circle cx="485.3" cy="56.6" r="1.3" fill="#111"/><circle cx="485.3" cy="68.5" r="1.3" fill="#111"/><text x="485.3" y="39.6" font-size="6.5" fill="#222" text-anchor="middle">****</text><path d="M439 21 V116.0" stroke="#1e1e1e" stroke-width="1.4"/><path d="M436 115.3 H439" stroke="#1e1e1e" stroke-width="1.1"/><text x="434" y="117.5" font-size="6.2" fill="#333" text-anchor="end" font-family='"Liberation Sans", sans-serif'>0.0</text><path d="M436 96.6 H439" stroke="#1e1e1e" stroke-width="1.1"/><text x="434" y="98.8" font-size="6.2" fill="#333" text-anchor="end" font-family='"Liberation Sans", sans-serif'>0.5</text><path d="M436 77.9 H439" stroke="#1e1e1e" stroke-width="1.1"/><text x="434" y="80.1" font-size="6.2" fill="#333" text-anchor="end" font-family='"Liberation Sans", sans-serif'>1.0</text><path d="M436 59.2 H439" stroke="#1e1e1e" stroke-width="1.1"/><text x="434" y="61.4" font-size="6.2" fill="#333" text-anchor="end" font-family='"Liberation Sans", sans-serif'>1.5</text><path d="M436 40.5 H439" stroke="#1e1e1e" stroke-width="1.1"/><text x="434" y="42.7" font-size="6.2" fill="#333" text-anchor="end" font-family='"Liberation Sans", sans-serif'>2.0</text><path d="M436 21.8 H439" stroke="#1e1e1e" stroke-width="1.1"/><text x="434" y="24.0" font-size="6.2" fill="#333" text-anchor="end" font-family='"Liberation Sans", sans-serif'>2.5</text><path d="M438.3 115.3 H497" stroke="#1e1e1e" stroke-width="1.4"/><path d="M457.5 115.3 V117.8 M485.3 115.3 V117.8" stroke="#1e1e1e" stroke-width="0.9"/><text x="487" y="128.5" font-size="6.2" fill="#333" text-anchor="middle" font-family='"Liberation Sans", sans-serif'>10% 24h</text><path d="M328.8 177.5 V311.7" stroke="#1e1e1e" stroke-width="1.4"/><path d="M325.8 311.0 H328.8" stroke="#1e1e1e" stroke-width="1.1"/><text x="323.3" y="313.2" font-size="6.3" fill="#333" text-anchor="end" font-family='"Liberation Sans", sans-serif'>0</text><path d="M325.8 297.7 H328.8" stroke="#1e1e1e" stroke-width="1.1"/><text x="323.3" y="299.9" font-size="6.3" fill="#333" text-anchor="end" font-family='"Liberation Sans", sans-serif'>20</text><path d="M325.8 284.4 H328.8" stroke="#1e1e1e" stroke-width="1.1"/><text x="323.3" y="286.6" font-size="6.3" fill="#333" text-anchor="end" font-family='"Liberation Sans", sans-serif'>40</text><path d="M325.8 271.1 H328.8" stroke="#1e1e1e" stroke-width="1.1"/><text x="323.3" y="273.3" font-size="6.3" fill="#333" text-anchor="end" font-family='"Liberation Sans", sans-serif'>60</text><path d="M325.8 257.8 H328.8" stroke="#1e1e1e" stroke-width="1.1"/><text x="323.3" y="260.0" font-size="6.3" fill="#333" text-anchor="end" font-family='"Liberation Sans", sans-serif'>80</text><path d="M325.8 244.4 H328.8" stroke="#1e1e1e" stroke-width="1.1"/><text x="323.3" y="246.6" font-size="6.3" fill="#333" text-anchor="end" font-family='"Liberation Sans", sans-serif'>100</text><path d="M325.8 231.1 H328.8" stroke="#1e1e1e" stroke-width="1.1"/><text x="323.3" y="233.3" font-size="6.3" fill="#333" text-anchor="end" font-family='"Liberation Sans", sans-serif'>120</text><path d="M325.8 217.8 H328.8" stroke="#1e1e1e" stroke-width="1.1"/><text x="323.3" y="220.0" font-size="6.3" fill="#333" text-anchor="end" font-family='"Liberation Sans", sans-serif'>140</text><path d="M325.8 204.5 H328.8" stroke="#1e1e1e" stroke-width="1.1"/><text x="323.3" y="206.7" font-size="6.3" fill="#333" text-anchor="end" font-family='"Liberation Sans", sans-serif'>160</text><path d="M325.8 191.2 H328.8" stroke="#1e1e1e" stroke-width="1.1"/><text x="323.3" y="193.4" font-size="6.3" fill="#333" text-anchor="end" font-family='"Liberation Sans", sans-serif'>180</text><path d="M325.8 177.9 H328.8" stroke="#1e1e1e" stroke-width="1.1"/><text x="323.3" y="180.1" font-size="6.3" fill="#333" text-anchor="end" font-family='"Liberation Sans", sans-serif'>200</text><path d="M328.1 311.0 H509.5" stroke="#1e1e1e" stroke-width="1.4"/><path d="M328.8 311.0 V314.0" stroke="#1e1e1e" stroke-width="1.1"/><text x="328.8" y="322.7" font-size="6.3" fill="#333" text-anchor="middle" font-family='"Liberation Sans", sans-serif'>0</text><path d="M364.5 311.0 V314.0" stroke="#1e1e1e" stroke-width="1.1"/><text x="364.5" y="322.7" font-size="6.3" fill="#333" text-anchor="middle" font-family='"Liberation Sans", sans-serif'>100</text><path d="M400.2 311.0 V314.0" stroke="#1e1e1e" stroke-width="1.1"/><text x="400.2" y="322.7" font-size="6.3" fill="#333" text-anchor="middle" font-family='"Liberation Sans", sans-serif'>200</text><path d="M435.9 311.0 V314.0" stroke="#1e1e1e" stroke-width="1.1"/><text x="435.9" y="322.7" font-size="6.3" fill="#333" text-anchor="middle" font-family='"Liberation Sans", sans-serif'>300</text><path d="M471.6 311.0 V314.0" stroke="#1e1e1e" stroke-width="1.1"/><text x="471.6" y="322.7" font-size="6.3" fill="#333" text-anchor="middle" font-family='"Liberation Sans", sans-serif'>400</text><path d="M507.3 311.0 V314.0" stroke="#1e1e1e" stroke-width="1.1"/><text x="507.3" y="322.7" font-size="6.3" fill="#333" text-anchor="middle" font-family='"Liberation Sans", sans-serif'>500</text><text transform="translate(306.3 244.7) rotate(-90)" font-size="7.6" fill="#1a1a1a" text-anchor="middle" font-weight="bold" textLength="26.8" lengthAdjust="spacingAndGlyphs">TM I [AU]</text><rect x="449.2" y="185" width="5.7" height="5.4" fill="#1f63aa"/><rect x="449.2" y="195" width="5.7" height="5.4" fill="#e1541c"/><text x="457.5" y="190.1" font-size="6.2" fill="#222" textLength="26.6" lengthAdjust="spacingAndGlyphs">Unstretch</text><text x="457.5" y="200.1" font-size="6.2" fill="#222" textLength="46.6" lengthAdjust="spacingAndGlyphs">Stretch 10% 24h</text><path d="M344.6 282.9h0M345.0 284.1h0M350.6 252.0h0M347.7 302.5h0M345.6 287.3h0M344.9 295.3h0M355.1 265.2h0M348.5 292.9h0M348.8 290.3h0M345.3 298.7h0M348.9 293.8h0M348.4 278.1h0M357.2 263.3h0M344.6 277.5h0M353.6 296.2h0M343.6 268.1h0M345.4 298.1h0M351.1 300.2h0M347.0 285.1h0M349.0 283.8h0M346.0 296.6h0M352.9 287.5h0M348.1 275.9h0M348.9 301.8h0M344.7 289.2h0M348.1 285.9h0M352.4 273.2h0M348.4 297.8h0M349.5 292.5h0M346.6 259.4h0M355.1 275.7h0M345.5 300.4h0M347.3 295.7h0M344.0 294.6h0M353.3 299.1h0M345.5 290.4h0M349.2 272.2h0M345.9 270.8h0M345.8 301.1h0M349.9 299.0h0M353.7 250.1h0M344.7 288.1h0M350.2 294.3h0M349.9 294.8h0M344.6 279.7h0M347.0 285.0h0M359.1 279.2h0M348.3 285.1h0M348.4 282.5h0M343.5 294.5h0M349.2 288.4h0M345.1 282.5h0M345.4 300.2h0M349.0 269.3h0M344.7 291.1h0M346.4 297.1h0M350.6 296.0h0M349.1 299.4h0M344.5 297.7h0M344.3 297.2h0M347.1 301.1h0M349.0 274.5h0M344.4 294.6h0M344.4 294.8h0M344.5 285.5h0M358.7 301.2h0M352.7 284.3h0M345.7 302.0h0M344.8 285.0h0M357.4 303.7h0M347.0 298.2h0M346.8 300.5h0M345.9 270.0h0M344.7 296.4h0M344.3 294.8h0M348.1 292.5h0M349.7 298.5h0M350.0 288.6h0M346.3 286.9h0M346.6 293.5h0M344.4 290.7h0M344.5 290.3h0M350.4 299.7h0M352.1 287.4h0M348.5 304.0h0M346.6 288.5h0M346.4 288.9h0M346.6 277.3h0M356.8 291.8h0M345.2 304.4h0M350.5 267.0h0M344.5 301.4h0M358.1 295.2h0M349.7 301.1h0M351.3 282.0h0M344.2 271.2h0M349.2 300.0h0M343.6 297.9h0M354.5 277.7h0M349.0 277.3h0M343.4 297.7h0M345.4 291.3h0M358.9 297.5h0M349.5 290.1h0M346.0 293.6h0M344.2 296.0h0M346.6 300.3h0M349.5 296.4h0M349.4 294.5h0M356.3 302.6h0M353.6 294.4h0M348.2 280.5h0M355.0 281.8h0M347.2 292.3h0M349.9 299.1h0M347.8 278.2h0M349.6 293.2h0M344.6 300.2h0M351.1 304.5h0M348.1 296.8h0M348.1 280.0h0M345.2 302.8h0M345.6 291.4h0M350.0 296.9h0M346.3 256.4h0M351.3 302.3h0M345.7 287.8h0M359.3 291.6h0M345.7 286.0h0M350.0 294.7h0M352.3 302.6h0M349.7 300.2h0M350.4 273.9h0M353.9 296.6h0M349.7 295.5h0M367.9 295.4h0M352.1 272.3h0M350.0 301.3h0M345.5 298.4h0M349.5 282.9h0M343.6 292.1h0M345.8 272.1h0M346.9 273.4h0M345.0 292.0h0M347.0 300.8h0M355.1 281.4h0M344.3 302.1h0M357.8 292.7h0M345.7 285.5h0M351.5 293.9h0M353.7 299.3h0M348.7 302.7h0M344.5 296.1h0M351.8 296.4h0M347.4 284.6h0M345.3 294.5h0M361.0 298.5h0M346.6 288.0h0M353.0 280.2h0M344.1 297.1h0M347.7 300.8h0M350.0 297.9h0M347.6 289.7h0M345.2 272.6h0M346.9 283.8h0M346.8 289.0h0M346.3 293.8h0M348.4 290.9h0M349.0 291.0h0M353.1 303.2h0M349.3 289.8h0M344.0 289.0h0M351.1 276.1h0M349.3 293.2h0M346.2 293.9h0M344.8 282.9h0M353.3 296.7h0M345.0 305.5h0M353.0 291.4h0M347.6 299.0h0M344.9 297.0h0M346.0 296.1h0M349.9 293.7h0M348.9 292.8h0M348.6 283.5h0M346.1 301.0h0M360.8 283.2h0M348.7 292.2h0M346.9 297.9h0M353.6 267.2h0M344.7 295.7h0M350.8 294.4h0M344.7 292.6h0M345.1 298.8h0M347.3 276.2h0M349.2 299.8h0M351.7 279.4h0M349.4 300.8h0M347.1 274.8h0M349.7 281.2h0M357.3 292.3h0M355.7 288.9h0M351.2 300.5h0M350.6 299.4h0M344.6 296.6h0M348.8 299.3h0M346.1 296.1h0M353.3 266.9h0M352.1 290.0h0M347.2 291.4h0M352.0 268.5h0M354.6 298.0h0M355.0 299.6h0M347.9 302.1h0M347.7 250.2h0M349.7 304.7h0M349.7 289.1h0M355.2 297.7h0M346.2 289.2h0M346.9 289.1h0M347.2 269.3h0M345.4 291.5h0M346.5 296.4h0M354.6 295.4h0M347.2 300.7h0M352.7 288.1h0M349.7 286.1h0M344.9 285.3h0M347.5 297.4h0M352.0 280.5h0M348.6 285.3h0M353.2 299.1h0M350.7 264.2h0M364.4 281.1h0M351.6 302.6h0M350.4 295.2h0M348.3 295.9h0M353.4 285.0h0M347.9 275.4h0M344.7 297.5h0M349.3 301.3h0M346.9 291.6h0M345.4 281.6h0M347.2 295.1h0M345.8 299.1h0M345.6 297.7h0M347.4 298.3h0M343.7 277.6h0M349.4 292.8h0M349.7 271.1h0M344.4 305.1h0M347.5 272.5h0M350.4 302.9h0M348.4 266.4h0M344.1 275.1h0M348.1 289.7h0M346.7 297.5h0M347.8 300.1h0M344.7 298.2h0M346.3 302.1h0M359.1 296.7h0M348.3 296.4h0M346.2 295.8h0M349.6 277.3h0M343.8 280.0h0M345.7 294.5h0M351.9 278.1h0M347.0 295.7h0M348.8 293.1h0M348.0 295.0h0M351.2 278.8h0M344.4 300.6h0M345.4 298.5h0M347.2 294.9h0M346.8 302.6h0M349.4 298.3h0M356.1 298.2h0M346.5 289.9h0M353.2 297.4h0M345.6 271.9h0M345.8 296.4h0M347.1 300.4h0M346.3 294.7h0M345.7 301.2h0M343.4 300.4h0M345.1 295.2h0M353.1 291.6h0M345.2 264.6h0M350.6 271.4h0M344.4 270.4h0M355.2 288.4h0M350.1 295.6h0M350.9 304.0h0M350.0 297.5h0M344.0 279.3h0M355.9 275.4h0M344.3 302.9h0M350.1 302.8h0M351.7 302.0h0M354.5 268.6h0M348.4 304.8h0M344.9 302.8h0M347.7 292.2h0M349.6 290.6h0M344.1 292.6h0M348.0 260.4h0M347.9 282.4h0M346.1 302.8h0M347.8 286.8h0M347.1 294.6h0M345.7 298.1h0M349.1 296.6h0M348.0 297.2h0M345.6 297.9h0M348.0 300.3h0M345.9 267.7h0M345.3 281.9h0M346.3 291.2h0M346.7 299.2h0M350.5 303.3h0M348.6 288.7h0M348.7 297.9h0M348.4 292.7h0M349.9 288.8h0M347.7 283.2h0M346.6 262.0h0M348.3 302.5h0M347.4 267.6h0M347.4 291.2h0M349.6 289.4h0M350.8 293.7h0M350.9 297.6h0M348.0 296.7h0M346.1 288.0h0M353.4 300.5h0M349.6 288.8h0M353.1 298.7h0M355.9 295.8h0M361.9 299.6h0M353.9 296.6h0M343.7 294.1h0M346.8 267.9h0M345.9 303.9h0M347.5 282.0h0M350.8 290.2h0M351.7 280.0h0M346.7 296.0h0M345.4 297.5h0M344.8 302.6h0M345.6 302.1h0M346.2 304.8h0M344.3 297.8h0M345.8 301.1h0M346.4 273.7h0M348.5 295.9h0M349.1 283.7h0M345.2 300.9h0M350.6 299.8h0M350.3 302.2h0M346.2 292.7h0M349.5 300.8h0M347.8 295.3h0M346.7 274.3h0M346.2 296.5h0M348.0 291.3h0M346.1 302.9h0M346.7 292.4h0M352.9 301.3h0M345.1 303.3h0M349.0 289.9h0M345.2 267.2h0M344.7 295.8h0M345.7 286.9h0M344.2 299.5h0M351.3 273.7h0M348.8 284.0h0M348.3 294.6h0M344.9 296.5h0M345.4 291.6h0M349.9 299.6h0M347.4 301.1h0M345.3 291.9h0M354.6 300.1h0M348.6 272.6h0M347.5 279.8h0M344.8 290.6h0M347.3 282.2h0M354.8 302.1h0M356.0 301.0h0M348.0 292.5h0M350.1 304.3h0M350.5 296.1h0M345.4 297.9h0M347.3 298.1h0M346.9 299.3h0M347.3 281.9h0M347.9 293.2h0M346.6 301.3h0M346.3 289.0h0M350.9 290.3h0M356.9 298.3h0M347.1 286.3h0M348.0 295.5h0M347.2 279.5h0M343.2 297.0h0M354.8 294.9h0M352.4 282.6h0M349.2 283.3h0M347.5 305.0h0M344.0 296.8h0M343.5 288.8h0M349.3 295.7h0M351.5 296.6h0M352.7 279.4h0M344.8 300.9h0M347.6 294.4h0M355.0 298.4h0M344.7 287.2h0M344.5 283.3h0M347.2 300.1h0M343.7 290.9h0M345.7 305.3h0M349.8 289.7h0M345.6 302.7h0M355.3 281.1h0M344.8 290.0h0M356.0 285.9h0M346.1 302.0h0M361.3 266.8h0M349.2 258.6h0M344.3 283.3h0M354.3 293.3h0M346.5 292.8h0M344.8 278.6h0M344.8 293.2h0M356.5 301.1h0M351.5 294.2h0M347.7 286.4h0M347.6 265.4h0M344.6 262.0h0M345.0 288.2h0M345.9 295.6h0M348.4 300.8h0M345.8 297.3h0M346.4 294.4h0M358.7 293.1h0M347.6 286.8h0M346.7 294.0h0M353.5 293.8h0M347.1 293.2h0M345.5 282.6h0M348.9 301.3h0M350.1 292.0h0M350.7 263.9h0M354.4 288.3h0M350.4 303.1h0M345.3 289.7h0M348.7 286.7h0M344.8 290.5h0M344.7 279.3h0M345.7 304.3h0M346.5 303.2h0M346.5 298.6h0M345.1 289.6h0M348.1 287.6h0M344.7 297.6h0M353.8 294.1h0M347.7 285.1h0M344.1 290.4h0M344.5 265.4h0M351.1 286.0h0M344.6 300.0h0M353.1 290.6h0M343.9 275.9h0M347.6 294.1h0M349.2 277.6h0M348.9 296.4h0M347.7 285.4h0M344.4 297.3h0M344.6 301.3h0M348.8 298.5h0M346.6 297.0h0M344.1 273.9h0M355.3 300.7h0M353.0 297.9h0M353.6 289.6h0M346.6 284.0h0M344.3 299.6h0M343.5 291.4h0M347.4 286.0h0M345.6 281.9h0M348.2 258.9h0M346.6 303.7h0M348.3 293.8h0M359.1 286.3h0M343.6 290.2h0M346.8 294.9h0M356.8 301.9h0M347.6 292.3h0M350.7 278.9h0M346.2 300.6h0M346.2 296.6h0M348.0 300.8h0M353.2 301.4h0M347.5 273.6h0M347.8 297.9h0M347.8 299.8h0M349.3 289.4h0M353.9 275.8h0M355.3 291.1h0M346.6 294.9h0M349.9 297.3h0M347.3 292.3h0M345.3 272.8h0M344.9 290.7h0M344.9 287.1h0M348.7 299.6h0M345.0 298.8h0M347.4 298.0h0M347.6 303.2h0M353.6 302.3h0M350.1 263.6h0M346.6 279.9h0M346.2 277.6h0M352.5 282.8h0M343.9 283.1h0M345.1 300.6h0M347.6 283.9h0M347.5 304.0h0M350.2 291.6h0M355.0 292.2h0M349.1 297.4h0M343.5 292.6h0M343.6 287.8h0M345.2 274.7h0M354.1 292.1h0M354.3 279.6h0M351.9 297.1h0M346.2 290.1h0M355.1 296.4h0M346.6 300.8h0M345.4 302.1h0M345.2 292.7h0M352.4 303.7h0M348.2 288.2h0M352.8 286.3h0M358.6 294.2h0M344.8 303.3h0M349.2 292.7h0M351.7 301.4h0M347.4 301.9h0M352.7 291.6h0M347.8 286.2h0M347.5 277.6h0M345.9 304.5h0M349.0 290.0h0M347.3 276.4h0M348.0 282.3h0M343.9 295.8h0M346.8 299.5h0M351.8 304.5h0M353.3 283.8h0M347.5 301.6h0M352.4 302.3h0M346.7 284.1h0M346.6 301.2h0M348.4 303.2h0M353.0 282.5h0M350.5 276.7h0M348.4 263.9h0M345.1 261.9h0M344.0 282.4h0M344.7 296.3h0M348.1 299.2h0M343.8 291.8h0M345.4 299.4h0M349.8 297.3h0M345.4 301.5h0M347.0 302.7h0M346.4 299.6h0M357.0 258.8h0M349.8 304.2h0M346.3 292.6h0M344.4 301.9h0M347.5 292.5h0M354.8 296.7h0M353.4 291.0h0M346.6 282.2h0M347.5 293.9h0M352.5 298.3h0M347.3 294.4h0M347.7 301.7h0M344.6 288.2h0M348.9 294.8h0M353.0 290.8h0M359.4 268.3h0M348.6 302.2h0M343.9 291.3h0M348.7 295.3h0M345.8 293.4h0M349.8 296.8h0M344.2 284.9h0M352.4 295.9h0M346.9 297.6h0M346.1 291.4h0M348.4 302.8h0M346.5 276.8h0M348.4 277.6h0M356.0 294.2h0M345.6 271.2h0M350.2 291.6h0M344.6 274.2h0M347.9 299.3h0M357.9 290.0h0M346.2 299.8h0M346.6 291.8h0M352.0 272.3h0M348.4 303.7h0M344.6 288.8h0M346.2 300.5h0M347.4 294.6h0M345.7 277.3h0M352.4 294.7h0M352.6 304.0h0M353.7 298.3h0M352.6 301.6h0M347.0 291.8h0M347.5 289.6h0M348.5 283.0h0M355.5 297.6h0M348.7 302.8h0M344.1 295.6h0M351.6 285.8h0M350.6 286.4h0M343.8 305.3h0M346.8 253.6h0M353.6 285.2h0M344.6 288.6h0M344.5 294.1h0M345.3 287.7h0M344.9 301.6h0M349.6 282.0h0M346.4 303.7h0M348.2 301.4h0M347.4 189.2h0M346.7 224.5h0M347.7 233.1h0M348.4 239.8h0M349.9 217.2h0M358.8 217.2h0M377.0 243.1h0M424.5 222.5h0M440.2 237.1h0M498.4 263.1h0M424.5 271.1h0M410.9 269.7h0M446.6 294.4h0M349.1 247.8h0M350.9 244.4h0M345.9 251.1h0" stroke="#1f63aa" stroke-width="2.2" stroke-linecap="round" fill="none"/><path d="M358.4 294.7h0M354.2 273.0h0M379.4 296.4h0M353.9 291.8h0M376.2 304.3h0M359.6 302.8h0M349.7 303.0h0M364.4 287.2h0M357.3 285.7h0M353.5 297.1h0M374.1 291.4h0M346.8 292.7h0M369.9 298.6h0M373.2 298.5h0M353.7 304.7h0M359.9 302.6h0M349.0 285.9h0M386.1 276.1h0M359.1 300.8h0M368.2 293.8h0M364.0 277.3h0M361.8 289.5h0M364.5 304.3h0M350.7 302.9h0M373.8 296.4h0M370.3 303.7h0M400.6 297.8h0M370.7 283.5h0M349.8 289.7h0M362.8 283.1h0M379.0 291.2h0M394.4 299.5h0M354.4 287.8h0M369.8 294.4h0M383.5 305.7h0M402.0 298.7h0M364.7 295.9h0M372.2 301.2h0M352.6 287.9h0M362.9 291.8h0M378.5 288.4h0M360.9 301.2h0M435.9 292.5h0M360.2 285.1h0M359.8 305.7h0M442.5 303.0h0M421.6 304.5h0M404.1 282.6h0M384.4 286.7h0M352.4 297.6h0M363.5 281.8h0M397.5 298.3h0M376.3 287.2h0M393.5 300.5h0M360.9 288.2h0M365.3 294.7h0M355.1 299.2h0M381.5 288.7h0M382.0 298.4h0M361.6 288.7h0M384.7 289.7h0M370.5 298.7h0M373.5 305.0h0M371.0 300.4h0M376.2 299.9h0M357.1 298.4h0M361.5 281.1h0M380.4 291.8h0M381.5 294.3h0M379.2 302.2h0M406.0 289.8h0M353.8 305.9h0M372.8 287.2h0M377.6 301.1h0M363.9 299.3h0M365.1 303.9h0M404.9 283.7h0M354.0 303.6h0M414.2 304.0h0M369.3 293.6h0M355.5 294.1h0M361.3 302.1h0M349.6 291.6h0M394.5 294.7h0M355.3 305.0h0M347.3 300.3h0M353.8 288.2h0M376.7 302.3h0M397.6 297.1h0M368.3 289.4h0M363.3 291.5h0M364.0 293.2h0M425.0 304.9h0M350.0 302.2h0M420.9 295.1h0M376.3 306.2h0M362.5 291.1h0M351.6 300.1h0M420.0 300.8h0M409.7 297.8h0M354.6 290.4h0M353.3 295.4h0M385.7 306.0h0M365.6 303.8h0M375.2 292.4h0M386.0 300.7h0M417.6 299.5h0M396.0 301.3h0M386.3 292.2h0M355.0 295.2h0M353.4 288.2h0M377.6 304.7h0M351.5 303.2h0M405.4 288.7h0M424.7 302.3h0M396.2 304.2h0M365.8 281.8h0M347.5 301.5h0M349.0 301.5h0M352.1 299.0h0M383.3 301.0h0M375.3 303.9h0M401.5 305.9h0M371.0 299.8h0M363.1 301.2h0M360.8 301.3h0M375.6 303.3h0M361.9 296.2h0M370.2 289.7h0M412.6 297.3h0M360.6 294.4h0M351.5 277.0h0M366.9 298.3h0M352.3 303.5h0M378.0 296.9h0M368.4 282.9h0M408.2 299.6h0M366.8 296.0h0M365.0 273.7h0M357.0 281.8h0M382.6 296.4h0M402.7 302.4h0M377.1 295.7h0M372.4 306.5h0M371.6 300.1h0M419.1 295.5h0M356.2 303.6h0M399.6 304.6h0M381.1 288.2h0M364.3 301.4h0M365.2 301.7h0M383.2 283.9h0M409.0 292.1h0M380.0 300.9h0M381.7 298.6h0M367.2 300.1h0M348.2 299.3h0M381.1 282.9h0M356.4 296.5h0M368.6 300.2h0M365.4 291.2h0M348.7 303.3h0M405.4 300.3h0M350.3 299.2h0M387.3 269.5h0M375.3 286.1h0M346.4 300.7h0M372.3 295.4h0M375.8 290.8h0M368.8 301.4h0M386.9 304.5h0M371.5 306.3h0M371.6 304.0h0M386.2 288.2h0M370.2 289.8h0M354.6 294.7h0M349.0 301.5h0M379.7 302.7h0M367.8 284.7h0M350.4 305.1h0M449.5 298.6h0M367.3 303.2h0M351.3 297.3h0M364.2 292.1h0M357.9 301.8h0M430.2 298.5h0M413.8 299.1h0M354.5 297.3h0M356.6 303.8h0M411.1 305.5h0M406.4 299.3h0M356.3 299.6h0M371.6 295.9h0M351.2 294.9h0M361.9 285.1h0M355.1 303.1h0M400.8 298.2h0M452.4 282.5h0M414.4 302.7h0M364.5 303.3h0M358.4 304.8h0M357.8 300.7h0M366.1 297.8h0M370.0 296.3h0M351.9 305.4h0M426.7 289.4h0M354.6 289.3h0M365.3 273.6h0M349.8 294.5h0M402.5 298.0h0M372.7 289.9h0M356.8 305.5h0M424.1 282.3h0M375.8 304.4h0M349.0 297.5h0M386.5 279.1h0M383.8 291.5h0M403.2 296.7h0M372.1 291.6h0M373.0 281.7h0M355.5 284.5h0M376.3 304.5h0M400.6 285.7h0M388.0 298.7h0M367.2 304.6h0M473.1 304.8h0M366.4 301.6h0M348.9 306.0h0M394.3 300.4h0M365.6 295.9h0M357.0 300.9h0M404.0 282.5h0M356.0 294.2h0M466.2 300.0h0M400.7 287.4h0M362.2 301.4h0M347.2 292.6h0M352.9 287.0h0M395.8 296.5h0M393.7 291.2h0M369.8 295.6h0M359.2 304.1h0M364.4 268.7h0M350.9 301.5h0M396.1 302.4h0M426.8 301.2h0M364.3 303.5h0M354.3 300.9h0M476.9 299.0h0M357.9 301.4h0M357.7 299.1h0M360.7 294.5h0M359.9 295.8h0M359.3 293.0h0M383.0 299.7h0M360.4 284.8h0M351.5 287.5h0M358.3 293.2h0M353.5 298.1h0M354.3 302.5h0M351.9 302.4h0M363.1 299.3h0M385.9 298.6h0M392.5 297.1h0M396.2 296.7h0M353.9 287.3h0M372.5 304.3h0M365.6 295.0h0M351.5 284.4h0M360.0 297.2h0M355.5 303.4h0M347.8 302.8h0M358.1 293.0h0M372.2 303.9h0M354.7 295.4h0M385.9 300.6h0M385.7 295.2h0M422.7 298.9h0M381.3 303.9h0M377.9 297.8h0M358.1 293.7h0M355.2 296.9h0M404.7 294.3h0M373.0 302.9h0M347.8 288.8h0M366.5 287.7h0M365.4 294.8h0M377.8 300.0h0M398.4 287.8h0M363.6 294.4h0M360.9 291.4h0M355.6 301.6h0M371.3 291.7h0M386.8 281.4h0M368.2 298.5h0M382.0 289.1h0M378.9 287.5h0M359.5 282.0h0M381.3 302.6h0M379.1 298.6h0M408.0 298.9h0M357.2 295.0h0M408.3 302.0h0M366.1 304.6h0M373.5 289.5h0M386.9 279.8h0M385.1 301.9h0M389.4 301.8h0M410.5 295.0h0M374.4 285.7h0M368.7 303.8h0M356.6 274.5h0M444.4 302.8h0M383.2 296.8h0M388.5 284.2h0M366.3 303.5h0M361.7 295.9h0M349.4 298.4h0M397.9 306.1h0M353.6 296.9h0M404.8 288.7h0M388.7 286.6h0M350.3 298.9h0M371.2 291.2h0M380.0 291.4h0M368.5 304.7h0M387.8 302.1h0M376.7 291.5h0M363.9 304.6h0M349.6 305.8h0M364.1 296.1h0M374.0 305.7h0M392.9 279.1h0M384.0 303.0h0M405.2 306.3h0M405.5 304.3h0M433.6 291.8h0M362.9 301.3h0M360.8 296.7h0M432.4 302.6h0M359.9 303.5h0M362.3 297.2h0M363.2 303.2h0M361.0 300.3h0M380.7 291.9h0M396.0 297.5h0M347.3 279.1h0M356.7 300.6h0M356.0 299.4h0M366.2 301.0h0M400.2 299.2h0M357.8 301.3h0M386.7 284.2h0M359.0 293.4h0M346.6 298.1h0M416.4 306.1h0M358.3 282.5h0M369.0 289.0h0M352.7 293.7h0M368.2 302.1h0M367.8 298.9h0M353.2 302.9h0M352.0 304.8h0M384.0 290.7h0M366.6 302.8h0M357.2 300.5h0M411.6 296.0h0M361.5 287.0h0M380.9 304.5h0M390.4 292.8h0M356.2 287.4h0M364.1 293.6h0M415.2 296.5h0M426.4 291.1h0M369.4 300.1h0M350.4 291.1h0M357.1 304.2h0M392.8 303.0h0M387.5 302.6h0M359.0 293.9h0M378.7 297.0h0M369.6 301.0h0M385.1 301.1h0M371.4 291.2h0M352.4 304.5h0M356.8 292.4h0M361.7 293.8h0M384.0 295.3h0M350.9 293.4h0M364.5 305.9h0M355.5 304.1h0M388.8 297.1h0M367.8 293.0h0M355.0 284.3h0M398.2 294.2h0M350.7 299.6h0M401.2 296.9h0M376.2 281.9h0M410.0 302.8h0M351.2 302.6h0M352.9 300.6h0M381.2 284.1h0M489.4 290.9h0M359.3 288.0h0M469.8 290.8h0M394.9 302.6h0M351.9 301.9h0M390.9 302.8h0M360.9 302.4h0M371.5 283.8h0M358.4 305.4h0M354.6 301.0h0M433.4 302.5h0M380.1 299.7h0M364.2 291.1h0M388.4 304.1h0M354.7 303.9h0M355.0 301.3h0M377.9 295.8h0M355.8 292.6h0M448.7 289.0h0M356.1 291.9h0M372.9 302.8h0M402.4 302.7h0M407.3 290.5h0M401.4 298.6h0M386.6 305.5h0M389.2 296.5h0M358.0 296.6h0M424.8 291.2h0M361.4 294.0h0M349.2 283.9h0M384.9 286.4h0M359.9 291.2h0M361.9 297.4h0M352.3 298.6h0M370.5 299.9h0M350.9 295.3h0M365.2 303.5h0M362.4 288.4h0M368.3 302.1h0M375.3 300.4h0M357.0 294.5h0M351.4 291.1h0M360.4 298.4h0M351.8 301.5h0M363.8 295.8h0M349.9 288.5h0M373.3 285.2h0M356.3 289.3h0M368.2 305.2h0M366.8 304.7h0M362.6 301.9h0M366.4 300.6h0M363.1 289.0h0M355.4 300.1h0M366.5 285.4h0M356.3 298.6h0M435.6 274.3h0M381.4 297.6h0M369.6 302.9h0M352.4 305.5h0M377.3 303.6h0M354.0 304.8h0M351.2 300.3h0M382.8 300.2h0M372.4 276.0h0M353.1 303.0h0M367.6 302.4h0M401.4 304.5h0M355.6 292.4h0M438.9 296.9h0M369.1 304.5h0M350.6 288.1h0M359.2 299.0h0M354.9 295.6h0M372.6 298.1h0M353.2 275.9h0M352.5 289.0h0M360.2 298.6h0M411.1 298.5h0M363.7 305.6h0M406.8 302.7h0M380.8 298.7h0M362.5 293.6h0M373.5 301.3h0M370.0 295.5h0M394.5 291.3h0M347.7 285.7h0M361.0 287.1h0M357.1 278.6h0M404.4 301.6h0M364.9 291.7h0M382.3 300.5h0M371.5 298.8h0M361.6 295.8h0M375.8 291.7h0M412.9 295.6h0M357.1 305.7h0M379.0 293.8h0M348.8 303.6h0M381.5 303.1h0M360.0 290.2h0M365.2 295.2h0M369.3 303.7h0M397.2 305.0h0M359.3 305.9h0M371.5 285.7h0M369.6 294.0h0M371.0 299.6h0M362.2 303.4h0M372.1 286.9h0M392.1 293.7h0M361.4 303.5h0M373.4 302.0h0M353.3 303.2h0M347.4 284.0h0M416.5 300.7h0M396.5 286.2h0M363.2 287.4h0M351.2 297.8h0M395.8 300.0h0M360.5 301.7h0M391.4 294.8h0M381.3 301.7h0M352.3 301.1h0M407.6 290.8h0M373.3 303.3h0M371.8 298.1h0M363.4 284.2h0M387.5 302.7h0M399.6 295.5h0M409.3 301.8h0M388.1 293.8h0M379.0 297.3h0M363.6 301.7h0M351.2 302.9h0M360.7 301.9h0M365.7 299.3h0M357.9 279.4h0M371.0 304.9h0M360.9 301.0h0M351.8 301.8h0M365.7 291.4h0M389.3 301.2h0M356.6 295.0h0M349.1 288.0h0M382.9 297.0h0M442.7 304.6h0M347.7 295.3h0M358.3 297.0h0M367.3 286.7h0M358.8 293.2h0M391.1 304.8h0M394.2 293.0h0M387.3 296.1h0M360.9 303.7h0M361.4 297.9h0M426.4 302.4h0M354.9 287.9h0M363.5 300.9h0M403.6 299.9h0M417.7 290.0h0M380.1 305.7h0M406.4 290.1h0M368.5 299.4h0M374.5 301.0h0M390.9 281.5h0M389.6 295.2h0M387.5 303.6h0M347.5 296.9h0M360.7 303.7h0M350.0 290.7h0M367.3 287.8h0M417.9 304.6h0M369.1 279.7h0M354.0 287.9h0M435.2 305.5h0M353.0 300.2h0M372.7 287.0h0M371.9 297.2h0M390.3 305.8h0M378.3 293.2h0M374.1 291.1h0M375.4 280.3h0M363.8 298.6h0M351.3 292.9h0M374.9 291.4h0M380.2 292.6h0M360.6 300.8h0M361.7 304.5h0M363.0 300.8h0M373.0 305.6h0M380.7 298.0h0M407.7 293.3h0M369.7 286.8h0M388.4 302.2h0M352.2 305.5h0M352.3 299.6h0M354.9 304.1h0M400.9 296.7h0M364.0 305.1h0M469.4 303.1h0M349.0 302.5h0M358.3 300.3h0M381.6 300.2h0M364.0 284.8h0M413.1 290.7h0M355.9 295.5h0M392.0 297.4h0M360.0 293.8h0M372.5 294.3h0M359.0 304.9h0M366.3 297.4h0M380.1 294.7h0M377.7 304.0h0M352.1 304.5h0M349.0 302.5h0M366.2 293.8h0M349.1 301.6h0M395.5 303.4h0M364.1 290.3h0M357.7 301.0h0M392.9 303.3h0M349.2 300.2h0M365.3 296.9h0M371.8 289.1h0M390.4 306.2h0M374.4 295.2h0M351.3 297.1h0M386.2 298.2h0M348.4 303.7h0M353.9 285.8h0M387.8 297.8h0M377.8 306.3h0M356.1 296.9h0M383.7 273.5h0M368.2 293.5h0M381.1 302.0h0M356.2 292.9h0M364.2 293.8h0M357.9 299.9h0M389.3 287.7h0M354.1 299.5h0M406.0 279.2h0M352.3 274.6h0M373.8 299.8h0M362.5 285.7h0M374.3 297.8h0M368.7 298.5h0M378.5 292.4h0M378.6 262.1h0M356.9 304.2h0M417.8 301.4h0M360.6 300.8h0M362.1 296.5h0M362.4 287.1h0M365.8 304.7h0M365.8 287.7h0M358.5 297.2h0M362.6 300.7h0M382.9 303.1h0M416.4 293.6h0M360.2 300.9h0M364.9 304.9h0M409.2 296.5h0M352.1 304.4h0M369.5 281.3h0M418.9 299.5h0M349.6 299.5h0M364.1 281.2h0M389.7 295.3h0M360.9 300.8h0M367.3 298.4h0M356.8 296.5h0M366.8 301.0h0M348.1 296.9h0M358.9 303.0h0M398.9 295.5h0M365.1 304.7h0M369.9 284.6h0M371.1 285.3h0M366.2 297.8h0M375.1 273.8h0M350.1 292.3h0M399.9 298.1h0M350.5 300.3h0M352.4 303.5h0M349.1 299.1h0M380.3 300.6h0M453.3 262.0h0M364.5 293.5h0M374.4 287.3h0M386.6 296.4h0M360.6 298.8h0M370.1 304.6h0M371.5 295.3h0M352.4 300.0h0M381.9 299.3h0M378.6 301.2h0M381.5 263.0h0M448.7 300.0h0M354.6 297.0h0M357.7 295.5h0M438.1 294.8h0M389.1 302.9h0M385.8 299.2h0M353.3 299.2h0M367.6 291.9h0M361.1 305.2h0M348.1 294.1h0M363.4 300.5h0M382.6 301.1h0M348.2 294.1h0M389.9 300.3h0M356.3 302.4h0M402.9 301.2h0M382.0 285.6h0M358.6 292.6h0M372.1 305.4h0M354.2 278.7h0M367.1 296.7h0M398.8 298.1h0M462.6 300.0h0M370.7 289.4h0M365.0 302.8h0M350.7 295.1h0M371.6 299.4h0M360.1 287.6h0M359.5 303.5h0M390.6 298.0h0M406.2 300.7h0M353.9 305.1h0M432.7 297.4h0M355.0 296.0h0M352.0 297.7h0M393.2 286.9h0M358.9 302.4h0M375.2 297.5h0M375.7 305.6h0M352.8 303.1h0M350.0 292.7h0M359.6 298.7h0M360.4 295.0h0M388.5 300.8h0M386.8 300.8h0M374.5 283.0h0M401.4 293.0h0M364.3 294.4h0M411.0 289.3h0M402.2 281.9h0M368.4 289.0h0M394.4 304.1h0M375.3 294.9h0M369.0 286.6h0M357.6 302.2h0M382.4 295.4h0M361.0 279.8h0M366.3 298.9h0M370.9 299.9h0M377.0 296.2h0M391.0 297.2h0M371.6 291.0h0M352.6 293.8h0M373.2 304.7h0M357.2 299.2h0M364.1 288.5h0M355.6 303.2h0M356.7 298.7h0M402.5 290.7h0M355.0 291.8h0M410.3 299.2h0M356.1 292.1h0M352.1 297.0h0M364.4 287.4h0M382.2 298.4h0M389.2 298.1h0M346.4 283.5h0M368.8 294.0h0M384.0 298.3h0M393.7 295.9h0M367.4 301.4h0M358.5 291.5h0M460.7 296.4h0M425.5 301.1h0M360.4 302.5h0M356.1 293.7h0M416.8 271.5h0M353.4 290.4h0M348.6 301.0h0M357.0 287.9h0M357.3 297.4h0M391.9 305.3h0M382.3 303.4h0M387.4 286.2h0M358.7 300.4h0M378.5 298.6h0M357.2 264.7h0M359.6 282.2h0M380.3 297.1h0M372.8 286.0h0M360.0 298.4h0M354.3 292.0h0M396.2 302.4h0M370.9 280.6h0M429.4 298.7h0M384.3 299.5h0M363.0 305.8h0M400.6 266.0h0M361.4 287.4h0M383.1 291.3h0M353.5 301.2h0M352.4 302.7h0M375.9 305.8h0M371.2 286.5h0M380.6 302.8h0M367.0 303.5h0M358.1 298.7h0M396.4 301.5h0M349.4 296.2h0M442.7 302.4h0M410.8 292.4h0M361.0 297.5h0M373.1 304.3h0M350.7 301.0h0M352.0 296.9h0M356.4 296.3h0M384.5 271.3h0M389.7 298.6h0M360.0 286.8h0M370.8 287.6h0M352.3 301.4h0M354.6 303.6h0M360.4 300.4h0M365.5 288.4h0M349.5 304.6h0M368.6 305.1h0M357.9 290.3h0M364.3 301.0h0M360.3 300.8h0M410.0 278.9h0M379.0 298.5h0M350.8 292.5h0M363.7 291.5h0M360.3 284.1h0M385.4 293.8h0M387.2 303.6h0M365.5 300.9h0M356.2 282.3h0M373.9 299.5h0M370.3 297.2h0M376.5 296.6h0M349.6 295.7h0M365.1 276.8h0M364.6 295.0h0M370.4 274.7h0M354.7 284.9h0M362.4 301.3h0M355.1 303.6h0M354.9 288.7h0M366.2 297.1h0M350.8 304.0h0M351.8 286.8h0M371.6 303.7h0M348.2 297.1h0M362.8 295.1h0M351.8 301.7h0M401.8 294.3h0M363.4 298.3h0M392.4 280.5h0M360.0 292.0h0M384.6 302.3h0M352.7 300.0h0M379.2 303.3h0M440.9 292.8h0M399.4 302.1h0M355.3 284.0h0M384.7 302.4h0M392.0 300.5h0M355.2 296.2h0M352.0 306.4h0M391.4 305.9h0M364.7 288.1h0M380.1 301.1h0M362.1 303.9h0M364.5 305.4h0M363.8 294.9h0M359.5 302.9h0M375.0 303.2h0M427.0 267.6h0M357.4 300.9h0M351.1 303.8h0M432.1 305.3h0M430.7 274.4h0M373.8 298.7h0M366.4 301.5h0M355.4 295.6h0M350.4 305.2h0M352.6 301.2h0M409.0 276.7h0M418.3 300.6h0M361.5 302.4h0M353.3 295.0h0M435.2 294.1h0M373.3 297.3h0M399.9 305.6h0M398.5 293.2h0M356.8 306.0h0M353.1 297.0h0M372.0 304.7h0M357.1 303.3h0M374.6 299.6h0M383.0 292.0h0M426.1 286.5h0M424.9 305.0h0M354.0 295.7h0M393.1 282.7h0M376.7 289.9h0M474.0 297.1h0M377.5 276.3h0M383.6 288.3h0M376.5 296.9h0M385.2 298.1h0M416.0 297.1h0M370.1 289.8h0M385.3 297.6h0M362.4 297.4h0M364.9 300.5h0M358.5 299.5h0M366.6 291.4h0M364.2 301.7h0M380.7 305.0h0M368.4 290.0h0M391.6 294.4h0M397.2 302.7h0M350.2 303.0h0M360.4 295.4h0M370.8 281.4h0M369.9 287.3h0M392.8 291.8h0M358.1 300.8h0M371.0 295.9h0M348.6 302.9h0M380.8 294.7h0M352.2 269.3h0M352.8 292.7h0M371.8 305.4h0M376.2 300.8h0M367.2 304.1h0M388.9 298.2h0M357.5 298.8h0M368.4 295.0h0M349.5 302.7h0M367.5 285.6h0M359.9 304.5h0M395.7 303.6h0M362.1 289.8h0M377.9 288.1h0M362.3 292.2h0M349.9 304.8h0M350.8 305.0h0M369.3 303.1h0M431.5 301.7h0M387.6 300.7h0M354.1 292.1h0M355.2 302.5h0M384.5 304.8h0M373.3 288.6h0M379.9 293.4h0M372.1 287.4h0M354.2 303.2h0M347.3 299.3h0M367.8 285.4h0M366.2 297.3h0M348.4 304.0h0M373.7 276.1h0M378.6 284.9h0M363.5 284.9h0M388.2 301.7h0M370.8 291.9h0M355.3 306.4h0M385.5 288.6h0M366.5 297.9h0M377.8 297.9h0M346.3 285.4h0M361.5 304.5h0M383.9 290.4h0M370.2 287.2h0M355.7 302.0h0M368.2 298.7h0M379.9 289.7h0M363.3 296.3h0M420.1 282.9h0M394.0 296.0h0M359.4 296.7h0M397.4 296.0h0M364.5 304.1h0M461.4 299.6h0M349.8 293.1h0M438.5 304.5h0M358.7 297.2h0M361.9 301.2h0M356.7 276.1h0M431.0 303.6h0M401.2 300.7h0M363.4 287.4h0M386.3 298.8h0M395.3 289.8h0M387.4 270.0h0M398.1 274.5h0M363.4 299.2h0M364.8 289.4h0M381.0 294.2h0M374.4 306.3h0M411.3 295.4h0M357.0 284.9h0M374.4 305.7h0M365.1 288.9h0M367.6 286.3h0M362.6 299.4h0M377.5 297.6h0M360.9 278.4h0M403.2 296.7h0M353.9 283.3h0M385.8 303.6h0M366.3 291.6h0M392.9 300.7h0M398.4 290.2h0M378.5 303.0h0M392.5 306.3h0M368.0 299.9h0M364.7 297.6h0M428.9 288.2h0M405.8 303.8h0M371.5 289.3h0M411.9 294.3h0M358.2 296.8h0M355.6 293.3h0M347.4 298.9h0M379.3 300.2h0M357.8 300.7h0M373.3 304.1h0M386.8 300.9h0M363.6 293.6h0M387.6 293.5h0M358.3 281.4h0M357.8 297.7h0M413.7 288.2h0M369.0 304.0h0M374.1 290.1h0M373.8 254.8h0M356.4 265.7h0M402.2 275.6h0M384.7 257.5h0M356.1 270.4h0M371.1 254.7h0M355.5 274.8h0M381.3 274.0h0M380.3 275.3h0M362.4 260.2h0M372.1 274.0h0M390.4 276.5h0M364.6 264.1h0M349.3 252.4h0M385.9 252.3h0M371.7 241.2h0M392.1 265.8h0M370.9 268.2h0M409.1 248.6h0M360.1 264.9h0M349.4 264.8h0M364.4 256.4h0M376.5 265.9h0M362.7 263.4h0M402.5 271.2h0M386.4 244.3h0M361.1 276.4h0M348.9 274.7h0M379.6 262.6h0M354.9 258.9h0M352.1 274.4h0M367.5 274.5h0M373.0 242.0h0M391.0 261.0h0M371.7 270.2h0M399.7 257.3h0M380.4 241.3h0M399.5 247.0h0M424.9 244.0h0M370.2 264.7h0M375.7 246.5h0M353.1 262.8h0M405.0 275.5h0M354.2 258.9h0M410.2 205.9h0M352.0 214.5h0M353.8 217.8h0M359.1 231.1h0M418.1 221.2h0M478.7 279.7h0M498.4 291.0h0M471.6 289.0h0M453.8 289.7h0M412.7 212.5h0M350.2 231.1h0M377.0 232.5h0M391.3 239.1h0M435.9 249.1h0M432.3 256.4h0M450.2 289.0h0M457.3 291.0h0M468.0 292.4h0M485.9 296.4h0" stroke="#e1541c" stroke-width="2.2" stroke-linecap="round" fill="none"/><path d="M328.8 345.5 V483.7" stroke="#1e1e1e" stroke-width="1.4"/><path d="M325.8 483.0 H328.8" stroke="#1e1e1e" stroke-width="1.1"/><text x="323.3" y="485.2" font-size="6.3" fill="#333" text-anchor="end" font-family='"Liberation Sans", sans-serif'>0</text><path d="M325.8 469.3 H328.8" stroke="#1e1e1e" stroke-width="1.1"/><text x="323.3" y="471.5" font-size="6.3" fill="#333" text-anchor="end" font-family='"Liberation Sans", sans-serif'>200</text><path d="M325.8 455.6 H328.8" stroke="#1e1e1e" stroke-width="1.1"/><text x="323.3" y="457.8" font-size="6.3" fill="#333" text-anchor="end" font-family='"Liberation Sans", sans-serif'>400</text><path d="M325.8 441.8 H328.8" stroke="#1e1e1e" stroke-width="1.1"/><text x="323.3" y="444.0" font-size="6.3" fill="#333" text-anchor="end" font-family='"Liberation Sans", sans-serif'>600</text><path d="M325.8 428.1 H328.8" stroke="#1e1e1e" stroke-width="1.1"/><text x="323.3" y="430.3" font-size="6.3" fill="#333" text-anchor="end" font-family='"Liberation Sans", sans-serif'>800</text><path d="M325.8 414.4 H328.8" stroke="#1e1e1e" stroke-width="1.1"/><text x="323.3" y="416.6" font-size="6.3" fill="#333" text-anchor="end" font-family='"Liberation Sans", sans-serif'>1000</text><path d="M325.8 400.7 H328.8" stroke="#1e1e1e" stroke-width="1.1"/><text x="323.3" y="402.9" font-size="6.3" fill="#333" text-anchor="end" font-family='"Liberation Sans", sans-serif'>1200</text><path d="M325.8 387.0 H328.8" stroke="#1e1e1e" stroke-width="1.1"/><text x="323.3" y="389.2" font-size="6.3" fill="#333" text-anchor="end" font-family='"Liberation Sans", sans-serif'>1400</text><path d="M325.8 373.2 H328.8" stroke="#1e1e1e" stroke-width="1.1"/><text x="323.3" y="375.4" font-size="6.3" fill="#333" text-anchor="end" font-family='"Liberation Sans", sans-serif'>1600</text><path d="M325.8 359.5 H328.8" stroke="#1e1e1e" stroke-width="1.1"/><text x="323.3" y="361.7" font-size="6.3" fill="#333" text-anchor="end" font-family='"Liberation Sans", sans-serif'>1800</text><path d="M325.8 345.8 H328.8" stroke="#1e1e1e" stroke-width="1.1"/><text x="323.3" y="348.0" font-size="6.3" fill="#333" text-anchor="end" font-family='"Liberation Sans", sans-serif'>2000</text><path d="M328.1 483.0 H509.5" stroke="#1e1e1e" stroke-width="1.4"/><path d="M328.8 483.0 V486.0" stroke="#1e1e1e" stroke-width="1.1"/><text x="328.8" y="494.6" font-size="6.3" fill="#333" text-anchor="middle" font-family='"Liberation Sans", sans-serif'>0</text><path d="M364.5 483.0 V486.0" stroke="#1e1e1e" stroke-width="1.1"/><text x="364.5" y="494.6" font-size="6.3" fill="#333" text-anchor="middle" font-family='"Liberation Sans", sans-serif'>100</text><path d="M400.2 483.0 V486.0" stroke="#1e1e1e" stroke-width="1.1"/><text x="400.2" y="494.6" font-size="6.3" fill="#333" text-anchor="middle" font-family='"Liberation Sans", sans-serif'>200</text><path d="M435.9 483.0 V486.0" stroke="#1e1e1e" stroke-width="1.1"/><text x="435.9" y="494.6" font-size="6.3" fill="#333" text-anchor="middle" font-family='"Liberation Sans", sans-serif'>300</text><path d="M471.6 483.0 V486.0" stroke="#1e1e1e" stroke-width="1.1"/><text x="471.6" y="494.6" font-size="6.3" fill="#333" text-anchor="middle" font-family='"Liberation Sans", sans-serif'>400</text><path d="M507.3 483.0 V486.0" stroke="#1e1e1e" stroke-width="1.1"/><text x="507.3" y="494.6" font-size="6.3" fill="#333" text-anchor="middle" font-family='"Liberation Sans", sans-serif'>500</text><text transform="translate(304.2 416.5) rotate(-90)" font-size="7" fill="#1a1a1a" text-anchor="middle" font-weight="bold" textLength="56.8" lengthAdjust="spacingAndGlyphs">VE cadherins I [A.U]</text><text x="419.7" y="506.9" font-size="8" fill="#1a1a1a" text-anchor="middle" font-weight="bold" textLength="67.4" lengthAdjust="spacingAndGlyphs">Histone "H3K27Ac" I [A.U]</text><path d="M348.2 473.8h0M347.9 471.0h0M343.5 481.2h0M357.5 480.5h0M345.2 481.1h0M347.6 465.4h0M349.8 479.8h0M346.3 473.0h0M346.9 475.4h0M349.5 478.9h0M343.6 473.9h0M347.3 473.0h0M349.1 477.4h0M353.6 465.2h0M349.1 478.2h0M344.9 482.0h0M348.6 480.4h0M346.2 479.7h0M345.5 460.5h0M354.3 479.9h0M346.7 476.0h0M351.8 468.3h0M348.1 461.7h0M344.5 475.1h0M344.2 477.8h0M346.6 467.9h0M349.0 478.4h0M352.9 464.3h0M343.4 481.1h0M344.1 468.2h0M347.1 482.5h0M354.4 477.9h0M351.0 475.0h0M348.3 480.7h0M351.6 471.1h0M347.4 474.6h0M346.0 478.2h0M349.1 479.1h0M348.0 476.7h0M349.4 479.8h0M347.5 477.5h0M346.0 468.1h0M346.7 479.8h0M343.5 479.8h0M346.5 458.9h0M355.5 480.4h0M345.9 474.1h0M346.3 474.0h0M346.9 482.1h0M347.7 463.5h0M346.0 479.5h0M346.8 474.4h0M349.3 472.8h0M352.2 475.8h0M346.0 474.7h0M343.9 478.6h0M346.7 475.2h0M349.7 481.7h0M345.6 466.3h0M343.9 477.5h0M350.5 471.5h0M346.5 471.6h0M353.7 479.3h0M350.5 479.4h0M345.3 478.1h0M349.3 477.1h0M349.6 476.9h0M355.0 481.3h0M345.6 470.2h0M345.7 479.5h0M344.2 470.3h0M344.2 470.9h0M352.3 478.7h0M359.4 467.5h0M345.3 476.9h0M349.5 477.2h0M352.7 481.3h0M348.6 481.2h0M345.2 475.9h0M347.1 474.9h0M355.7 480.3h0M346.2 477.9h0M350.6 468.7h0M344.6 482.1h0M358.4 480.2h0M349.1 479.5h0M345.9 475.0h0M347.1 475.1h0M345.3 468.2h0M353.2 475.7h0M345.5 475.0h0M343.7 480.6h0M351.3 481.2h0M349.4 481.1h0M350.5 479.1h0M355.7 470.4h0M344.5 478.1h0M344.2 477.9h0M347.6 475.4h0M346.7 475.9h0M345.1 480.6h0M346.9 478.0h0M343.5 477.8h0M344.1 473.6h0M349.9 470.5h0M348.8 478.9h0M350.7 482.2h0M349.8 476.1h0M347.7 476.1h0M345.8 481.2h0M349.3 464.9h0M360.6 473.5h0M350.1 480.7h0M344.1 474.4h0M350.3 472.2h0M348.2 479.6h0M349.2 479.9h0M348.0 478.9h0M345.6 457.4h0M347.5 479.0h0M355.3 482.5h0M345.7 472.5h0M347.9 466.4h0M353.6 482.5h0M347.6 478.1h0M345.7 475.8h0M344.9 472.7h0M351.7 476.7h0M346.8 473.5h0M346.9 477.3h0M345.0 480.8h0M349.2 480.8h0M349.2 479.0h0M344.8 481.4h0M350.2 473.2h0M353.4 479.1h0M346.6 470.0h0M350.5 481.5h0M349.9 482.8h0M349.3 477.5h0M343.7 473.2h0M346.5 470.0h0M345.6 474.5h0M349.8 476.2h0M346.8 479.3h0M344.7 481.8h0M343.6 473.5h0M355.4 475.4h0M345.2 480.9h0M346.4 477.8h0M343.3 480.7h0M343.7 475.6h0M358.5 470.7h0M344.1 477.3h0M345.2 478.3h0M350.7 474.1h0M345.4 482.7h0M348.6 474.1h0M343.9 471.7h0M351.9 474.4h0M347.3 472.1h0M345.2 473.9h0M347.3 482.9h0M345.6 467.7h0M351.5 469.0h0M345.8 476.5h0M345.6 461.8h0M348.2 460.4h0M349.1 473.4h0M364.5 479.3h0M346.5 482.5h0M347.9 474.7h0M352.2 469.5h0M343.7 481.1h0M349.5 479.5h0M346.2 475.2h0M347.7 468.4h0M351.6 479.6h0M353.3 457.8h0M348.2 474.2h0M353.0 473.9h0M349.2 479.4h0M354.5 465.5h0M346.7 479.5h0M345.2 471.0h0M346.0 482.5h0M346.5 479.2h0M355.5 479.1h0M348.3 475.1h0M352.4 479.2h0M345.6 478.6h0M348.5 480.8h0M351.9 479.4h0M347.1 471.5h0M345.3 473.4h0M344.7 479.9h0M345.7 478.3h0M348.0 477.0h0M349.1 476.9h0M349.7 481.7h0M352.8 458.2h0M348.6 470.5h0M343.5 467.7h0M346.8 476.3h0M344.8 472.6h0M356.2 474.6h0M352.2 475.1h0M343.5 481.5h0M348.2 477.2h0M346.4 477.9h0M348.0 482.0h0M349.2 478.6h0M346.1 469.8h0M346.4 477.4h0M351.4 480.8h0M348.2 481.4h0M352.3 476.7h0M350.3 477.9h0M354.5 476.5h0M345.1 467.7h0M345.3 473.0h0M358.0 468.8h0M346.7 467.7h0M345.8 468.8h0M345.7 479.8h0M349.2 480.2h0M348.4 475.4h0M345.5 471.6h0M349.4 473.3h0M344.6 481.3h0M347.3 470.1h0M348.8 474.6h0M354.1 470.4h0M352.9 471.8h0M347.8 467.3h0M350.7 480.8h0M349.3 474.8h0M347.7 473.3h0M351.7 471.3h0M344.3 478.3h0M352.7 477.5h0M344.6 464.9h0M349.6 481.7h0M348.7 476.7h0M351.7 474.2h0M350.2 482.7h0M343.5 479.8h0M349.3 476.6h0M345.1 482.6h0M346.5 472.6h0M346.1 475.6h0M351.5 479.4h0M352.7 472.9h0M349.7 481.5h0M343.8 476.5h0M346.3 473.7h0M346.7 472.0h0M351.7 482.6h0M343.7 472.6h0M348.5 477.1h0M347.3 457.6h0M344.4 471.9h0M352.7 480.1h0M355.0 476.6h0M346.6 470.3h0M351.5 473.5h0M353.8 479.1h0M346.2 481.1h0M349.3 464.7h0M346.2 477.1h0M351.4 465.4h0M348.3 476.4h0M353.8 480.2h0M346.4 478.5h0M352.2 458.7h0M347.5 471.8h0M346.2 480.8h0M345.8 479.7h0M346.4 474.8h0M350.6 476.4h0M346.2 478.0h0M348.8 480.6h0M345.7 460.9h0M347.1 482.1h0M350.3 479.9h0M345.0 480.7h0M345.5 474.4h0M349.7 469.1h0M358.0 479.2h0M346.0 469.2h0M347.7 477.2h0M345.2 479.3h0M346.3 475.3h0M360.0 461.0h0M353.7 479.3h0M344.3 468.4h0M346.4 477.2h0M345.7 479.8h0M347.6 478.1h0M343.2 477.9h0M347.0 477.2h0M347.1 480.2h0M347.0 476.5h0M343.3 470.1h0M349.3 478.5h0M344.4 481.4h0M344.6 473.5h0M343.3 470.8h0M351.7 474.5h0M350.3 480.0h0M345.6 471.8h0M362.7 476.5h0M352.9 470.5h0M346.3 477.9h0M346.8 476.1h0M345.6 475.8h0M352.0 481.2h0M350.5 480.1h0M349.3 478.2h0M346.8 479.2h0M346.2 479.1h0M343.3 474.5h0M344.9 482.0h0M346.7 478.4h0M352.1 470.6h0M344.2 479.9h0M349.3 479.6h0M351.6 476.5h0M344.9 465.4h0M345.4 469.0h0M345.0 472.0h0M353.1 473.6h0M352.5 481.5h0M356.6 476.7h0M360.0 467.5h0M344.4 477.3h0M359.5 471.9h0M351.6 460.9h0M354.9 470.2h0M346.3 475.0h0M344.1 469.9h0M344.9 478.9h0M358.4 478.7h0M358.0 472.1h0M344.9 472.2h0M343.9 480.1h0M347.7 476.1h0M346.5 474.1h0M344.2 476.2h0M358.1 479.7h0M343.5 472.2h0M346.1 473.7h0M345.5 472.8h0M354.3 471.8h0M346.4 477.9h0M348.9 476.3h0M348.2 466.5h0M351.5 478.2h0M344.5 469.9h0M345.4 472.7h0M354.7 473.4h0M348.9 482.5h0M345.0 475.4h0M351.8 468.1h0M348.0 463.4h0M347.6 482.5h0M352.0 473.2h0M357.3 473.1h0M349.5 481.8h0M367.1 478.4h0M346.0 479.4h0M344.5 481.3h0M346.6 472.2h0M347.2 461.7h0M348.6 477.8h0M344.5 480.6h0M349.5 472.5h0M358.5 478.3h0M344.5 477.8h0M346.1 481.5h0M343.8 481.6h0M352.1 482.7h0M350.0 471.5h0M345.5 475.0h0M345.8 470.6h0M345.3 477.8h0M348.4 480.4h0M349.1 480.6h0M357.8 479.4h0M345.6 477.2h0M348.2 477.4h0M346.5 475.4h0M346.9 479.9h0M348.6 480.2h0M348.0 478.9h0M351.6 475.4h0M346.3 482.8h0M345.6 478.8h0M352.2 479.2h0M347.7 469.1h0M349.0 473.9h0M347.7 471.8h0M351.5 480.3h0M348.4 475.1h0M345.4 465.6h0M373.5 476.6h0M347.5 478.4h0M347.1 481.2h0M347.6 477.3h0M345.7 478.3h0M348.8 481.3h0M345.2 462.0h0M348.3 474.6h0M344.9 476.7h0M344.5 476.2h0M348.4 481.1h0M345.5 481.2h0M347.8 472.8h0M353.6 467.2h0M354.1 479.3h0M356.3 468.4h0M350.9 478.3h0M344.2 477.8h0M343.9 477.4h0M345.8 478.4h0M351.3 470.0h0M343.6 457.1h0M345.1 478.9h0M354.6 479.6h0M344.4 476.4h0M360.7 478.6h0M347.3 474.2h0M346.6 481.0h0M346.8 473.7h0M348.0 466.4h0M351.5 466.1h0M346.8 469.2h0M353.9 471.7h0M349.6 470.9h0M345.6 465.8h0M352.0 480.7h0M352.2 474.1h0M348.2 470.0h0M345.9 475.1h0M362.1 470.2h0M348.7 470.4h0M353.6 477.8h0M353.1 476.3h0M350.6 478.3h0M347.4 474.8h0M358.5 479.9h0M347.5 461.9h0M344.9 473.8h0M346.2 476.4h0M346.9 461.1h0M346.1 482.4h0M348.1 470.4h0M346.8 482.0h0M349.1 479.2h0M345.8 459.0h0M353.6 473.6h0M346.7 476.8h0M348.9 480.0h0M349.6 475.3h0M345.4 478.8h0M346.7 478.6h0M350.2 474.0h0M348.9 480.5h0M346.5 475.7h0M344.9 478.2h0M351.4 470.6h0M350.4 476.0h0M348.1 482.1h0M349.6 481.3h0M345.0 481.1h0M349.8 478.3h0M349.6 480.4h0M346.6 478.2h0M360.4 480.2h0M358.7 474.6h0M344.6 479.4h0M348.3 471.3h0M344.7 472.0h0M343.6 476.9h0M356.5 475.8h0M352.0 472.4h0M349.6 464.8h0M350.8 472.3h0M346.7 467.1h0M347.3 476.9h0M345.6 477.9h0M350.1 477.9h0M343.2 478.5h0M344.0 478.0h0M344.1 478.5h0M354.4 482.0h0M358.9 480.7h0M346.6 481.0h0M348.4 478.4h0M345.5 478.5h0M357.9 475.9h0M346.1 471.0h0M350.9 479.6h0M347.6 476.4h0M350.5 475.7h0M347.5 476.2h0M347.1 482.8h0M352.3 465.9h0M344.5 480.5h0M351.2 475.7h0M346.3 473.5h0M346.2 467.6h0M344.5 468.9h0M349.1 477.7h0M349.8 476.2h0M346.2 458.9h0M346.4 463.7h0M349.6 476.8h0M346.3 481.5h0M343.2 474.5h0M357.6 475.1h0M353.6 475.3h0M348.7 473.0h0M349.3 470.3h0M344.6 475.3h0M349.3 473.1h0M353.8 479.8h0M345.3 477.7h0M347.1 481.1h0M345.3 480.7h0M351.0 477.3h0M343.6 478.4h0M348.8 481.0h0M344.2 482.1h0M343.6 454.2h0M346.5 472.9h0M344.3 482.4h0M346.1 474.6h0M347.4 466.7h0M350.2 467.1h0M350.0 480.6h0M355.1 480.1h0M348.8 477.1h0M350.0 478.6h0M344.4 481.6h0M346.6 461.0h0M346.6 480.2h0M344.4 479.8h0M345.6 481.9h0M349.0 469.8h0M351.0 482.7h0M347.8 478.5h0M344.9 480.5h0M352.9 470.5h0M359.8 472.0h0M344.6 467.4h0M345.9 479.4h0M355.8 478.0h0M347.1 475.5h0M349.8 482.7h0M344.4 470.3h0M344.4 481.0h0M345.2 477.4h0M345.8 475.0h0M347.2 475.3h0M346.0 481.8h0M350.4 478.5h0M344.5 478.5h0M343.5 474.7h0M346.4 469.4h0M348.3 475.2h0M354.6 476.0h0M348.7 480.5h0M345.1 479.4h0M344.1 479.8h0M351.0 465.3h0M346.4 472.1h0M350.7 472.3h0M349.1 464.5h0M347.2 465.7h0M345.6 475.9h0M360.1 477.6h0M343.5 480.9h0M346.5 479.4h0M347.0 478.6h0M354.6 475.8h0M347.1 476.1h0M352.2 471.4h0M355.3 461.8h0M345.0 478.5h0M347.6 482.1h0M348.3 477.1h0M349.1 473.9h0M347.3 463.4h0M347.8 471.8h0M359.8 481.5h0M344.8 480.5h0M348.1 479.3h0M356.1 468.4h0M351.0 468.5h0M355.0 481.9h0M349.5 481.4h0M344.2 464.6h0M345.1 477.4h0M347.3 482.8h0M355.4 477.5h0M348.9 478.1h0M348.7 480.7h0M347.5 478.2h0M345.3 478.3h0M352.6 467.3h0M343.8 480.1h0M351.0 473.6h0M348.6 475.5h0M345.7 468.4h0M345.6 473.2h0M346.7 466.6h0M343.8 480.8h0M348.8 481.6h0M348.1 478.9h0M348.1 481.5h0M348.3 479.9h0M345.0 472.8h0M346.5 482.3h0M350.5 474.1h0M350.4 479.8h0M347.8 471.6h0M348.1 482.7h0M345.8 480.9h0M351.8 477.0h0M346.6 476.5h0M357.7 478.8h0M345.8 470.8h0M345.3 477.7h0M350.6 480.0h0M351.3 482.3h0M349.5 477.2h0M346.4 473.4h0M351.2 473.7h0M354.6 475.5h0M344.1 475.2h0M353.9 478.1h0M347.5 478.7h0M350.3 479.9h0M344.6 468.4h0M345.6 476.9h0M347.4 468.6h0M358.0 479.8h0M350.2 474.1h0M410.6 355.4h0M443.0 370.5h0M498.4 380.8h0M403.1 377.4h0M403.8 392.4h0M377.4 409.9h0M371.6 421.0h0M374.1 420.3h0M367.0 426.5h0M440.2 420.6h0M423.4 445.6h0M350.2 444.2h0M353.8 444.6h0M351.3 446.0h0M362.7 446.0h0M359.1 447.3h0M371.6 443.2h0M384.1 448.0h0M371.6 455.6h0M446.6 474.8h0M353.1 442.5h0M355.6 443.6h0M360.9 444.6h0M347.4 445.3h0M368.1 445.6h0" stroke="#1f63aa" stroke-width="2.2" stroke-linecap="round" fill="none"/><path d="M372.2 472.1h0M356.4 474.0h0M372.4 470.3h0M405.6 465.8h0M372.2 468.7h0M350.8 478.7h0M365.1 473.2h0M426.3 460.1h0M393.3 469.0h0M364.9 474.3h0M382.2 471.1h0M346.6 480.9h0M350.9 480.4h0M391.0 468.7h0M355.3 474.3h0M355.3 476.2h0M366.4 475.4h0M378.1 477.3h0M369.5 474.2h0M388.6 473.5h0M346.7 478.6h0M383.2 472.8h0M397.9 464.3h0M358.9 476.7h0M362.0 472.3h0M349.7 476.0h0M376.4 471.6h0M350.5 471.7h0M362.1 477.0h0M347.4 479.1h0M412.4 463.4h0M445.4 456.1h0M363.3 477.1h0M358.5 478.4h0M381.0 471.2h0M347.7 479.3h0M367.3 478.0h0M366.1 473.4h0M375.4 472.9h0M358.8 481.5h0M358.2 479.9h0M387.4 469.2h0M393.3 466.6h0M374.7 470.7h0M367.6 475.0h0M365.8 474.5h0M355.1 480.4h0M350.1 479.3h0M405.6 470.3h0M419.6 456.6h0M386.6 469.9h0M373.6 478.3h0M384.2 476.7h0M361.4 476.5h0M356.6 478.5h0M400.3 466.4h0M456.0 457.7h0M384.7 473.9h0M390.8 470.4h0M360.6 478.5h0M396.9 465.8h0M348.4 475.7h0M367.2 481.3h0M354.1 477.9h0M414.5 468.2h0M376.0 472.5h0M399.7 466.9h0M374.6 468.2h0M384.4 476.9h0M386.9 466.3h0M448.4 465.2h0M392.1 470.4h0M364.9 480.4h0M361.9 479.9h0M372.6 473.2h0M359.0 480.6h0M356.3 481.7h0M398.4 472.1h0M369.0 470.7h0M357.8 478.1h0M378.5 471.7h0M378.4 471.3h0M365.2 473.8h0M385.4 467.7h0M384.5 471.0h0M368.0 474.8h0M408.8 457.4h0M368.8 481.2h0M384.5 474.5h0M398.3 472.7h0M371.1 475.8h0M364.9 477.2h0M392.9 475.9h0M348.0 481.0h0M384.1 469.4h0M347.8 477.2h0M357.2 474.6h0M348.9 480.2h0M370.4 478.5h0M379.9 477.2h0M361.8 480.5h0M346.9 473.8h0M347.1 477.0h0M388.0 472.4h0M395.1 468.2h0M354.4 480.2h0M373.5 467.2h0M348.1 482.2h0M412.4 469.0h0M385.4 475.3h0M399.7 466.3h0M367.4 475.2h0M379.3 466.8h0M359.9 477.6h0M357.6 476.0h0M350.2 478.2h0M369.2 469.6h0M382.6 468.3h0M369.8 474.5h0M402.1 466.2h0M414.4 473.1h0M363.1 478.8h0M359.8 477.4h0M378.9 475.1h0M352.4 478.2h0M366.1 473.3h0M371.9 474.1h0M379.7 476.4h0M376.0 472.9h0M399.1 467.6h0M368.1 469.2h0M358.6 480.4h0M447.2 451.3h0M360.6 482.2h0M359.8 476.4h0M354.7 478.5h0M349.4 482.6h0M368.7 470.1h0M359.1 481.9h0M356.6 481.3h0M397.0 468.9h0M367.6 474.0h0M350.5 477.5h0M368.1 475.0h0M433.6 457.9h0M367.5 473.5h0M387.0 471.5h0M348.0 481.7h0M395.0 469.3h0M351.0 482.2h0M349.2 482.5h0M414.0 459.1h0M354.8 475.6h0M387.4 473.2h0M371.5 474.7h0M354.0 479.9h0M371.5 472.2h0M384.7 469.9h0M396.3 469.0h0M359.2 476.3h0M421.1 453.4h0M379.5 473.4h0M375.3 474.6h0M352.6 477.1h0M345.7 481.1h0M371.0 475.2h0M350.1 478.4h0M374.0 465.0h0M355.8 480.5h0M369.5 480.7h0M364.8 477.9h0M358.9 480.2h0M354.7 474.8h0M349.0 481.6h0M376.4 475.7h0M385.4 469.3h0M368.2 472.3h0M372.9 473.4h0M436.5 469.2h0M367.5 474.7h0M355.8 479.5h0M369.6 476.9h0M360.3 479.4h0M397.3 463.4h0M347.9 480.2h0M421.4 462.6h0M369.1 471.9h0M370.9 476.4h0M350.8 480.6h0M412.3 462.6h0M389.8 470.6h0M357.9 472.8h0M376.3 474.5h0M360.6 469.9h0M409.0 463.7h0M398.0 470.2h0M352.5 478.9h0M368.0 477.6h0M410.9 466.4h0M372.0 472.2h0M365.5 471.0h0M356.3 478.1h0M352.0 478.1h0M382.3 473.5h0M398.3 468.8h0M360.6 478.9h0M349.5 480.5h0M382.2 470.4h0M405.8 465.0h0M361.4 477.2h0M366.0 478.0h0M362.3 475.8h0M384.4 471.6h0M357.3 471.2h0M346.0 478.7h0M391.6 473.1h0M417.8 462.5h0M365.7 478.2h0M385.1 468.7h0M366.0 478.9h0M380.1 476.9h0M356.9 479.4h0M363.0 473.9h0M426.2 458.3h0M351.7 478.0h0M415.8 465.4h0M377.9 473.8h0M375.4 472.1h0M359.7 480.9h0M349.3 478.5h0M385.8 473.8h0M374.7 470.3h0M360.1 478.4h0M370.8 472.5h0M373.8 475.6h0M369.0 473.5h0M369.4 477.7h0M397.1 470.0h0M390.3 475.2h0M381.0 469.3h0M366.3 472.4h0M372.7 470.9h0M355.2 476.7h0M358.4 478.0h0M363.9 471.6h0M400.1 463.8h0M364.1 478.2h0M347.3 476.4h0M350.7 477.5h0M368.2 475.0h0M395.9 470.0h0M357.1 477.3h0M378.4 475.2h0M372.6 471.1h0M389.2 469.3h0M370.4 477.4h0M354.8 481.2h0M357.2 480.1h0M355.1 477.0h0M403.6 467.1h0M362.7 475.4h0M366.8 480.8h0M357.5 475.9h0M363.9 472.1h0M349.1 481.9h0M364.6 479.3h0M351.9 479.1h0M348.1 478.3h0M376.2 470.3h0M361.6 482.5h0M359.2 474.7h0M347.1 480.0h0M391.8 469.4h0M367.3 481.4h0M442.7 448.6h0M353.2 479.7h0M351.9 479.2h0M356.3 478.4h0M386.7 477.3h0M370.1 473.5h0M350.6 481.3h0M379.1 475.6h0M366.4 473.6h0M395.2 468.1h0M366.7 475.9h0M356.2 481.2h0M371.5 473.8h0M376.3 472.1h0M380.9 477.4h0M356.2 476.5h0M352.8 475.5h0M385.2 473.5h0M384.6 472.8h0M349.6 475.4h0M373.4 473.0h0M439.4 458.1h0M350.2 480.3h0M351.0 479.9h0M368.8 472.2h0M364.5 477.2h0M372.7 473.3h0M472.9 453.0h0M367.4 476.5h0M355.6 478.8h0M353.0 480.4h0M371.7 473.8h0M386.2 468.1h0M363.1 482.3h0M374.9 475.1h0M355.6 478.3h0M350.5 479.3h0M362.0 469.6h0M356.3 480.9h0M357.7 471.7h0M390.0 467.8h0M362.7 473.3h0M356.7 478.2h0M369.3 472.8h0M392.5 464.6h0M364.7 477.6h0M365.9 478.2h0M359.5 477.3h0M367.0 476.7h0M382.8 474.7h0M373.0 472.7h0M351.0 477.5h0M378.3 475.7h0M364.2 477.8h0M385.8 466.4h0M364.0 477.8h0M375.7 472.6h0M352.8 475.8h0M354.3 479.4h0M368.0 477.1h0M351.7 479.3h0M348.9 479.1h0M356.1 478.4h0M350.5 473.9h0M378.6 477.1h0M354.8 480.4h0M345.9 479.5h0M418.6 465.4h0M384.0 465.4h0M391.9 478.0h0M360.6 475.8h0M399.9 469.9h0M360.3 476.9h0M349.6 476.5h0M349.7 475.9h0M418.2 465.0h0M363.5 474.1h0M359.8 474.4h0M357.3 477.0h0M353.6 479.6h0M358.7 479.6h0M369.8 469.5h0M435.4 467.1h0M479.1 446.4h0M356.6 478.4h0M364.5 470.8h0M421.5 465.0h0M392.1 470.8h0M357.7 482.3h0M357.2 478.9h0M360.3 480.1h0M378.7 475.6h0M364.8 473.9h0M388.6 470.0h0M353.3 477.6h0M357.9 482.4h0M352.1 475.8h0M349.8 480.7h0M351.5 478.9h0M355.3 475.9h0M379.8 471.6h0M382.2 473.1h0M377.6 471.4h0M364.6 475.9h0M376.9 470.7h0M367.4 472.1h0M363.2 479.5h0M370.4 474.6h0M382.7 474.0h0M385.3 468.2h0M352.0 481.3h0M416.1 460.1h0M351.1 473.5h0M359.7 476.3h0M372.9 476.8h0M348.6 476.9h0M363.0 477.7h0M376.0 473.3h0M360.3 477.7h0M352.7 476.1h0M351.6 479.0h0M361.4 475.9h0M360.8 478.3h0M356.3 472.9h0M402.3 465.5h0M373.8 474.2h0M362.4 478.1h0M353.1 477.5h0M346.9 477.5h0M361.2 478.6h0M409.5 460.9h0M357.4 473.2h0M367.9 470.7h0M356.9 476.2h0M351.0 479.9h0M363.4 473.3h0M362.9 473.8h0M351.4 481.7h0M356.2 474.6h0M353.1 477.4h0M353.2 478.4h0M402.6 468.3h0M393.4 468.7h0M351.8 477.0h0M425.4 464.7h0M376.4 473.3h0M362.9 474.7h0M408.1 469.0h0M368.3 472.4h0M362.7 472.9h0M394.8 467.9h0M382.9 469.3h0M368.9 476.3h0M368.5 477.5h0M371.8 474.9h0M365.0 473.0h0M374.1 474.9h0M354.2 479.0h0M413.5 465.1h0M358.3 477.8h0M381.0 477.4h0M382.1 474.0h0M359.8 479.9h0M354.9 477.4h0M385.8 471.5h0M386.3 472.9h0M414.6 462.8h0M357.7 475.7h0M377.1 467.2h0M356.4 480.3h0M376.1 477.3h0M381.4 471.0h0M376.6 471.3h0M390.9 472.3h0M349.2 479.2h0M356.2 482.3h0M386.1 469.2h0M372.3 477.1h0M369.3 475.6h0M378.7 472.1h0M424.8 468.5h0M350.3 475.4h0M358.3 471.8h0M362.2 477.7h0M350.2 476.2h0M353.8 477.7h0M378.6 467.1h0M358.6 481.6h0M413.6 464.6h0M402.4 461.0h0M349.6 472.8h0M400.5 472.5h0M359.0 476.4h0M366.3 478.3h0M385.5 472.4h0M373.5 472.0h0M436.5 453.0h0M387.0 473.5h0M354.2 479.6h0M384.5 474.8h0M366.1 475.8h0M352.6 480.3h0M403.5 471.0h0M362.6 480.1h0M353.2 476.5h0M365.3 480.3h0M392.4 469.2h0M387.4 471.7h0M377.1 479.8h0M383.6 467.4h0M355.7 477.8h0M363.8 475.0h0M382.0 469.3h0M354.9 480.4h0M366.4 475.8h0M353.3 476.6h0M359.6 472.8h0M362.6 481.4h0M367.6 473.7h0M358.9 476.5h0M377.7 473.6h0M373.6 472.5h0M364.9 478.2h0M380.4 472.9h0M400.4 468.1h0M358.8 474.7h0M353.4 478.7h0M370.0 482.2h0M358.8 475.6h0M408.9 471.9h0M356.1 481.9h0M354.9 480.7h0M395.0 460.0h0M404.1 466.7h0M357.6 479.6h0M363.4 481.4h0M379.9 476.6h0M381.7 471.6h0M347.7 478.9h0M393.8 470.4h0M376.4 474.0h0M373.6 477.5h0M358.9 479.7h0M380.5 473.6h0M360.8 474.9h0M346.8 477.9h0M351.7 477.2h0M356.2 479.7h0M372.2 474.5h0M365.8 474.1h0M380.4 471.7h0M348.9 479.4h0M402.3 465.7h0M383.0 470.0h0M458.3 447.1h0M389.9 470.8h0M382.6 477.8h0M379.7 473.3h0M369.4 472.6h0M349.6 480.7h0M393.6 467.5h0M375.8 473.4h0M349.1 476.0h0M353.4 480.6h0M352.2 478.3h0M364.9 475.7h0M375.5 473.9h0M361.2 475.1h0M349.7 477.4h0M360.5 472.4h0M353.7 476.9h0M356.9 480.6h0M382.5 470.1h0M428.9 464.1h0M367.0 477.3h0M366.3 475.2h0M468.9 444.3h0M355.7 477.0h0M397.8 469.8h0M394.2 474.9h0M369.8 474.0h0M403.7 470.7h0M348.5 482.1h0M362.1 473.1h0M379.0 475.8h0M369.4 476.4h0M345.9 481.6h0M399.9 459.7h0M360.0 479.3h0M351.4 479.6h0M364.2 473.8h0M351.5 478.1h0M373.0 476.6h0M370.2 469.0h0M346.9 479.7h0M369.8 475.7h0M374.0 475.0h0M355.8 481.2h0M395.7 467.7h0M373.0 472.7h0M385.2 469.6h0M369.9 471.0h0M349.6 482.3h0M348.8 479.9h0M355.9 480.7h0M357.5 479.9h0M363.2 472.6h0M372.8 480.4h0M357.8 480.1h0M390.1 475.8h0M361.6 474.4h0M353.6 475.1h0M356.4 472.7h0M351.7 480.0h0M367.5 474.4h0M365.2 475.4h0M357.7 478.8h0M354.7 479.6h0M362.1 475.0h0M353.7 476.6h0M359.5 478.5h0M363.4 475.4h0M359.7 479.4h0M362.9 477.3h0M382.5 469.1h0M359.7 476.9h0M350.2 480.4h0M367.1 475.6h0M384.2 471.5h0M365.3 473.3h0M368.9 477.2h0M359.6 480.3h0M403.1 465.9h0M392.5 466.2h0M436.4 465.7h0M373.0 471.4h0M374.7 471.5h0M360.7 480.2h0M380.0 478.7h0M389.3 473.0h0M438.7 455.6h0M360.9 475.7h0M382.8 470.6h0M372.7 475.0h0M354.3 478.5h0M366.4 477.6h0M360.0 474.4h0M374.5 472.5h0M405.4 471.1h0M353.6 475.8h0M364.8 474.7h0M351.5 481.7h0M404.1 468.7h0M378.1 471.1h0M350.2 480.6h0M353.1 476.1h0M350.7 478.0h0M357.9 481.1h0M360.1 476.2h0M369.0 474.5h0M399.9 464.9h0M350.8 470.8h0M393.6 472.7h0M366.6 481.1h0M350.5 477.1h0M368.4 479.1h0M360.8 473.6h0M376.4 476.6h0M380.6 473.2h0M356.2 476.8h0M356.8 475.7h0M346.3 479.1h0M388.0 470.0h0M382.9 468.3h0M395.2 474.4h0M395.1 471.6h0M395.0 470.8h0M368.3 477.2h0M367.0 478.1h0M378.6 472.7h0M371.0 476.5h0M346.1 482.2h0M371.8 473.3h0M347.8 475.5h0M388.8 478.7h0M354.3 478.2h0M369.4 472.8h0M362.8 475.8h0M375.4 471.4h0M348.9 481.6h0M348.1 476.6h0M370.0 474.8h0M364.3 479.6h0M356.6 475.8h0M357.5 479.4h0M371.2 469.8h0M352.8 477.9h0M400.1 469.4h0M362.7 479.2h0M380.4 471.4h0M349.6 480.6h0M358.7 478.4h0M353.0 478.2h0M384.6 469.5h0M353.7 476.4h0M361.4 477.2h0M380.4 470.4h0M365.6 469.1h0M373.8 470.3h0M357.6 475.6h0M356.9 473.7h0M354.4 468.0h0M378.1 469.9h0M361.3 477.5h0M401.3 470.0h0M396.3 466.1h0M352.2 477.8h0M347.4 480.4h0M384.8 471.3h0M363.3 479.4h0M353.7 473.6h0M357.1 477.3h0M350.4 477.7h0M388.2 468.0h0M370.4 473.7h0M357.0 478.3h0M366.1 472.9h0M400.3 464.7h0M350.2 476.6h0M401.8 468.7h0M362.4 474.7h0M372.4 470.0h0M355.1 475.9h0M367.5 475.4h0M348.7 482.1h0M347.2 481.9h0M373.4 469.4h0M356.6 476.0h0M371.4 479.7h0M352.8 478.6h0M352.8 477.0h0M386.2 470.6h0M348.1 480.5h0M368.2 471.6h0M369.0 473.2h0M411.0 462.0h0M347.3 475.7h0M372.6 475.4h0M383.4 470.4h0M371.2 470.4h0M349.1 479.1h0M361.9 472.2h0M362.3 480.0h0M350.4 476.6h0M369.2 474.1h0M352.7 478.5h0M351.8 480.5h0M370.4 475.8h0M373.7 472.9h0M355.9 481.8h0M387.3 474.2h0M363.2 472.1h0M387.4 470.9h0M354.2 478.8h0M358.1 479.6h0M439.0 454.8h0M372.3 474.9h0M406.2 462.9h0M348.9 478.1h0M455.6 451.4h0M350.2 480.9h0M353.2 482.0h0M358.0 478.9h0M366.4 470.1h0M371.7 472.8h0M377.9 473.6h0M355.7 476.6h0M367.2 477.3h0M354.8 477.3h0M375.1 473.7h0M389.7 472.9h0M348.9 481.0h0M360.9 477.0h0M382.8 474.4h0M418.2 467.2h0M356.4 477.8h0M351.9 477.5h0M368.1 477.0h0M349.0 478.2h0M349.4 472.5h0M381.6 475.8h0M350.7 478.2h0M353.7 480.7h0M380.1 474.4h0M365.1 472.9h0M362.1 478.4h0M355.6 473.4h0M374.0 472.7h0M382.5 473.5h0M365.8 477.5h0M368.2 481.3h0M359.5 477.1h0M361.8 477.4h0M355.1 481.8h0M358.9 479.1h0M356.7 476.3h0M378.9 476.1h0M383.0 475.1h0M353.4 473.9h0M374.1 479.8h0M378.5 467.3h0M421.5 465.8h0M357.5 478.1h0M381.1 472.5h0M350.5 481.9h0M391.9 468.6h0M353.0 476.7h0M348.0 473.6h0M355.4 478.2h0M358.1 479.4h0M395.0 475.3h0M348.2 481.8h0M386.2 471.3h0M372.4 471.4h0M370.7 479.5h0M370.2 474.9h0M353.1 477.4h0M417.9 464.7h0M351.2 476.6h0M386.1 472.0h0M349.7 478.8h0M353.4 475.6h0M348.6 481.6h0M361.6 482.5h0M428.8 470.4h0M380.2 475.8h0M346.7 480.7h0M370.0 473.1h0M368.8 477.2h0M354.9 474.8h0M394.2 473.2h0M418.7 468.0h0M353.8 478.7h0M354.7 480.1h0M355.4 474.9h0M367.8 471.4h0M394.1 464.3h0M414.3 465.7h0M396.9 472.5h0M353.9 481.5h0M392.1 461.5h0M360.0 480.9h0M408.5 457.9h0M408.7 470.5h0M366.2 476.4h0M366.0 477.6h0M357.3 477.8h0M369.7 477.7h0M365.1 479.9h0M381.6 473.2h0M347.5 480.6h0M390.7 469.6h0M353.4 478.8h0M452.2 458.9h0M355.1 476.3h0M405.8 465.2h0M353.9 475.7h0M358.4 474.8h0M374.6 472.5h0M396.3 465.6h0M379.8 470.5h0M378.4 473.9h0M425.5 464.9h0M372.2 473.0h0M353.0 478.3h0M360.8 475.5h0M371.5 469.5h0M373.6 470.1h0M356.0 480.1h0M370.4 478.7h0M408.5 473.8h0M353.4 478.0h0M348.4 477.1h0M360.6 472.5h0M383.4 468.0h0M362.3 469.6h0M355.4 475.5h0M380.9 471.3h0M369.7 475.0h0M349.8 481.5h0M382.1 474.7h0M370.4 473.0h0M360.7 473.4h0M348.4 482.4h0M355.4 477.1h0M361.1 478.0h0M368.1 473.9h0M354.8 474.7h0M353.0 474.4h0M357.1 478.4h0M363.5 475.8h0M367.6 477.7h0M355.8 477.8h0M414.9 469.0h0M368.1 477.0h0M363.0 480.2h0M347.0 480.7h0M364.5 479.7h0M367.2 473.0h0M374.2 477.3h0M379.3 472.6h0M406.6 468.6h0M412.9 462.2h0M368.0 480.0h0M390.3 466.4h0M347.2 474.7h0M359.1 477.4h0M358.8 476.3h0M373.2 477.4h0M359.5 478.9h0M351.7 479.3h0M405.5 467.6h0M398.8 476.4h0M392.5 473.0h0M409.0 468.6h0M379.4 478.4h0M351.9 477.5h0M352.2 478.7h0M364.6 478.5h0M355.4 480.9h0M395.7 464.2h0M428.8 465.3h0M362.9 477.0h0M356.6 480.6h0M364.7 474.5h0M408.6 462.5h0M355.8 481.0h0M363.9 477.4h0M375.0 474.9h0M360.2 472.0h0M377.7 473.4h0M354.4 472.9h0M376.8 474.6h0M386.9 473.0h0M393.3 465.6h0M372.7 472.4h0M402.3 462.9h0M357.6 477.6h0M360.8 477.7h0M367.2 478.8h0M378.3 469.2h0M370.1 470.1h0M379.0 473.1h0M394.7 472.7h0M349.8 479.0h0M367.1 478.9h0M364.2 479.7h0M374.1 474.6h0M356.7 476.3h0M349.8 478.4h0M375.2 474.7h0M375.4 479.3h0M363.7 475.3h0M354.7 475.1h0M346.0 481.3h0M363.1 478.0h0M363.9 479.6h0M412.5 473.1h0M351.2 477.9h0M361.3 477.9h0M358.0 476.8h0M356.0 475.4h0M348.1 476.7h0M375.6 475.9h0M360.4 475.0h0M372.7 475.9h0M363.7 473.2h0M378.1 476.0h0M350.2 479.3h0M418.8 466.4h0M384.4 469.1h0M357.6 475.5h0M375.6 466.6h0M370.6 477.0h0M363.1 472.2h0M360.2 476.8h0M377.3 474.4h0M348.6 479.4h0M352.0 477.9h0M366.0 478.4h0M359.4 474.1h0M356.6 475.3h0M365.8 477.3h0M381.9 472.0h0M351.8 481.9h0M350.0 477.6h0M351.3 479.6h0M373.9 473.9h0M351.0 479.7h0M356.8 474.8h0M361.6 476.7h0M355.4 478.0h0M368.0 476.3h0M356.2 481.4h0M352.9 481.0h0M357.1 477.4h0M361.3 475.3h0M352.3 477.9h0M382.8 469.9h0M371.5 470.2h0M443.2 450.9h0M400.4 465.8h0M383.5 473.8h0M380.1 472.0h0M358.3 478.5h0M392.6 459.0h0M384.9 471.4h0M366.8 476.5h0M405.6 466.7h0M355.2 477.1h0M358.9 476.9h0M351.3 477.6h0M383.7 475.2h0M393.1 469.1h0M389.5 475.4h0M362.9 471.7h0M359.4 481.8h0M374.5 468.3h0M360.1 479.9h0M351.8 477.2h0M388.1 471.9h0M349.8 480.3h0M366.2 478.2h0M373.2 472.1h0M369.4 474.8h0M354.1 480.8h0M350.6 478.1h0M374.8 473.5h0M356.1 478.7h0M352.4 474.8h0M392.0 465.1h0M362.9 476.1h0M347.3 478.7h0M371.1 475.4h0M379.1 465.0h0M409.1 467.2h0M368.3 480.4h0M354.1 473.4h0M491.0 440.0h0M364.7 476.6h0M362.0 474.5h0M382.5 474.6h0M403.3 469.8h0M358.1 481.7h0M366.9 475.8h0M397.3 471.7h0M365.2 478.3h0M382.6 476.2h0M378.1 475.3h0M401.7 474.1h0M354.7 474.2h0M360.5 479.8h0M350.2 476.9h0M421.1 462.0h0M421.2 463.8h0M363.9 473.2h0M371.3 476.3h0M410.3 468.7h0M374.9 472.6h0M350.4 477.0h0M361.0 479.5h0M358.5 476.2h0M408.7 463.7h0M388.9 469.3h0M353.9 478.5h0M389.6 469.6h0M363.1 476.2h0M348.4 480.1h0M357.9 480.1h0M357.6 480.6h0M354.3 475.2h0M351.9 476.5h0M370.8 473.6h0M366.4 475.7h0M362.2 475.4h0M439.0 461.8h0M355.3 476.5h0M424.4 462.4h0M367.6 475.6h0M397.5 466.0h0M374.3 473.1h0M378.7 475.5h0M356.2 481.5h0M349.1 480.7h0M390.0 474.8h0M349.4 479.9h0M380.9 474.5h0M394.2 472.2h0M352.3 478.9h0M392.9 471.7h0M375.4 475.4h0M353.9 478.5h0M354.5 478.0h0M383.7 475.8h0M349.6 476.4h0M354.3 477.3h0M382.0 475.6h0M352.7 476.0h0M394.1 468.4h0M392.4 463.5h0M361.5 474.0h0M360.4 473.3h0M361.8 479.4h0M358.1 479.1h0M352.3 473.9h0M368.8 475.2h0M378.5 476.3h0M352.0 481.6h0M380.6 478.5h0M410.2 468.5h0M353.1 472.3h0M362.7 474.3h0M382.2 471.2h0M363.7 477.9h0M387.0 474.8h0M363.9 478.9h0M360.3 477.3h0M464.7 456.3h0M398.1 470.1h0M353.4 477.9h0M359.7 474.8h0M400.3 463.1h0M362.7 478.0h0M375.9 473.3h0M359.0 478.9h0M360.9 480.3h0M359.3 476.5h0M361.0 472.0h0M359.7 475.1h0M413.7 463.6h0M463.2 452.7h0M351.4 478.3h0M374.4 470.4h0M372.6 469.8h0M364.7 476.7h0M377.8 466.7h0M388.8 469.6h0M358.9 472.3h0M363.1 475.9h0M365.9 476.2h0M354.9 479.7h0M402.0 466.3h0M349.3 480.8h0M381.9 472.7h0M360.9 471.9h0M387.9 472.0h0M358.1 477.7h0M399.2 465.0h0M397.9 472.8h0M365.7 481.4h0M368.9 477.0h0M358.6 480.5h0M356.1 476.6h0M365.9 474.1h0M347.3 479.7h0M387.6 472.4h0M347.0 479.0h0M356.3 482.4h0M368.4 480.2h0M362.3 476.2h0M371.6 473.3h0M353.1 479.2h0M407.7 459.3h0M350.9 476.1h0M351.7 479.4h0M400.3 468.1h0M372.9 474.1h0M406.2 464.1h0M404.7 471.4h0M390.5 473.2h0M353.5 477.7h0M373.9 477.7h0M408.5 464.2h0M354.5 477.2h0M357.2 482.3h0M384.8 469.3h0M354.6 474.4h0M451.3 460.8h0M358.4 482.0h0M370.9 472.3h0M363.6 470.7h0M364.3 471.2h0M373.7 472.3h0M449.8 454.1h0M361.5 476.5h0M356.3 482.3h0M348.7 480.8h0M361.1 478.3h0M357.1 471.1h0M414.7 476.0h0M387.2 469.1h0M350.7 480.3h0M379.6 473.1h0M383.1 472.0h0M425.7 457.1h0M348.2 477.6h0M354.9 480.9h0M356.0 481.5h0M359.9 478.5h0M374.5 465.2h0M353.4 481.3h0M371.6 469.8h0M357.2 479.0h0M375.4 482.4h0M356.2 477.3h0M399.4 467.1h0M357.3 475.3h0M375.8 477.2h0M357.0 481.3h0M361.2 480.1h0M354.9 477.7h0M383.3 473.1h0M353.3 479.2h0M393.2 467.9h0M354.9 474.9h0M353.7 478.5h0M351.5 477.1h0M368.5 472.5h0M360.8 473.7h0M386.0 469.8h0M362.2 473.8h0M425.1 461.8h0M441.8 460.0h0M355.7 476.7h0M372.6 476.6h0M373.8 471.7h0M388.9 470.8h0M397.1 471.8h0M347.4 474.3h0M366.4 471.9h0M357.7 479.2h0M388.4 473.5h0M350.0 481.1h0M360.3 482.5h0M368.9 473.1h0M405.6 469.3h0M398.8 467.5h0M350.8 477.1h0M385.0 466.4h0M355.9 475.7h0M368.7 471.4h0M362.2 476.4h0M360.4 479.7h0M349.9 477.0h0M385.9 471.5h0M349.4 477.6h0M355.3 478.1h0M349.3 479.2h0M371.7 476.3h0M372.0 473.6h0M364.7 476.2h0M380.8 469.2h0M362.7 474.6h0M363.6 476.1h0M363.0 477.7h0M352.0 479.8h0M356.1 479.1h0M390.0 469.8h0M359.7 475.4h0M360.9 474.9h0M358.3 472.8h0M361.6 475.1h0M360.1 476.1h0M392.1 465.4h0M368.0 473.3h0M347.2 481.1h0M356.8 474.6h0M350.3 464.0h0M351.4 473.7h0M351.6 466.0h0M351.2 472.5h0M347.2 470.4h0M353.6 472.9h0M352.1 475.3h0M350.9 471.3h0M348.0 471.4h0M351.7 474.2h0M354.1 472.7h0M350.7 465.2h0M352.2 470.2h0M351.7 471.9h0M351.8 466.5h0M355.0 462.6h0M356.9 471.2h0M353.0 470.0h0M351.4 476.1h0M347.4 468.0h0M355.7 471.9h0M352.6 473.9h0M351.0 467.1h0M352.0 470.3h0M357.3 466.2h0M350.0 471.3h0M353.0 464.9h0M350.1 467.0h0M350.6 462.6h0M349.2 466.2h0M349.4 468.5h0M355.9 470.6h0M352.3 466.2h0M348.2 472.1h0M353.7 469.0h0M355.1 474.3h0M354.7 466.5h0M346.7 470.4h0M349.9 468.1h0M346.7 471.0h0M356.2 475.6h0M351.2 473.4h0M354.0 467.0h0M351.0 462.4h0M356.5 463.4h0M349.6 472.9h0M349.2 473.4h0M352.9 472.8h0M350.4 468.9h0M352.9 470.9h0M349.0 468.5h0M350.2 474.7h0M349.0 472.7h0M353.3 465.1h0M356.3 470.2h0M351.1 464.9h0M357.0 464.6h0M351.4 472.5h0M355.5 471.2h0M352.0 418.2h0M364.9 415.8h0M375.9 443.2h0M400.2 448.7h0M368.1 454.2h0M410.9 456.9h0M435.9 453.5h0M464.5 454.9h0M478.7 476.1h0M453.8 465.9h0M421.6 470.7h0M382.4 454.2h0M394.8 460.4h0M396.6 458.3h0M425.2 463.1h0M443.0 462.4h0M450.2 456.2h0M471.6 456.9h0M485.9 454.2h0M493.0 462.4h0" stroke="#e1541c" stroke-width="2.2" stroke-linecap="round" fill="none"/><path d="M345.6 480.3 L498.4 446.3" stroke="#d8341a" stroke-width="1.6"/><rect x="0.5" y="0.5" width="519" height="515" fill="none" stroke="#5c5c5c" stroke-width="1"/></svg></body></html>
